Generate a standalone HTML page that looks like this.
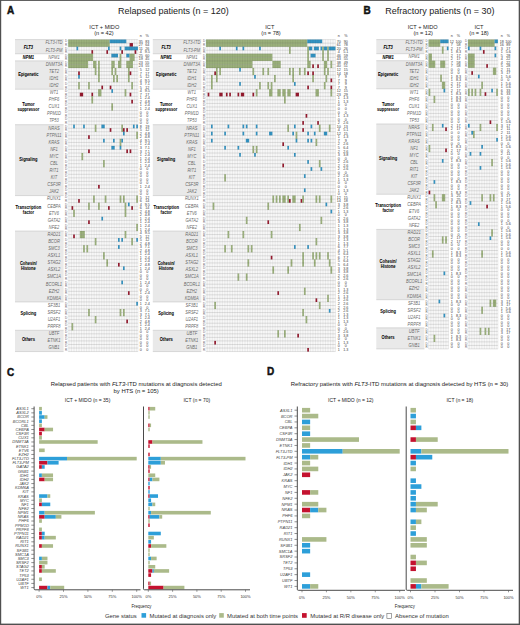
<!DOCTYPE html>
<html><head><meta charset="utf-8"><title>Figure</title>
<style>html,body{margin:0;padding:0;background:#fff;width:520px;height:625px;overflow:hidden;font-family:"Liberation Sans",sans-serif}svg{display:block}</style>
</head><body>
<svg width="520" height="625" viewBox="0 0 520 625" font-family="Liberation Sans, sans-serif"><rect x="0" y="0" width="520" height="625" fill="#fff"/>
<text x="7.1" y="14.3" font-size="10" text-anchor="start" font-weight="bold" font-style="normal" fill="#111" stroke="#111" stroke-width="0.45">A</text>
<text x="173.4" y="14.4" font-size="9" text-anchor="middle" font-weight="normal" font-style="normal" fill="#222" >Relapsed patients (n = 120)</text>
<rect x="15" y="39.6" width="48.6" height="14.18" fill="#e9e9e9"/>
<line x1="15" y1="39.6" x2="63.6" y2="39.6" stroke="#bbb" stroke-width="0.5"/>
<text transform="translate(28.4,48.71) scale(0.9,1)" font-size="4.5" text-anchor="middle" font-weight="bold" font-style="italic" fill="#000" stroke="#000" stroke-width="0.04">FLT3</text>
<text transform="translate(54,44.45) scale(0.84,1)" font-size="4.85" text-anchor="middle" font-style="italic" fill="#6a6a6a">FLT3-ITD</text>
<text transform="translate(54,51.53) scale(0.84,1)" font-size="4.85" text-anchor="middle" font-style="italic" fill="#6a6a6a">FLT3-PM</text>
<line x1="15" y1="53.78" x2="63.6" y2="53.78" stroke="#bbb" stroke-width="0.5"/>
<text transform="translate(28.4,59.45) scale(0.9,1)" font-size="4.5" text-anchor="middle" font-weight="bold" font-style="italic" fill="#000" stroke="#000" stroke-width="0.04">NPM1</text>
<text transform="translate(54,58.62) scale(0.84,1)" font-size="4.85" text-anchor="middle" font-style="italic" fill="#6a6a6a">NPM1</text>
<rect x="15" y="60.87" width="48.6" height="28.36" fill="#e9e9e9"/>
<line x1="15" y1="60.87" x2="63.6" y2="60.87" stroke="#bbb" stroke-width="0.5"/>
<text transform="translate(28.4,75.87) scale(0.9,1)" font-size="4.5" text-anchor="middle" font-weight="bold" font-style="normal" fill="#000" stroke="#000" stroke-width="0.04">Epigenetic</text>
<text transform="translate(54,65.72) scale(0.84,1)" font-size="4.85" text-anchor="middle" font-style="italic" fill="#6a6a6a">DNMT3A</text>
<text transform="translate(54,72.81) scale(0.84,1)" font-size="4.85" text-anchor="middle" font-style="italic" fill="#6a6a6a">TET2</text>
<text transform="translate(54,79.9) scale(0.84,1)" font-size="4.85" text-anchor="middle" font-style="italic" fill="#6a6a6a">IDH1</text>
<text transform="translate(54,86.98) scale(0.84,1)" font-size="4.85" text-anchor="middle" font-style="italic" fill="#6a6a6a">IDH2</text>
<line x1="15" y1="89.23" x2="63.6" y2="89.23" stroke="#bbb" stroke-width="0.5"/>
<text transform="translate(28.4,106.23) scale(0.9,1)" font-size="4.5" text-anchor="middle" font-weight="bold" font-style="normal" fill="#000" stroke="#000" stroke-width="0.04">Tumor</text>
<text transform="translate(28.4,111.33) scale(0.9,1)" font-size="4.5" text-anchor="middle" font-weight="bold" font-style="normal" fill="#000" stroke="#000" stroke-width="0.04">suppressor</text>
<text transform="translate(54,94.08) scale(0.84,1)" font-size="4.85" text-anchor="middle" font-style="italic" fill="#6a6a6a">WT1</text>
<text transform="translate(54,101.17) scale(0.84,1)" font-size="4.85" text-anchor="middle" font-style="italic" fill="#6a6a6a">PHF6</text>
<text transform="translate(54,108.25) scale(0.84,1)" font-size="4.85" text-anchor="middle" font-style="italic" fill="#6a6a6a">CUX1</text>
<text transform="translate(54,115.34) scale(0.84,1)" font-size="4.85" text-anchor="middle" font-style="italic" fill="#6a6a6a">PPM1D</text>
<text transform="translate(54,122.44) scale(0.84,1)" font-size="4.85" text-anchor="middle" font-style="italic" fill="#6a6a6a">TP53</text>
<rect x="15" y="124.68" width="48.6" height="70.9" fill="#e9e9e9"/>
<line x1="15" y1="124.68" x2="63.6" y2="124.68" stroke="#bbb" stroke-width="0.5"/>
<text transform="translate(28.4,161.45) scale(0.9,1)" font-size="4.5" text-anchor="middle" font-weight="bold" font-style="normal" fill="#000" stroke="#000" stroke-width="0.04">Signaling</text>
<text transform="translate(54,129.53) scale(0.84,1)" font-size="4.85" text-anchor="middle" font-style="italic" fill="#6a6a6a">NRAS</text>
<text transform="translate(54,136.62) scale(0.84,1)" font-size="4.85" text-anchor="middle" font-style="italic" fill="#6a6a6a">PTPN11</text>
<text transform="translate(54,143.71) scale(0.84,1)" font-size="4.85" text-anchor="middle" font-style="italic" fill="#6a6a6a">KRAS</text>
<text transform="translate(54,150.8) scale(0.84,1)" font-size="4.85" text-anchor="middle" font-style="italic" fill="#6a6a6a">NF1</text>
<text transform="translate(54,157.89) scale(0.84,1)" font-size="4.85" text-anchor="middle" font-style="italic" fill="#6a6a6a">MYC</text>
<text transform="translate(54,164.97) scale(0.84,1)" font-size="4.85" text-anchor="middle" font-style="italic" fill="#6a6a6a">CBL</text>
<text transform="translate(54,172.06) scale(0.84,1)" font-size="4.85" text-anchor="middle" font-style="italic" fill="#6a6a6a">RIT1</text>
<text transform="translate(54,179.16) scale(0.84,1)" font-size="4.85" text-anchor="middle" font-style="italic" fill="#6a6a6a">KIT</text>
<text transform="translate(54,186.25) scale(0.84,1)" font-size="4.85" text-anchor="middle" font-style="italic" fill="#6a6a6a">CSF3R</text>
<text transform="translate(54,193.34) scale(0.84,1)" font-size="4.85" text-anchor="middle" font-style="italic" fill="#6a6a6a">JAK2</text>
<line x1="15" y1="195.58" x2="63.6" y2="195.58" stroke="#bbb" stroke-width="0.5"/>
<text transform="translate(28.4,208.57) scale(0.9,1)" font-size="4.5" text-anchor="middle" font-weight="bold" font-style="normal" fill="#000" stroke="#000" stroke-width="0.04">Transcription</text>
<text transform="translate(28.4,213.68) scale(0.9,1)" font-size="4.5" text-anchor="middle" font-weight="bold" font-style="normal" fill="#000" stroke="#000" stroke-width="0.04">factor</text>
<text transform="translate(54,200.43) scale(0.84,1)" font-size="4.85" text-anchor="middle" font-style="italic" fill="#6a6a6a">RUNX1</text>
<text transform="translate(54,207.52) scale(0.84,1)" font-size="4.85" text-anchor="middle" font-style="italic" fill="#6a6a6a">CEBPA</text>
<text transform="translate(54,214.61) scale(0.84,1)" font-size="4.85" text-anchor="middle" font-style="italic" fill="#6a6a6a">ETV6</text>
<text transform="translate(54,221.7) scale(0.84,1)" font-size="4.85" text-anchor="middle" font-style="italic" fill="#6a6a6a">GATA2</text>
<text transform="translate(54,228.78) scale(0.84,1)" font-size="4.85" text-anchor="middle" font-style="italic" fill="#6a6a6a">NFE2</text>
<rect x="15" y="231.03" width="48.6" height="70.9" fill="#e9e9e9"/>
<line x1="15" y1="231.03" x2="63.6" y2="231.03" stroke="#bbb" stroke-width="0.5"/>
<text transform="translate(28.4,265.25) scale(0.9,1)" font-size="4.5" text-anchor="middle" font-weight="bold" font-style="normal" fill="#000" stroke="#000" stroke-width="0.04">Cohesin/</text>
<text transform="translate(28.4,270.35) scale(0.9,1)" font-size="4.5" text-anchor="middle" font-weight="bold" font-style="normal" fill="#000" stroke="#000" stroke-width="0.04">Histone</text>
<text transform="translate(54,235.88) scale(0.84,1)" font-size="4.85" text-anchor="middle" font-style="italic" fill="#6a6a6a">RAD21</text>
<text transform="translate(54,242.97) scale(0.84,1)" font-size="4.85" text-anchor="middle" font-style="italic" fill="#6a6a6a">BCOR</text>
<text transform="translate(54,250.06) scale(0.84,1)" font-size="4.85" text-anchor="middle" font-style="italic" fill="#6a6a6a">SMC3</text>
<text transform="translate(54,257.15) scale(0.84,1)" font-size="4.85" text-anchor="middle" font-style="italic" fill="#6a6a6a">ASXL1</text>
<text transform="translate(54,264.24) scale(0.84,1)" font-size="4.85" text-anchor="middle" font-style="italic" fill="#6a6a6a">STAG2</text>
<text transform="translate(54,271.33) scale(0.84,1)" font-size="4.85" text-anchor="middle" font-style="italic" fill="#6a6a6a">ASXL2</text>
<text transform="translate(54,278.42) scale(0.84,1)" font-size="4.85" text-anchor="middle" font-style="italic" fill="#6a6a6a">SMC1A</text>
<text transform="translate(54,285.51) scale(0.84,1)" font-size="4.85" text-anchor="middle" font-style="italic" fill="#6a6a6a">BCORL1</text>
<text transform="translate(54,292.6) scale(0.84,1)" font-size="4.85" text-anchor="middle" font-style="italic" fill="#6a6a6a">EZH2</text>
<text transform="translate(54,299.69) scale(0.84,1)" font-size="4.85" text-anchor="middle" font-style="italic" fill="#6a6a6a">KDM6A</text>
<line x1="15" y1="301.93" x2="63.6" y2="301.93" stroke="#bbb" stroke-width="0.5"/>
<text transform="translate(28.4,315.33) scale(0.9,1)" font-size="4.5" text-anchor="middle" font-weight="bold" font-style="normal" fill="#000" stroke="#000" stroke-width="0.04">Splicing</text>
<text transform="translate(54,306.78) scale(0.84,1)" font-size="4.85" text-anchor="middle" font-style="italic" fill="#6a6a6a">SF3B1</text>
<text transform="translate(54,313.87) scale(0.84,1)" font-size="4.85" text-anchor="middle" font-style="italic" fill="#6a6a6a">SRSF2</text>
<text transform="translate(54,320.96) scale(0.84,1)" font-size="4.85" text-anchor="middle" font-style="italic" fill="#6a6a6a">U2AF1</text>
<text transform="translate(54,328.05) scale(0.84,1)" font-size="4.85" text-anchor="middle" font-style="italic" fill="#6a6a6a">PRPF8</text>
<rect x="15" y="330.29" width="48.6" height="21.27" fill="#e9e9e9"/>
<line x1="15" y1="330.29" x2="63.6" y2="330.29" stroke="#bbb" stroke-width="0.5"/>
<text transform="translate(28.4,341.25) scale(0.9,1)" font-size="4.5" text-anchor="middle" font-weight="bold" font-style="normal" fill="#000" stroke="#000" stroke-width="0.04">Others</text>
<text transform="translate(54,335.14) scale(0.84,1)" font-size="4.85" text-anchor="middle" font-style="italic" fill="#6a6a6a">UBTF</text>
<text transform="translate(54,342.23) scale(0.84,1)" font-size="4.85" text-anchor="middle" font-style="italic" fill="#6a6a6a">ETNK1</text>
<text transform="translate(54,349.32) scale(0.84,1)" font-size="4.85" text-anchor="middle" font-style="italic" fill="#6a6a6a">GNB1</text>
<line x1="15" y1="351.56" x2="63.6" y2="351.56" stroke="#bbb" stroke-width="0.5"/>
<rect x="68.2" y="39.6" width="69.72" height="311.96" fill="#fefefe"/>
<rect x="68.2" y="39.55" width="41.5" height="3.65" fill="#9fb57e"/>
<rect x="109.7" y="39.55" width="16.6" height="3.65" fill="#3598c8"/>
<rect x="68.2" y="43.1" width="41.5" height="3.65" fill="#9fb57e"/>
<rect x="129.62" y="43.1" width="3.32" height="3.65" fill="#9b1b30"/>
<rect x="76.5" y="46.64" width="1.66" height="3.65" fill="#3598c8"/>
<rect x="108.04" y="46.64" width="1.66" height="3.65" fill="#3598c8"/>
<rect x="119.66" y="46.64" width="1.66" height="3.65" fill="#3598c8"/>
<rect x="124.64" y="46.64" width="13.28" height="3.65" fill="#3598c8"/>
<rect x="91.44" y="50.19" width="1.66" height="3.65" fill="#9b1b30"/>
<rect x="106.38" y="50.19" width="1.66" height="3.65" fill="#9b1b30"/>
<rect x="121.32" y="50.19" width="1.66" height="3.65" fill="#9b1b30"/>
<rect x="134.6" y="50.19" width="1.66" height="3.65" fill="#9b1b30"/>
<rect x="68.2" y="53.73" width="24.9" height="3.65" fill="#9fb57e"/>
<rect x="111.36" y="53.73" width="6.64" height="3.65" fill="#3598c8"/>
<rect x="119.66" y="53.73" width="1.66" height="3.65" fill="#9fb57e"/>
<rect x="126.3" y="53.73" width="3.32" height="3.65" fill="#3598c8"/>
<rect x="129.62" y="53.73" width="4.98" height="3.65" fill="#9fb57e"/>
<rect x="68.2" y="57.28" width="24.9" height="3.65" fill="#9fb57e"/>
<rect x="119.66" y="57.28" width="1.66" height="3.65" fill="#9fb57e"/>
<rect x="129.62" y="57.28" width="4.98" height="3.65" fill="#9fb57e"/>
<rect x="68.2" y="60.82" width="19.92" height="3.65" fill="#9fb57e"/>
<rect x="93.1" y="60.82" width="3.32" height="3.65" fill="#9fb57e"/>
<rect x="98.08" y="60.82" width="1.66" height="3.65" fill="#9fb57e"/>
<rect x="111.36" y="60.82" width="3.32" height="3.65" fill="#9fb57e"/>
<rect x="118" y="60.82" width="3.32" height="3.65" fill="#9fb57e"/>
<rect x="126.3" y="60.82" width="6.64" height="3.65" fill="#9fb57e"/>
<rect x="68.2" y="64.37" width="19.92" height="3.65" fill="#9fb57e"/>
<rect x="93.1" y="64.37" width="3.32" height="3.65" fill="#9fb57e"/>
<rect x="98.08" y="64.37" width="1.66" height="3.65" fill="#9fb57e"/>
<rect x="111.36" y="64.37" width="3.32" height="3.65" fill="#9fb57e"/>
<rect x="118" y="64.37" width="3.32" height="3.65" fill="#9fb57e"/>
<rect x="126.3" y="64.37" width="6.64" height="3.65" fill="#9fb57e"/>
<rect x="94.76" y="67.91" width="1.66" height="3.65" fill="#9fb57e"/>
<rect x="98.08" y="67.91" width="1.66" height="3.65" fill="#9fb57e"/>
<rect x="111.36" y="67.91" width="1.66" height="3.65" fill="#9fb57e"/>
<rect x="114.68" y="67.91" width="1.66" height="3.65" fill="#9fb57e"/>
<rect x="127.96" y="67.91" width="1.66" height="3.65" fill="#9fb57e"/>
<rect x="78.16" y="71.46" width="1.66" height="3.65" fill="#9b1b30"/>
<rect x="94.76" y="71.46" width="1.66" height="3.65" fill="#9fb57e"/>
<rect x="98.08" y="71.46" width="1.66" height="3.65" fill="#9fb57e"/>
<rect x="111.36" y="71.46" width="1.66" height="3.65" fill="#9fb57e"/>
<rect x="114.68" y="71.46" width="1.66" height="3.65" fill="#9fb57e"/>
<rect x="127.96" y="71.46" width="1.66" height="3.65" fill="#9fb57e"/>
<rect x="129.62" y="71.46" width="1.66" height="3.65" fill="#9b1b30"/>
<rect x="78.16" y="75" width="1.66" height="3.65" fill="#3598c8"/>
<rect x="98.08" y="75" width="1.66" height="3.65" fill="#9fb57e"/>
<rect x="113.02" y="75" width="1.66" height="3.65" fill="#9fb57e"/>
<rect x="116.34" y="75" width="1.66" height="3.65" fill="#9fb57e"/>
<rect x="127.96" y="75" width="1.66" height="3.65" fill="#9fb57e"/>
<rect x="98.08" y="78.55" width="1.66" height="3.65" fill="#9fb57e"/>
<rect x="113.02" y="78.55" width="1.66" height="3.65" fill="#9fb57e"/>
<rect x="116.34" y="78.55" width="1.66" height="3.65" fill="#9fb57e"/>
<rect x="127.96" y="78.55" width="1.66" height="3.65" fill="#9fb57e"/>
<rect x="78.16" y="82.09" width="1.66" height="3.65" fill="#9fb57e"/>
<rect x="88.12" y="82.09" width="1.66" height="3.65" fill="#9fb57e"/>
<rect x="131.28" y="82.09" width="1.66" height="3.65" fill="#9fb57e"/>
<rect x="78.16" y="85.64" width="1.66" height="3.65" fill="#9fb57e"/>
<rect x="88.12" y="85.64" width="1.66" height="3.65" fill="#9fb57e"/>
<rect x="101.4" y="85.64" width="1.66" height="3.65" fill="#9b1b30"/>
<rect x="109.7" y="85.64" width="1.66" height="3.65" fill="#9b1b30"/>
<rect x="131.28" y="85.64" width="1.66" height="3.65" fill="#9fb57e"/>
<rect x="98.08" y="89.18" width="3.32" height="3.65" fill="#9fb57e"/>
<rect x="111.36" y="89.18" width="1.66" height="3.65" fill="#3598c8"/>
<rect x="124.64" y="89.18" width="1.66" height="3.65" fill="#9fb57e"/>
<rect x="79.82" y="92.72" width="3.32" height="3.65" fill="#9b1b30"/>
<rect x="91.44" y="92.72" width="1.66" height="3.65" fill="#9b1b30"/>
<rect x="98.08" y="92.72" width="3.32" height="3.65" fill="#9fb57e"/>
<rect x="124.64" y="92.72" width="1.66" height="3.65" fill="#9fb57e"/>
<rect x="129.62" y="92.72" width="1.66" height="3.65" fill="#9b1b30"/>
<rect x="91.44" y="96.27" width="1.66" height="3.65" fill="#9fb57e"/>
<rect x="91.44" y="99.81" width="1.66" height="3.65" fill="#9fb57e"/>
<rect x="131.28" y="99.81" width="1.66" height="3.65" fill="#9b1b30"/>
<rect x="111.36" y="103.36" width="1.66" height="3.65" fill="#9fb57e"/>
<rect x="111.36" y="106.91" width="1.66" height="3.65" fill="#9fb57e"/>
<rect x="73.18" y="124.63" width="1.66" height="3.65" fill="#3598c8"/>
<rect x="83.14" y="124.63" width="1.66" height="3.65" fill="#3598c8"/>
<rect x="94.76" y="124.63" width="1.66" height="3.65" fill="#9fb57e"/>
<rect x="101.4" y="124.63" width="3.32" height="3.65" fill="#3598c8"/>
<rect x="121.32" y="124.63" width="1.66" height="3.65" fill="#9fb57e"/>
<rect x="132.94" y="124.63" width="1.66" height="3.65" fill="#3598c8"/>
<rect x="136.26" y="124.63" width="1.66" height="3.65" fill="#3598c8"/>
<rect x="94.76" y="128.17" width="1.66" height="3.65" fill="#9fb57e"/>
<rect x="109.7" y="128.17" width="1.66" height="3.65" fill="#9b1b30"/>
<rect x="121.32" y="128.17" width="1.66" height="3.65" fill="#9fb57e"/>
<rect x="122.98" y="128.17" width="1.66" height="3.65" fill="#9b1b30"/>
<rect x="126.3" y="128.17" width="1.66" height="3.65" fill="#9b1b30"/>
<rect x="122.98" y="131.72" width="1.66" height="3.65" fill="#3598c8"/>
<rect x="136.26" y="131.72" width="1.66" height="3.65" fill="#9fb57e"/>
<rect x="88.12" y="135.26" width="1.66" height="3.65" fill="#9b1b30"/>
<rect x="136.26" y="135.26" width="1.66" height="3.65" fill="#9fb57e"/>
<rect x="103.06" y="138.81" width="1.66" height="3.65" fill="#3598c8"/>
<rect x="113.02" y="138.81" width="1.66" height="3.65" fill="#3598c8"/>
<rect x="119.66" y="138.81" width="1.66" height="3.65" fill="#9fb57e"/>
<rect x="121.32" y="138.81" width="1.66" height="3.65" fill="#3598c8"/>
<rect x="119.66" y="142.35" width="1.66" height="3.65" fill="#9fb57e"/>
<rect x="111.36" y="145.9" width="3.32" height="3.65" fill="#3598c8"/>
<rect x="119.66" y="145.9" width="1.66" height="3.65" fill="#3598c8"/>
<rect x="88.12" y="149.44" width="1.66" height="3.65" fill="#9b1b30"/>
<rect x="126.3" y="149.44" width="1.66" height="3.65" fill="#9b1b30"/>
<rect x="129.62" y="149.44" width="1.66" height="3.65" fill="#9b1b30"/>
<rect x="81.48" y="152.99" width="1.66" height="3.65" fill="#9fb57e"/>
<rect x="81.48" y="156.53" width="1.66" height="3.65" fill="#9fb57e"/>
<rect x="103.06" y="160.08" width="1.66" height="3.65" fill="#9fb57e"/>
<rect x="103.06" y="163.62" width="1.66" height="3.65" fill="#9fb57e"/>
<rect x="98.08" y="184.89" width="1.66" height="3.65" fill="#9b1b30"/>
<rect x="93.1" y="195.53" width="1.66" height="3.65" fill="#9fb57e"/>
<rect x="104.72" y="195.53" width="1.66" height="3.65" fill="#9fb57e"/>
<rect x="119.66" y="195.53" width="1.66" height="3.65" fill="#9fb57e"/>
<rect x="122.98" y="195.53" width="1.66" height="3.65" fill="#9fb57e"/>
<rect x="136.26" y="195.53" width="1.66" height="3.65" fill="#9fb57e"/>
<rect x="78.16" y="199.07" width="1.66" height="3.65" fill="#9b1b30"/>
<rect x="93.1" y="199.07" width="1.66" height="3.65" fill="#9fb57e"/>
<rect x="104.72" y="199.07" width="1.66" height="3.65" fill="#9fb57e"/>
<rect x="119.66" y="199.07" width="1.66" height="3.65" fill="#9fb57e"/>
<rect x="122.98" y="199.07" width="1.66" height="3.65" fill="#9fb57e"/>
<rect x="136.26" y="199.07" width="1.66" height="3.65" fill="#9fb57e"/>
<rect x="88.12" y="202.62" width="1.66" height="3.65" fill="#9fb57e"/>
<rect x="98.08" y="202.62" width="1.66" height="3.65" fill="#9fb57e"/>
<rect x="124.64" y="202.62" width="1.66" height="3.65" fill="#9fb57e"/>
<rect x="127.96" y="202.62" width="1.66" height="3.65" fill="#3598c8"/>
<rect x="71.52" y="206.16" width="1.66" height="3.65" fill="#9b1b30"/>
<rect x="88.12" y="206.16" width="1.66" height="3.65" fill="#9fb57e"/>
<rect x="98.08" y="206.16" width="1.66" height="3.65" fill="#9fb57e"/>
<rect x="108.04" y="206.16" width="1.66" height="3.65" fill="#9b1b30"/>
<rect x="124.64" y="206.16" width="1.66" height="3.65" fill="#9fb57e"/>
<rect x="131.28" y="206.16" width="1.66" height="3.65" fill="#9b1b30"/>
<rect x="73.18" y="209.71" width="1.66" height="3.65" fill="#9fb57e"/>
<rect x="124.64" y="209.71" width="1.66" height="3.65" fill="#9fb57e"/>
<rect x="73.18" y="213.25" width="1.66" height="3.65" fill="#9fb57e"/>
<rect x="124.64" y="213.25" width="1.66" height="3.65" fill="#9fb57e"/>
<rect x="101.4" y="216.8" width="1.66" height="3.65" fill="#3598c8"/>
<rect x="88.12" y="220.34" width="1.66" height="3.65" fill="#9b1b30"/>
<rect x="136.26" y="223.89" width="1.66" height="3.65" fill="#9fb57e"/>
<rect x="136.26" y="227.43" width="1.66" height="3.65" fill="#9fb57e"/>
<rect x="79.82" y="230.98" width="4.98" height="3.65" fill="#9fb57e"/>
<rect x="124.64" y="230.98" width="1.66" height="3.65" fill="#9fb57e"/>
<rect x="73.18" y="234.52" width="1.66" height="3.65" fill="#9b1b30"/>
<rect x="79.82" y="234.52" width="4.98" height="3.65" fill="#9fb57e"/>
<rect x="124.64" y="234.52" width="1.66" height="3.65" fill="#9fb57e"/>
<rect x="94.76" y="238.07" width="1.66" height="3.65" fill="#9fb57e"/>
<rect x="118" y="238.07" width="1.66" height="3.65" fill="#3598c8"/>
<rect x="121.32" y="238.07" width="1.66" height="3.65" fill="#3598c8"/>
<rect x="131.28" y="238.07" width="1.66" height="3.65" fill="#9fb57e"/>
<rect x="136.26" y="238.07" width="1.66" height="3.65" fill="#3598c8"/>
<rect x="94.76" y="241.61" width="1.66" height="3.65" fill="#9fb57e"/>
<rect x="131.28" y="241.61" width="1.66" height="3.65" fill="#9fb57e"/>
<rect x="83.14" y="245.16" width="1.66" height="3.65" fill="#9fb57e"/>
<rect x="86.46" y="245.16" width="1.66" height="3.65" fill="#9fb57e"/>
<rect x="118" y="245.16" width="1.66" height="3.65" fill="#3598c8"/>
<rect x="83.14" y="248.7" width="1.66" height="3.65" fill="#9fb57e"/>
<rect x="86.46" y="248.7" width="1.66" height="3.65" fill="#9fb57e"/>
<rect x="103.06" y="252.25" width="1.66" height="3.65" fill="#9fb57e"/>
<rect x="103.06" y="255.79" width="1.66" height="3.65" fill="#9fb57e"/>
<rect x="106.38" y="259.34" width="1.66" height="3.65" fill="#9fb57e"/>
<rect x="106.38" y="262.88" width="1.66" height="3.65" fill="#9fb57e"/>
<rect x="118" y="262.88" width="1.66" height="3.65" fill="#9b1b30"/>
<rect x="122.98" y="266.43" width="1.66" height="3.65" fill="#3598c8"/>
<rect x="121.32" y="280.61" width="1.66" height="3.65" fill="#3598c8"/>
<rect x="127.96" y="291.25" width="1.66" height="3.65" fill="#9b1b30"/>
<rect x="136.26" y="301.88" width="1.66" height="3.65" fill="#3598c8"/>
<rect x="88.12" y="308.97" width="1.66" height="3.65" fill="#9fb57e"/>
<rect x="119.66" y="308.97" width="1.66" height="3.65" fill="#9fb57e"/>
<rect x="122.98" y="308.97" width="1.66" height="3.65" fill="#9fb57e"/>
<rect x="88.12" y="312.52" width="1.66" height="3.65" fill="#9fb57e"/>
<rect x="119.66" y="312.52" width="1.66" height="3.65" fill="#9fb57e"/>
<rect x="122.98" y="312.52" width="1.66" height="3.65" fill="#9fb57e"/>
<rect x="94.76" y="316.06" width="1.66" height="3.65" fill="#9fb57e"/>
<rect x="94.76" y="319.61" width="1.66" height="3.65" fill="#9fb57e"/>
<rect x="126.3" y="319.61" width="1.66" height="3.65" fill="#9b1b30"/>
<rect x="71.52" y="323.15" width="1.66" height="3.65" fill="#9fb57e"/>
<rect x="71.52" y="326.7" width="1.66" height="3.65" fill="#9fb57e"/>
<path d="M68.2 39.6V351.56M69.86 39.6V351.56M71.52 39.6V351.56M73.18 39.6V351.56M74.84 39.6V351.56M76.5 39.6V351.56M78.16 39.6V351.56M79.82 39.6V351.56M81.48 39.6V351.56M83.14 39.6V351.56M84.8 39.6V351.56M86.46 39.6V351.56M88.12 39.6V351.56M89.78 39.6V351.56M91.44 39.6V351.56M93.1 39.6V351.56M94.76 39.6V351.56M96.42 39.6V351.56M98.08 39.6V351.56M99.74 39.6V351.56M101.4 39.6V351.56M103.06 39.6V351.56M104.72 39.6V351.56M106.38 39.6V351.56M108.04 39.6V351.56M109.7 39.6V351.56M111.36 39.6V351.56M113.02 39.6V351.56M114.68 39.6V351.56M116.34 39.6V351.56M118 39.6V351.56M119.66 39.6V351.56M121.32 39.6V351.56M122.98 39.6V351.56M124.64 39.6V351.56M126.3 39.6V351.56M127.96 39.6V351.56M129.62 39.6V351.56M131.28 39.6V351.56M132.94 39.6V351.56M134.6 39.6V351.56M136.26 39.6V351.56M137.92 39.6V351.56" stroke="#000" stroke-opacity="0.19" stroke-width="0.42" fill="none"/>
<path d="M68.2 39.6H137.92M68.2 43.15H137.92M68.2 46.69H137.92M68.2 50.23H137.92M68.2 53.78H137.92M68.2 57.33H137.92M68.2 60.87H137.92M68.2 64.41H137.92M68.2 67.96H137.92M68.2 71.5H137.92M68.2 75.05H137.92M68.2 78.59H137.92M68.2 82.14H137.92M68.2 85.69H137.92M68.2 89.23H137.92M68.2 92.78H137.92M68.2 96.32H137.92M68.2 99.87H137.92M68.2 103.41H137.92M68.2 106.96H137.92M68.2 110.5H137.92M68.2 114.04H137.92M68.2 117.59H137.92M68.2 121.13H137.92M68.2 124.68H137.92M68.2 128.22H137.92M68.2 131.77H137.92M68.2 135.31H137.92M68.2 138.86H137.92M68.2 142.41H137.92M68.2 145.95H137.92M68.2 149.5H137.92M68.2 153.04H137.92M68.2 156.59H137.92M68.2 160.13H137.92M68.2 163.68H137.92M68.2 167.22H137.92M68.2 170.76H137.92M68.2 174.31H137.92M68.2 177.85H137.92M68.2 181.4H137.92M68.2 184.94H137.92M68.2 188.49H137.92M68.2 192.03H137.92M68.2 195.58H137.92M68.2 199.12H137.92M68.2 202.67H137.92M68.2 206.22H137.92M68.2 209.76H137.92M68.2 213.3H137.92M68.2 216.85H137.92M68.2 220.39H137.92M68.2 223.94H137.92M68.2 227.48H137.92M68.2 231.03H137.92M68.2 234.57H137.92M68.2 238.12H137.92M68.2 241.66H137.92M68.2 245.21H137.92M68.2 248.75H137.92M68.2 252.3H137.92M68.2 255.84H137.92M68.2 259.39H137.92M68.2 262.94H137.92M68.2 266.48H137.92M68.2 270.02H137.92M68.2 273.57H137.92M68.2 277.12H137.92M68.2 280.66H137.92M68.2 284.2H137.92M68.2 287.75H137.92M68.2 291.3H137.92M68.2 294.84H137.92M68.2 298.38H137.92M68.2 301.93H137.92M68.2 305.48H137.92M68.2 309.02H137.92M68.2 312.56H137.92M68.2 316.11H137.92M68.2 319.66H137.92M68.2 323.2H137.92M68.2 326.75H137.92M68.2 330.29H137.92M68.2 333.84H137.92M68.2 337.38H137.92M68.2 340.93H137.92M68.2 344.47H137.92M68.2 348.02H137.92M68.2 351.56H137.92" stroke="#000" stroke-opacity="0.25" stroke-width="0.45" fill="none"/>
<text x="66.1" y="42.47" font-size="3" text-anchor="middle" font-weight="normal" font-style="normal" fill="#666" >D</text>
<text x="140.8" y="42.62" font-size="3.7" text-anchor="middle" font-weight="normal" font-style="normal" fill="#3a3a3a" >35</text>
<text x="147.2" y="42.62" font-size="3.7" text-anchor="middle" font-weight="normal" font-style="normal" fill="#3a3a3a" >83</text>
<text x="66.1" y="46.02" font-size="3" text-anchor="middle" font-weight="normal" font-style="normal" fill="#666" >R</text>
<text x="140.8" y="46.17" font-size="3.7" text-anchor="middle" font-weight="normal" font-style="normal" fill="#3a3a3a" >27</text>
<text x="147.2" y="46.17" font-size="3.7" text-anchor="middle" font-weight="normal" font-style="normal" fill="#3a3a3a" >64</text>
<text x="66.1" y="49.56" font-size="3" text-anchor="middle" font-weight="normal" font-style="normal" fill="#666" >D</text>
<text x="140.8" y="49.71" font-size="3.7" text-anchor="middle" font-weight="normal" font-style="normal" fill="#3a3a3a" >11</text>
<text x="147.2" y="49.71" font-size="3.7" text-anchor="middle" font-weight="normal" font-style="normal" fill="#3a3a3a" >26</text>
<text x="66.1" y="53.11" font-size="3" text-anchor="middle" font-weight="normal" font-style="normal" fill="#666" >R</text>
<text x="140.8" y="53.26" font-size="3.7" text-anchor="middle" font-weight="normal" font-style="normal" fill="#3a3a3a" >4</text>
<text x="147.2" y="53.26" font-size="3.7" text-anchor="middle" font-weight="normal" font-style="normal" fill="#3a3a3a" >9.5</text>
<text x="66.1" y="56.65" font-size="3" text-anchor="middle" font-weight="normal" font-style="normal" fill="#666" >D</text>
<text x="140.8" y="56.8" font-size="3.7" text-anchor="middle" font-weight="normal" font-style="normal" fill="#3a3a3a" >25</text>
<text x="147.2" y="56.8" font-size="3.7" text-anchor="middle" font-weight="normal" font-style="normal" fill="#3a3a3a" >60</text>
<text x="66.1" y="60.2" font-size="3" text-anchor="middle" font-weight="normal" font-style="normal" fill="#666" >R</text>
<text x="140.8" y="60.35" font-size="3.7" text-anchor="middle" font-weight="normal" font-style="normal" fill="#3a3a3a" >19</text>
<text x="147.2" y="60.35" font-size="3.7" text-anchor="middle" font-weight="normal" font-style="normal" fill="#3a3a3a" >45</text>
<text x="66.1" y="63.74" font-size="3" text-anchor="middle" font-weight="normal" font-style="normal" fill="#666" >D</text>
<text x="140.8" y="63.89" font-size="3.7" text-anchor="middle" font-weight="normal" font-style="normal" fill="#3a3a3a" >23</text>
<text x="147.2" y="63.89" font-size="3.7" text-anchor="middle" font-weight="normal" font-style="normal" fill="#3a3a3a" >55</text>
<text x="66.1" y="67.29" font-size="3" text-anchor="middle" font-weight="normal" font-style="normal" fill="#666" >R</text>
<text x="140.8" y="67.44" font-size="3.7" text-anchor="middle" font-weight="normal" font-style="normal" fill="#3a3a3a" >23</text>
<text x="147.2" y="67.44" font-size="3.7" text-anchor="middle" font-weight="normal" font-style="normal" fill="#3a3a3a" >55</text>
<text x="66.1" y="70.83" font-size="3" text-anchor="middle" font-weight="normal" font-style="normal" fill="#666" >D</text>
<text x="140.8" y="70.98" font-size="3.7" text-anchor="middle" font-weight="normal" font-style="normal" fill="#3a3a3a" >5</text>
<text x="147.2" y="70.98" font-size="3.7" text-anchor="middle" font-weight="normal" font-style="normal" fill="#3a3a3a" >12</text>
<text x="66.1" y="74.38" font-size="3" text-anchor="middle" font-weight="normal" font-style="normal" fill="#666" >R</text>
<text x="140.8" y="74.53" font-size="3.7" text-anchor="middle" font-weight="normal" font-style="normal" fill="#3a3a3a" >7</text>
<text x="147.2" y="74.53" font-size="3.7" text-anchor="middle" font-weight="normal" font-style="normal" fill="#3a3a3a" >17</text>
<text x="66.1" y="77.92" font-size="3" text-anchor="middle" font-weight="normal" font-style="normal" fill="#666" >D</text>
<text x="140.8" y="78.07" font-size="3.7" text-anchor="middle" font-weight="normal" font-style="normal" fill="#3a3a3a" >5</text>
<text x="147.2" y="78.07" font-size="3.7" text-anchor="middle" font-weight="normal" font-style="normal" fill="#3a3a3a" >12</text>
<text x="66.1" y="81.47" font-size="3" text-anchor="middle" font-weight="normal" font-style="normal" fill="#666" >R</text>
<text x="140.8" y="81.62" font-size="3.7" text-anchor="middle" font-weight="normal" font-style="normal" fill="#3a3a3a" >4</text>
<text x="147.2" y="81.62" font-size="3.7" text-anchor="middle" font-weight="normal" font-style="normal" fill="#3a3a3a" >9.5</text>
<text x="66.1" y="85.01" font-size="3" text-anchor="middle" font-weight="normal" font-style="normal" fill="#666" >D</text>
<text x="140.8" y="85.16" font-size="3.7" text-anchor="middle" font-weight="normal" font-style="normal" fill="#3a3a3a" >3</text>
<text x="147.2" y="85.16" font-size="3.7" text-anchor="middle" font-weight="normal" font-style="normal" fill="#3a3a3a" >7.1</text>
<text x="66.1" y="88.56" font-size="3" text-anchor="middle" font-weight="normal" font-style="normal" fill="#666" >R</text>
<text x="140.8" y="88.71" font-size="3.7" text-anchor="middle" font-weight="normal" font-style="normal" fill="#3a3a3a" >5</text>
<text x="147.2" y="88.71" font-size="3.7" text-anchor="middle" font-weight="normal" font-style="normal" fill="#3a3a3a" >12</text>
<text x="66.1" y="92.1" font-size="3" text-anchor="middle" font-weight="normal" font-style="normal" fill="#666" >D</text>
<text x="140.8" y="92.25" font-size="3.7" text-anchor="middle" font-weight="normal" font-style="normal" fill="#3a3a3a" >4</text>
<text x="147.2" y="92.25" font-size="3.7" text-anchor="middle" font-weight="normal" font-style="normal" fill="#3a3a3a" >9.5</text>
<text x="66.1" y="95.65" font-size="3" text-anchor="middle" font-weight="normal" font-style="normal" fill="#666" >R</text>
<text x="140.8" y="95.8" font-size="3.7" text-anchor="middle" font-weight="normal" font-style="normal" fill="#3a3a3a" >7</text>
<text x="147.2" y="95.8" font-size="3.7" text-anchor="middle" font-weight="normal" font-style="normal" fill="#3a3a3a" >17</text>
<text x="66.1" y="99.19" font-size="3" text-anchor="middle" font-weight="normal" font-style="normal" fill="#666" >D</text>
<text x="140.8" y="99.34" font-size="3.7" text-anchor="middle" font-weight="normal" font-style="normal" fill="#3a3a3a" >1</text>
<text x="147.2" y="99.34" font-size="3.7" text-anchor="middle" font-weight="normal" font-style="normal" fill="#3a3a3a" >2.4</text>
<text x="66.1" y="102.74" font-size="3" text-anchor="middle" font-weight="normal" font-style="normal" fill="#666" >R</text>
<text x="140.8" y="102.89" font-size="3.7" text-anchor="middle" font-weight="normal" font-style="normal" fill="#3a3a3a" >2</text>
<text x="147.2" y="102.89" font-size="3.7" text-anchor="middle" font-weight="normal" font-style="normal" fill="#3a3a3a" >4.8</text>
<text x="66.1" y="106.28" font-size="3" text-anchor="middle" font-weight="normal" font-style="normal" fill="#666" >D</text>
<text x="140.8" y="106.43" font-size="3.7" text-anchor="middle" font-weight="normal" font-style="normal" fill="#3a3a3a" >1</text>
<text x="147.2" y="106.43" font-size="3.7" text-anchor="middle" font-weight="normal" font-style="normal" fill="#3a3a3a" >2.4</text>
<text x="66.1" y="109.83" font-size="3" text-anchor="middle" font-weight="normal" font-style="normal" fill="#666" >R</text>
<text x="140.8" y="109.98" font-size="3.7" text-anchor="middle" font-weight="normal" font-style="normal" fill="#3a3a3a" >1</text>
<text x="147.2" y="109.98" font-size="3.7" text-anchor="middle" font-weight="normal" font-style="normal" fill="#3a3a3a" >2.4</text>
<text x="66.1" y="113.37" font-size="3" text-anchor="middle" font-weight="normal" font-style="normal" fill="#666" >D</text>
<text x="140.8" y="113.52" font-size="3.7" text-anchor="middle" font-weight="normal" font-style="normal" fill="#3a3a3a" >0</text>
<text x="147.2" y="113.52" font-size="3.7" text-anchor="middle" font-weight="normal" font-style="normal" fill="#3a3a3a" >0</text>
<text x="66.1" y="116.92" font-size="3" text-anchor="middle" font-weight="normal" font-style="normal" fill="#666" >R</text>
<text x="140.8" y="117.07" font-size="3.7" text-anchor="middle" font-weight="normal" font-style="normal" fill="#3a3a3a" >0</text>
<text x="147.2" y="117.07" font-size="3.7" text-anchor="middle" font-weight="normal" font-style="normal" fill="#3a3a3a" >0</text>
<text x="66.1" y="120.46" font-size="3" text-anchor="middle" font-weight="normal" font-style="normal" fill="#666" >D</text>
<text x="140.8" y="120.61" font-size="3.7" text-anchor="middle" font-weight="normal" font-style="normal" fill="#3a3a3a" >0</text>
<text x="147.2" y="120.61" font-size="3.7" text-anchor="middle" font-weight="normal" font-style="normal" fill="#3a3a3a" >0</text>
<text x="66.1" y="124.01" font-size="3" text-anchor="middle" font-weight="normal" font-style="normal" fill="#666" >R</text>
<text x="140.8" y="124.16" font-size="3.7" text-anchor="middle" font-weight="normal" font-style="normal" fill="#3a3a3a" >0</text>
<text x="147.2" y="124.16" font-size="3.7" text-anchor="middle" font-weight="normal" font-style="normal" fill="#3a3a3a" >0</text>
<text x="66.1" y="127.55" font-size="3" text-anchor="middle" font-weight="normal" font-style="normal" fill="#666" >D</text>
<text x="140.8" y="127.7" font-size="3.7" text-anchor="middle" font-weight="normal" font-style="normal" fill="#3a3a3a" >8</text>
<text x="147.2" y="127.7" font-size="3.7" text-anchor="middle" font-weight="normal" font-style="normal" fill="#3a3a3a" >19</text>
<text x="66.1" y="131.1" font-size="3" text-anchor="middle" font-weight="normal" font-style="normal" fill="#666" >R</text>
<text x="140.8" y="131.25" font-size="3.7" text-anchor="middle" font-weight="normal" font-style="normal" fill="#3a3a3a" >5</text>
<text x="147.2" y="131.25" font-size="3.7" text-anchor="middle" font-weight="normal" font-style="normal" fill="#3a3a3a" >12</text>
<text x="66.1" y="134.64" font-size="3" text-anchor="middle" font-weight="normal" font-style="normal" fill="#666" >D</text>
<text x="140.8" y="134.79" font-size="3.7" text-anchor="middle" font-weight="normal" font-style="normal" fill="#3a3a3a" >2</text>
<text x="147.2" y="134.79" font-size="3.7" text-anchor="middle" font-weight="normal" font-style="normal" fill="#3a3a3a" >4.8</text>
<text x="66.1" y="138.19" font-size="3" text-anchor="middle" font-weight="normal" font-style="normal" fill="#666" >R</text>
<text x="140.8" y="138.34" font-size="3.7" text-anchor="middle" font-weight="normal" font-style="normal" fill="#3a3a3a" >2</text>
<text x="147.2" y="138.34" font-size="3.7" text-anchor="middle" font-weight="normal" font-style="normal" fill="#3a3a3a" >4.8</text>
<text x="66.1" y="141.73" font-size="3" text-anchor="middle" font-weight="normal" font-style="normal" fill="#666" >D</text>
<text x="140.8" y="141.88" font-size="3.7" text-anchor="middle" font-weight="normal" font-style="normal" fill="#3a3a3a" >4</text>
<text x="147.2" y="141.88" font-size="3.7" text-anchor="middle" font-weight="normal" font-style="normal" fill="#3a3a3a" >9.5</text>
<text x="66.1" y="145.28" font-size="3" text-anchor="middle" font-weight="normal" font-style="normal" fill="#666" >R</text>
<text x="140.8" y="145.43" font-size="3.7" text-anchor="middle" font-weight="normal" font-style="normal" fill="#3a3a3a" >1</text>
<text x="147.2" y="145.43" font-size="3.7" text-anchor="middle" font-weight="normal" font-style="normal" fill="#3a3a3a" >2.4</text>
<text x="66.1" y="148.82" font-size="3" text-anchor="middle" font-weight="normal" font-style="normal" fill="#666" >D</text>
<text x="140.8" y="148.97" font-size="3.7" text-anchor="middle" font-weight="normal" font-style="normal" fill="#3a3a3a" >3</text>
<text x="147.2" y="148.97" font-size="3.7" text-anchor="middle" font-weight="normal" font-style="normal" fill="#3a3a3a" >7.1</text>
<text x="66.1" y="152.37" font-size="3" text-anchor="middle" font-weight="normal" font-style="normal" fill="#666" >R</text>
<text x="140.8" y="152.52" font-size="3.7" text-anchor="middle" font-weight="normal" font-style="normal" fill="#3a3a3a" >3</text>
<text x="147.2" y="152.52" font-size="3.7" text-anchor="middle" font-weight="normal" font-style="normal" fill="#3a3a3a" >7.1</text>
<text x="66.1" y="155.91" font-size="3" text-anchor="middle" font-weight="normal" font-style="normal" fill="#666" >D</text>
<text x="140.8" y="156.06" font-size="3.7" text-anchor="middle" font-weight="normal" font-style="normal" fill="#3a3a3a" >1</text>
<text x="147.2" y="156.06" font-size="3.7" text-anchor="middle" font-weight="normal" font-style="normal" fill="#3a3a3a" >2.4</text>
<text x="66.1" y="159.46" font-size="3" text-anchor="middle" font-weight="normal" font-style="normal" fill="#666" >R</text>
<text x="140.8" y="159.61" font-size="3.7" text-anchor="middle" font-weight="normal" font-style="normal" fill="#3a3a3a" >1</text>
<text x="147.2" y="159.61" font-size="3.7" text-anchor="middle" font-weight="normal" font-style="normal" fill="#3a3a3a" >2.4</text>
<text x="66.1" y="163" font-size="3" text-anchor="middle" font-weight="normal" font-style="normal" fill="#666" >D</text>
<text x="140.8" y="163.15" font-size="3.7" text-anchor="middle" font-weight="normal" font-style="normal" fill="#3a3a3a" >1</text>
<text x="147.2" y="163.15" font-size="3.7" text-anchor="middle" font-weight="normal" font-style="normal" fill="#3a3a3a" >2.4</text>
<text x="66.1" y="166.55" font-size="3" text-anchor="middle" font-weight="normal" font-style="normal" fill="#666" >R</text>
<text x="140.8" y="166.7" font-size="3.7" text-anchor="middle" font-weight="normal" font-style="normal" fill="#3a3a3a" >1</text>
<text x="147.2" y="166.7" font-size="3.7" text-anchor="middle" font-weight="normal" font-style="normal" fill="#3a3a3a" >2.4</text>
<text x="66.1" y="170.09" font-size="3" text-anchor="middle" font-weight="normal" font-style="normal" fill="#666" >D</text>
<text x="140.8" y="170.24" font-size="3.7" text-anchor="middle" font-weight="normal" font-style="normal" fill="#3a3a3a" >0</text>
<text x="147.2" y="170.24" font-size="3.7" text-anchor="middle" font-weight="normal" font-style="normal" fill="#3a3a3a" >0</text>
<text x="66.1" y="173.64" font-size="3" text-anchor="middle" font-weight="normal" font-style="normal" fill="#666" >R</text>
<text x="140.8" y="173.79" font-size="3.7" text-anchor="middle" font-weight="normal" font-style="normal" fill="#3a3a3a" >0</text>
<text x="147.2" y="173.79" font-size="3.7" text-anchor="middle" font-weight="normal" font-style="normal" fill="#3a3a3a" >0</text>
<text x="66.1" y="177.18" font-size="3" text-anchor="middle" font-weight="normal" font-style="normal" fill="#666" >D</text>
<text x="140.8" y="177.33" font-size="3.7" text-anchor="middle" font-weight="normal" font-style="normal" fill="#3a3a3a" >0</text>
<text x="147.2" y="177.33" font-size="3.7" text-anchor="middle" font-weight="normal" font-style="normal" fill="#3a3a3a" >0</text>
<text x="66.1" y="180.73" font-size="3" text-anchor="middle" font-weight="normal" font-style="normal" fill="#666" >R</text>
<text x="140.8" y="180.88" font-size="3.7" text-anchor="middle" font-weight="normal" font-style="normal" fill="#3a3a3a" >0</text>
<text x="147.2" y="180.88" font-size="3.7" text-anchor="middle" font-weight="normal" font-style="normal" fill="#3a3a3a" >0</text>
<text x="66.1" y="184.27" font-size="3" text-anchor="middle" font-weight="normal" font-style="normal" fill="#666" >D</text>
<text x="140.8" y="184.42" font-size="3.7" text-anchor="middle" font-weight="normal" font-style="normal" fill="#3a3a3a" >0</text>
<text x="147.2" y="184.42" font-size="3.7" text-anchor="middle" font-weight="normal" font-style="normal" fill="#3a3a3a" >0</text>
<text x="66.1" y="187.82" font-size="3" text-anchor="middle" font-weight="normal" font-style="normal" fill="#666" >R</text>
<text x="140.8" y="187.97" font-size="3.7" text-anchor="middle" font-weight="normal" font-style="normal" fill="#3a3a3a" >1</text>
<text x="147.2" y="187.97" font-size="3.7" text-anchor="middle" font-weight="normal" font-style="normal" fill="#3a3a3a" >2.4</text>
<text x="66.1" y="191.36" font-size="3" text-anchor="middle" font-weight="normal" font-style="normal" fill="#666" >D</text>
<text x="140.8" y="191.51" font-size="3.7" text-anchor="middle" font-weight="normal" font-style="normal" fill="#3a3a3a" >0</text>
<text x="147.2" y="191.51" font-size="3.7" text-anchor="middle" font-weight="normal" font-style="normal" fill="#3a3a3a" >0</text>
<text x="66.1" y="194.91" font-size="3" text-anchor="middle" font-weight="normal" font-style="normal" fill="#666" >R</text>
<text x="140.8" y="195.06" font-size="3.7" text-anchor="middle" font-weight="normal" font-style="normal" fill="#3a3a3a" >0</text>
<text x="147.2" y="195.06" font-size="3.7" text-anchor="middle" font-weight="normal" font-style="normal" fill="#3a3a3a" >0</text>
<text x="66.1" y="198.45" font-size="3" text-anchor="middle" font-weight="normal" font-style="normal" fill="#666" >D</text>
<text x="140.8" y="198.6" font-size="3.7" text-anchor="middle" font-weight="normal" font-style="normal" fill="#3a3a3a" >5</text>
<text x="147.2" y="198.6" font-size="3.7" text-anchor="middle" font-weight="normal" font-style="normal" fill="#3a3a3a" >12</text>
<text x="66.1" y="202" font-size="3" text-anchor="middle" font-weight="normal" font-style="normal" fill="#666" >R</text>
<text x="140.8" y="202.15" font-size="3.7" text-anchor="middle" font-weight="normal" font-style="normal" fill="#3a3a3a" >6</text>
<text x="147.2" y="202.15" font-size="3.7" text-anchor="middle" font-weight="normal" font-style="normal" fill="#3a3a3a" >14</text>
<text x="66.1" y="205.54" font-size="3" text-anchor="middle" font-weight="normal" font-style="normal" fill="#666" >D</text>
<text x="140.8" y="205.69" font-size="3.7" text-anchor="middle" font-weight="normal" font-style="normal" fill="#3a3a3a" >4</text>
<text x="147.2" y="205.69" font-size="3.7" text-anchor="middle" font-weight="normal" font-style="normal" fill="#3a3a3a" >9.5</text>
<text x="66.1" y="209.09" font-size="3" text-anchor="middle" font-weight="normal" font-style="normal" fill="#666" >R</text>
<text x="140.8" y="209.24" font-size="3.7" text-anchor="middle" font-weight="normal" font-style="normal" fill="#3a3a3a" >6</text>
<text x="147.2" y="209.24" font-size="3.7" text-anchor="middle" font-weight="normal" font-style="normal" fill="#3a3a3a" >14</text>
<text x="66.1" y="212.63" font-size="3" text-anchor="middle" font-weight="normal" font-style="normal" fill="#666" >D</text>
<text x="140.8" y="212.78" font-size="3.7" text-anchor="middle" font-weight="normal" font-style="normal" fill="#3a3a3a" >2</text>
<text x="147.2" y="212.78" font-size="3.7" text-anchor="middle" font-weight="normal" font-style="normal" fill="#3a3a3a" >4.8</text>
<text x="66.1" y="216.18" font-size="3" text-anchor="middle" font-weight="normal" font-style="normal" fill="#666" >R</text>
<text x="140.8" y="216.33" font-size="3.7" text-anchor="middle" font-weight="normal" font-style="normal" fill="#3a3a3a" >2</text>
<text x="147.2" y="216.33" font-size="3.7" text-anchor="middle" font-weight="normal" font-style="normal" fill="#3a3a3a" >4.8</text>
<text x="66.1" y="219.72" font-size="3" text-anchor="middle" font-weight="normal" font-style="normal" fill="#666" >D</text>
<text x="140.8" y="219.87" font-size="3.7" text-anchor="middle" font-weight="normal" font-style="normal" fill="#3a3a3a" >1</text>
<text x="147.2" y="219.87" font-size="3.7" text-anchor="middle" font-weight="normal" font-style="normal" fill="#3a3a3a" >2.4</text>
<text x="66.1" y="223.27" font-size="3" text-anchor="middle" font-weight="normal" font-style="normal" fill="#666" >R</text>
<text x="140.8" y="223.42" font-size="3.7" text-anchor="middle" font-weight="normal" font-style="normal" fill="#3a3a3a" >1</text>
<text x="147.2" y="223.42" font-size="3.7" text-anchor="middle" font-weight="normal" font-style="normal" fill="#3a3a3a" >2.4</text>
<text x="66.1" y="226.81" font-size="3" text-anchor="middle" font-weight="normal" font-style="normal" fill="#666" >D</text>
<text x="140.8" y="226.96" font-size="3.7" text-anchor="middle" font-weight="normal" font-style="normal" fill="#3a3a3a" >1</text>
<text x="147.2" y="226.96" font-size="3.7" text-anchor="middle" font-weight="normal" font-style="normal" fill="#3a3a3a" >2.4</text>
<text x="66.1" y="230.36" font-size="3" text-anchor="middle" font-weight="normal" font-style="normal" fill="#666" >R</text>
<text x="140.8" y="230.51" font-size="3.7" text-anchor="middle" font-weight="normal" font-style="normal" fill="#3a3a3a" >1</text>
<text x="147.2" y="230.51" font-size="3.7" text-anchor="middle" font-weight="normal" font-style="normal" fill="#3a3a3a" >2.4</text>
<text x="66.1" y="233.9" font-size="3" text-anchor="middle" font-weight="normal" font-style="normal" fill="#666" >D</text>
<text x="140.8" y="234.05" font-size="3.7" text-anchor="middle" font-weight="normal" font-style="normal" fill="#3a3a3a" >4</text>
<text x="147.2" y="234.05" font-size="3.7" text-anchor="middle" font-weight="normal" font-style="normal" fill="#3a3a3a" >9.5</text>
<text x="66.1" y="237.45" font-size="3" text-anchor="middle" font-weight="normal" font-style="normal" fill="#666" >R</text>
<text x="140.8" y="237.6" font-size="3.7" text-anchor="middle" font-weight="normal" font-style="normal" fill="#3a3a3a" >5</text>
<text x="147.2" y="237.6" font-size="3.7" text-anchor="middle" font-weight="normal" font-style="normal" fill="#3a3a3a" >12</text>
<text x="66.1" y="240.99" font-size="3" text-anchor="middle" font-weight="normal" font-style="normal" fill="#666" >D</text>
<text x="140.8" y="241.14" font-size="3.7" text-anchor="middle" font-weight="normal" font-style="normal" fill="#3a3a3a" >5</text>
<text x="147.2" y="241.14" font-size="3.7" text-anchor="middle" font-weight="normal" font-style="normal" fill="#3a3a3a" >12</text>
<text x="66.1" y="244.54" font-size="3" text-anchor="middle" font-weight="normal" font-style="normal" fill="#666" >R</text>
<text x="140.8" y="244.69" font-size="3.7" text-anchor="middle" font-weight="normal" font-style="normal" fill="#3a3a3a" >2</text>
<text x="147.2" y="244.69" font-size="3.7" text-anchor="middle" font-weight="normal" font-style="normal" fill="#3a3a3a" >4.8</text>
<text x="66.1" y="248.08" font-size="3" text-anchor="middle" font-weight="normal" font-style="normal" fill="#666" >D</text>
<text x="140.8" y="248.23" font-size="3.7" text-anchor="middle" font-weight="normal" font-style="normal" fill="#3a3a3a" >3</text>
<text x="147.2" y="248.23" font-size="3.7" text-anchor="middle" font-weight="normal" font-style="normal" fill="#3a3a3a" >7.1</text>
<text x="66.1" y="251.63" font-size="3" text-anchor="middle" font-weight="normal" font-style="normal" fill="#666" >R</text>
<text x="140.8" y="251.78" font-size="3.7" text-anchor="middle" font-weight="normal" font-style="normal" fill="#3a3a3a" >2</text>
<text x="147.2" y="251.78" font-size="3.7" text-anchor="middle" font-weight="normal" font-style="normal" fill="#3a3a3a" >4.8</text>
<text x="66.1" y="255.17" font-size="3" text-anchor="middle" font-weight="normal" font-style="normal" fill="#666" >D</text>
<text x="140.8" y="255.32" font-size="3.7" text-anchor="middle" font-weight="normal" font-style="normal" fill="#3a3a3a" >1</text>
<text x="147.2" y="255.32" font-size="3.7" text-anchor="middle" font-weight="normal" font-style="normal" fill="#3a3a3a" >2.4</text>
<text x="66.1" y="258.72" font-size="3" text-anchor="middle" font-weight="normal" font-style="normal" fill="#666" >R</text>
<text x="140.8" y="258.87" font-size="3.7" text-anchor="middle" font-weight="normal" font-style="normal" fill="#3a3a3a" >1</text>
<text x="147.2" y="258.87" font-size="3.7" text-anchor="middle" font-weight="normal" font-style="normal" fill="#3a3a3a" >2.4</text>
<text x="66.1" y="262.26" font-size="3" text-anchor="middle" font-weight="normal" font-style="normal" fill="#666" >D</text>
<text x="140.8" y="262.41" font-size="3.7" text-anchor="middle" font-weight="normal" font-style="normal" fill="#3a3a3a" >1</text>
<text x="147.2" y="262.41" font-size="3.7" text-anchor="middle" font-weight="normal" font-style="normal" fill="#3a3a3a" >2.4</text>
<text x="66.1" y="265.81" font-size="3" text-anchor="middle" font-weight="normal" font-style="normal" fill="#666" >R</text>
<text x="140.8" y="265.96" font-size="3.7" text-anchor="middle" font-weight="normal" font-style="normal" fill="#3a3a3a" >2</text>
<text x="147.2" y="265.96" font-size="3.7" text-anchor="middle" font-weight="normal" font-style="normal" fill="#3a3a3a" >4.8</text>
<text x="66.1" y="269.35" font-size="3" text-anchor="middle" font-weight="normal" font-style="normal" fill="#666" >D</text>
<text x="140.8" y="269.5" font-size="3.7" text-anchor="middle" font-weight="normal" font-style="normal" fill="#3a3a3a" >1</text>
<text x="147.2" y="269.5" font-size="3.7" text-anchor="middle" font-weight="normal" font-style="normal" fill="#3a3a3a" >2.4</text>
<text x="66.1" y="272.9" font-size="3" text-anchor="middle" font-weight="normal" font-style="normal" fill="#666" >R</text>
<text x="140.8" y="273.05" font-size="3.7" text-anchor="middle" font-weight="normal" font-style="normal" fill="#3a3a3a" >0</text>
<text x="147.2" y="273.05" font-size="3.7" text-anchor="middle" font-weight="normal" font-style="normal" fill="#3a3a3a" >0</text>
<text x="66.1" y="276.44" font-size="3" text-anchor="middle" font-weight="normal" font-style="normal" fill="#666" >D</text>
<text x="140.8" y="276.59" font-size="3.7" text-anchor="middle" font-weight="normal" font-style="normal" fill="#3a3a3a" >0</text>
<text x="147.2" y="276.59" font-size="3.7" text-anchor="middle" font-weight="normal" font-style="normal" fill="#3a3a3a" >0</text>
<text x="66.1" y="279.99" font-size="3" text-anchor="middle" font-weight="normal" font-style="normal" fill="#666" >R</text>
<text x="140.8" y="280.14" font-size="3.7" text-anchor="middle" font-weight="normal" font-style="normal" fill="#3a3a3a" >0</text>
<text x="147.2" y="280.14" font-size="3.7" text-anchor="middle" font-weight="normal" font-style="normal" fill="#3a3a3a" >0</text>
<text x="66.1" y="283.53" font-size="3" text-anchor="middle" font-weight="normal" font-style="normal" fill="#666" >D</text>
<text x="140.8" y="283.68" font-size="3.7" text-anchor="middle" font-weight="normal" font-style="normal" fill="#3a3a3a" >1</text>
<text x="147.2" y="283.68" font-size="3.7" text-anchor="middle" font-weight="normal" font-style="normal" fill="#3a3a3a" >2.4</text>
<text x="66.1" y="287.08" font-size="3" text-anchor="middle" font-weight="normal" font-style="normal" fill="#666" >R</text>
<text x="140.8" y="287.23" font-size="3.7" text-anchor="middle" font-weight="normal" font-style="normal" fill="#3a3a3a" >0</text>
<text x="147.2" y="287.23" font-size="3.7" text-anchor="middle" font-weight="normal" font-style="normal" fill="#3a3a3a" >0</text>
<text x="66.1" y="290.62" font-size="3" text-anchor="middle" font-weight="normal" font-style="normal" fill="#666" >D</text>
<text x="140.8" y="290.77" font-size="3.7" text-anchor="middle" font-weight="normal" font-style="normal" fill="#3a3a3a" >0</text>
<text x="147.2" y="290.77" font-size="3.7" text-anchor="middle" font-weight="normal" font-style="normal" fill="#3a3a3a" >0</text>
<text x="66.1" y="294.17" font-size="3" text-anchor="middle" font-weight="normal" font-style="normal" fill="#666" >R</text>
<text x="140.8" y="294.32" font-size="3.7" text-anchor="middle" font-weight="normal" font-style="normal" fill="#3a3a3a" >1</text>
<text x="147.2" y="294.32" font-size="3.7" text-anchor="middle" font-weight="normal" font-style="normal" fill="#3a3a3a" >2.4</text>
<text x="66.1" y="297.71" font-size="3" text-anchor="middle" font-weight="normal" font-style="normal" fill="#666" >D</text>
<text x="140.8" y="297.86" font-size="3.7" text-anchor="middle" font-weight="normal" font-style="normal" fill="#3a3a3a" >0</text>
<text x="147.2" y="297.86" font-size="3.7" text-anchor="middle" font-weight="normal" font-style="normal" fill="#3a3a3a" >0</text>
<text x="66.1" y="301.26" font-size="3" text-anchor="middle" font-weight="normal" font-style="normal" fill="#666" >R</text>
<text x="140.8" y="301.41" font-size="3.7" text-anchor="middle" font-weight="normal" font-style="normal" fill="#3a3a3a" >0</text>
<text x="147.2" y="301.41" font-size="3.7" text-anchor="middle" font-weight="normal" font-style="normal" fill="#3a3a3a" >0</text>
<text x="66.1" y="304.8" font-size="3" text-anchor="middle" font-weight="normal" font-style="normal" fill="#666" >D</text>
<text x="140.8" y="304.95" font-size="3.7" text-anchor="middle" font-weight="normal" font-style="normal" fill="#3a3a3a" >1</text>
<text x="147.2" y="304.95" font-size="3.7" text-anchor="middle" font-weight="normal" font-style="normal" fill="#3a3a3a" >2.4</text>
<text x="66.1" y="308.35" font-size="3" text-anchor="middle" font-weight="normal" font-style="normal" fill="#666" >R</text>
<text x="140.8" y="308.5" font-size="3.7" text-anchor="middle" font-weight="normal" font-style="normal" fill="#3a3a3a" >0</text>
<text x="147.2" y="308.5" font-size="3.7" text-anchor="middle" font-weight="normal" font-style="normal" fill="#3a3a3a" >0</text>
<text x="66.1" y="311.89" font-size="3" text-anchor="middle" font-weight="normal" font-style="normal" fill="#666" >D</text>
<text x="140.8" y="312.04" font-size="3.7" text-anchor="middle" font-weight="normal" font-style="normal" fill="#3a3a3a" >3</text>
<text x="147.2" y="312.04" font-size="3.7" text-anchor="middle" font-weight="normal" font-style="normal" fill="#3a3a3a" >7.1</text>
<text x="66.1" y="315.44" font-size="3" text-anchor="middle" font-weight="normal" font-style="normal" fill="#666" >R</text>
<text x="140.8" y="315.59" font-size="3.7" text-anchor="middle" font-weight="normal" font-style="normal" fill="#3a3a3a" >3</text>
<text x="147.2" y="315.59" font-size="3.7" text-anchor="middle" font-weight="normal" font-style="normal" fill="#3a3a3a" >7.1</text>
<text x="66.1" y="318.98" font-size="3" text-anchor="middle" font-weight="normal" font-style="normal" fill="#666" >D</text>
<text x="140.8" y="319.13" font-size="3.7" text-anchor="middle" font-weight="normal" font-style="normal" fill="#3a3a3a" >1</text>
<text x="147.2" y="319.13" font-size="3.7" text-anchor="middle" font-weight="normal" font-style="normal" fill="#3a3a3a" >2.4</text>
<text x="66.1" y="322.53" font-size="3" text-anchor="middle" font-weight="normal" font-style="normal" fill="#666" >R</text>
<text x="140.8" y="322.68" font-size="3.7" text-anchor="middle" font-weight="normal" font-style="normal" fill="#3a3a3a" >2</text>
<text x="147.2" y="322.68" font-size="3.7" text-anchor="middle" font-weight="normal" font-style="normal" fill="#3a3a3a" >4.8</text>
<text x="66.1" y="326.07" font-size="3" text-anchor="middle" font-weight="normal" font-style="normal" fill="#666" >D</text>
<text x="140.8" y="326.22" font-size="3.7" text-anchor="middle" font-weight="normal" font-style="normal" fill="#3a3a3a" >1</text>
<text x="147.2" y="326.22" font-size="3.7" text-anchor="middle" font-weight="normal" font-style="normal" fill="#3a3a3a" >2.4</text>
<text x="66.1" y="329.62" font-size="3" text-anchor="middle" font-weight="normal" font-style="normal" fill="#666" >R</text>
<text x="140.8" y="329.77" font-size="3.7" text-anchor="middle" font-weight="normal" font-style="normal" fill="#3a3a3a" >1</text>
<text x="147.2" y="329.77" font-size="3.7" text-anchor="middle" font-weight="normal" font-style="normal" fill="#3a3a3a" >2.4</text>
<text x="66.1" y="333.16" font-size="3" text-anchor="middle" font-weight="normal" font-style="normal" fill="#666" >D</text>
<text x="140.8" y="333.31" font-size="3.7" text-anchor="middle" font-weight="normal" font-style="normal" fill="#3a3a3a" >0</text>
<text x="147.2" y="333.31" font-size="3.7" text-anchor="middle" font-weight="normal" font-style="normal" fill="#3a3a3a" >0</text>
<text x="66.1" y="336.71" font-size="3" text-anchor="middle" font-weight="normal" font-style="normal" fill="#666" >R</text>
<text x="140.8" y="336.86" font-size="3.7" text-anchor="middle" font-weight="normal" font-style="normal" fill="#3a3a3a" >0</text>
<text x="147.2" y="336.86" font-size="3.7" text-anchor="middle" font-weight="normal" font-style="normal" fill="#3a3a3a" >0</text>
<text x="66.1" y="340.25" font-size="3" text-anchor="middle" font-weight="normal" font-style="normal" fill="#666" >D</text>
<text x="140.8" y="340.4" font-size="3.7" text-anchor="middle" font-weight="normal" font-style="normal" fill="#3a3a3a" >0</text>
<text x="147.2" y="340.4" font-size="3.7" text-anchor="middle" font-weight="normal" font-style="normal" fill="#3a3a3a" >0</text>
<text x="66.1" y="343.8" font-size="3" text-anchor="middle" font-weight="normal" font-style="normal" fill="#666" >R</text>
<text x="140.8" y="343.95" font-size="3.7" text-anchor="middle" font-weight="normal" font-style="normal" fill="#3a3a3a" >0</text>
<text x="147.2" y="343.95" font-size="3.7" text-anchor="middle" font-weight="normal" font-style="normal" fill="#3a3a3a" >0</text>
<text x="66.1" y="347.34" font-size="3" text-anchor="middle" font-weight="normal" font-style="normal" fill="#666" >D</text>
<text x="140.8" y="347.49" font-size="3.7" text-anchor="middle" font-weight="normal" font-style="normal" fill="#3a3a3a" >0</text>
<text x="147.2" y="347.49" font-size="3.7" text-anchor="middle" font-weight="normal" font-style="normal" fill="#3a3a3a" >0</text>
<text x="66.1" y="350.89" font-size="3" text-anchor="middle" font-weight="normal" font-style="normal" fill="#666" >R</text>
<text x="140.8" y="351.04" font-size="3.7" text-anchor="middle" font-weight="normal" font-style="normal" fill="#3a3a3a" >0</text>
<text x="147.2" y="351.04" font-size="3.7" text-anchor="middle" font-weight="normal" font-style="normal" fill="#3a3a3a" >0</text>
<text x="140.8" y="37.4" font-size="3.7" text-anchor="middle" font-weight="normal" font-style="normal" fill="#3a3a3a" >n</text>
<text x="147.2" y="37.4" font-size="3.7" text-anchor="middle" font-weight="normal" font-style="normal" fill="#3a3a3a" >%</text>
<text x="104.3" y="28.8" font-size="5.6" text-anchor="middle" font-weight="normal" font-style="normal" fill="#222" >ICT + MIDO</text>
<text x="103.9" y="35.2" font-size="5.6" text-anchor="middle" font-weight="normal" font-style="normal" fill="#222" >(n = 42)</text>
<rect x="152.8" y="39.6" width="48.5" height="14.18" fill="#e9e9e9"/>
<line x1="152.8" y1="39.6" x2="201.3" y2="39.6" stroke="#bbb" stroke-width="0.5"/>
<text transform="translate(166.2,48.71) scale(0.9,1)" font-size="4.5" text-anchor="middle" font-weight="bold" font-style="italic" fill="#000" stroke="#000" stroke-width="0.04">FLT3</text>
<text transform="translate(191.8,44.45) scale(0.84,1)" font-size="4.85" text-anchor="middle" font-style="italic" fill="#6a6a6a">FLT3-ITD</text>
<text transform="translate(191.8,51.53) scale(0.84,1)" font-size="4.85" text-anchor="middle" font-style="italic" fill="#6a6a6a">FLT3-PM</text>
<line x1="152.8" y1="53.78" x2="201.3" y2="53.78" stroke="#bbb" stroke-width="0.5"/>
<text transform="translate(166.2,59.45) scale(0.9,1)" font-size="4.5" text-anchor="middle" font-weight="bold" font-style="italic" fill="#000" stroke="#000" stroke-width="0.04">NPM1</text>
<text transform="translate(191.8,58.62) scale(0.84,1)" font-size="4.85" text-anchor="middle" font-style="italic" fill="#6a6a6a">NPM1</text>
<rect x="152.8" y="60.87" width="48.5" height="28.36" fill="#e9e9e9"/>
<line x1="152.8" y1="60.87" x2="201.3" y2="60.87" stroke="#bbb" stroke-width="0.5"/>
<text transform="translate(166.2,75.87) scale(0.9,1)" font-size="4.5" text-anchor="middle" font-weight="bold" font-style="normal" fill="#000" stroke="#000" stroke-width="0.04">Epigenetic</text>
<text transform="translate(191.8,65.72) scale(0.84,1)" font-size="4.85" text-anchor="middle" font-style="italic" fill="#6a6a6a">DNMT3A</text>
<text transform="translate(191.8,72.81) scale(0.84,1)" font-size="4.85" text-anchor="middle" font-style="italic" fill="#6a6a6a">TET2</text>
<text transform="translate(191.8,79.9) scale(0.84,1)" font-size="4.85" text-anchor="middle" font-style="italic" fill="#6a6a6a">IDH1</text>
<text transform="translate(191.8,86.98) scale(0.84,1)" font-size="4.85" text-anchor="middle" font-style="italic" fill="#6a6a6a">IDH2</text>
<line x1="152.8" y1="89.23" x2="201.3" y2="89.23" stroke="#bbb" stroke-width="0.5"/>
<text transform="translate(166.2,106.23) scale(0.9,1)" font-size="4.5" text-anchor="middle" font-weight="bold" font-style="normal" fill="#000" stroke="#000" stroke-width="0.04">Tumor</text>
<text transform="translate(166.2,111.33) scale(0.9,1)" font-size="4.5" text-anchor="middle" font-weight="bold" font-style="normal" fill="#000" stroke="#000" stroke-width="0.04">suppressor</text>
<text transform="translate(191.8,94.08) scale(0.84,1)" font-size="4.85" text-anchor="middle" font-style="italic" fill="#6a6a6a">WT1</text>
<text transform="translate(191.8,101.17) scale(0.84,1)" font-size="4.85" text-anchor="middle" font-style="italic" fill="#6a6a6a">PHF6</text>
<text transform="translate(191.8,108.25) scale(0.84,1)" font-size="4.85" text-anchor="middle" font-style="italic" fill="#6a6a6a">CUX1</text>
<text transform="translate(191.8,115.34) scale(0.84,1)" font-size="4.85" text-anchor="middle" font-style="italic" fill="#6a6a6a">PPM1D</text>
<text transform="translate(191.8,122.44) scale(0.84,1)" font-size="4.85" text-anchor="middle" font-style="italic" fill="#6a6a6a">TP53</text>
<rect x="152.8" y="124.68" width="48.5" height="70.9" fill="#e9e9e9"/>
<line x1="152.8" y1="124.68" x2="201.3" y2="124.68" stroke="#bbb" stroke-width="0.5"/>
<text transform="translate(166.2,161.45) scale(0.9,1)" font-size="4.5" text-anchor="middle" font-weight="bold" font-style="normal" fill="#000" stroke="#000" stroke-width="0.04">Signaling</text>
<text transform="translate(191.8,129.53) scale(0.84,1)" font-size="4.85" text-anchor="middle" font-style="italic" fill="#6a6a6a">NRAS</text>
<text transform="translate(191.8,136.62) scale(0.84,1)" font-size="4.85" text-anchor="middle" font-style="italic" fill="#6a6a6a">PTPN11</text>
<text transform="translate(191.8,143.71) scale(0.84,1)" font-size="4.85" text-anchor="middle" font-style="italic" fill="#6a6a6a">KRAS</text>
<text transform="translate(191.8,150.8) scale(0.84,1)" font-size="4.85" text-anchor="middle" font-style="italic" fill="#6a6a6a">NF1</text>
<text transform="translate(191.8,157.89) scale(0.84,1)" font-size="4.85" text-anchor="middle" font-style="italic" fill="#6a6a6a">MYC</text>
<text transform="translate(191.8,164.97) scale(0.84,1)" font-size="4.85" text-anchor="middle" font-style="italic" fill="#6a6a6a">CBL</text>
<text transform="translate(191.8,172.06) scale(0.84,1)" font-size="4.85" text-anchor="middle" font-style="italic" fill="#6a6a6a">RIT1</text>
<text transform="translate(191.8,179.16) scale(0.84,1)" font-size="4.85" text-anchor="middle" font-style="italic" fill="#6a6a6a">KIT</text>
<text transform="translate(191.8,186.25) scale(0.84,1)" font-size="4.85" text-anchor="middle" font-style="italic" fill="#6a6a6a">CSF3R</text>
<text transform="translate(191.8,193.34) scale(0.84,1)" font-size="4.85" text-anchor="middle" font-style="italic" fill="#6a6a6a">JAK2</text>
<line x1="152.8" y1="195.58" x2="201.3" y2="195.58" stroke="#bbb" stroke-width="0.5"/>
<text transform="translate(166.2,208.57) scale(0.9,1)" font-size="4.5" text-anchor="middle" font-weight="bold" font-style="normal" fill="#000" stroke="#000" stroke-width="0.04">Transcription</text>
<text transform="translate(166.2,213.68) scale(0.9,1)" font-size="4.5" text-anchor="middle" font-weight="bold" font-style="normal" fill="#000" stroke="#000" stroke-width="0.04">factor</text>
<text transform="translate(191.8,200.43) scale(0.84,1)" font-size="4.85" text-anchor="middle" font-style="italic" fill="#6a6a6a">RUNX1</text>
<text transform="translate(191.8,207.52) scale(0.84,1)" font-size="4.85" text-anchor="middle" font-style="italic" fill="#6a6a6a">CEBPA</text>
<text transform="translate(191.8,214.61) scale(0.84,1)" font-size="4.85" text-anchor="middle" font-style="italic" fill="#6a6a6a">ETV6</text>
<text transform="translate(191.8,221.7) scale(0.84,1)" font-size="4.85" text-anchor="middle" font-style="italic" fill="#6a6a6a">GATA2</text>
<text transform="translate(191.8,228.78) scale(0.84,1)" font-size="4.85" text-anchor="middle" font-style="italic" fill="#6a6a6a">NFE2</text>
<rect x="152.8" y="231.03" width="48.5" height="70.9" fill="#e9e9e9"/>
<line x1="152.8" y1="231.03" x2="201.3" y2="231.03" stroke="#bbb" stroke-width="0.5"/>
<text transform="translate(166.2,265.25) scale(0.9,1)" font-size="4.5" text-anchor="middle" font-weight="bold" font-style="normal" fill="#000" stroke="#000" stroke-width="0.04">Cohesin/</text>
<text transform="translate(166.2,270.35) scale(0.9,1)" font-size="4.5" text-anchor="middle" font-weight="bold" font-style="normal" fill="#000" stroke="#000" stroke-width="0.04">Histone</text>
<text transform="translate(191.8,235.88) scale(0.84,1)" font-size="4.85" text-anchor="middle" font-style="italic" fill="#6a6a6a">RAD21</text>
<text transform="translate(191.8,242.97) scale(0.84,1)" font-size="4.85" text-anchor="middle" font-style="italic" fill="#6a6a6a">BCOR</text>
<text transform="translate(191.8,250.06) scale(0.84,1)" font-size="4.85" text-anchor="middle" font-style="italic" fill="#6a6a6a">SMC3</text>
<text transform="translate(191.8,257.15) scale(0.84,1)" font-size="4.85" text-anchor="middle" font-style="italic" fill="#6a6a6a">ASXL1</text>
<text transform="translate(191.8,264.24) scale(0.84,1)" font-size="4.85" text-anchor="middle" font-style="italic" fill="#6a6a6a">STAG2</text>
<text transform="translate(191.8,271.33) scale(0.84,1)" font-size="4.85" text-anchor="middle" font-style="italic" fill="#6a6a6a">ASXL2</text>
<text transform="translate(191.8,278.42) scale(0.84,1)" font-size="4.85" text-anchor="middle" font-style="italic" fill="#6a6a6a">SMC1A</text>
<text transform="translate(191.8,285.51) scale(0.84,1)" font-size="4.85" text-anchor="middle" font-style="italic" fill="#6a6a6a">BCORL1</text>
<text transform="translate(191.8,292.6) scale(0.84,1)" font-size="4.85" text-anchor="middle" font-style="italic" fill="#6a6a6a">EZH2</text>
<text transform="translate(191.8,299.69) scale(0.84,1)" font-size="4.85" text-anchor="middle" font-style="italic" fill="#6a6a6a">KDM6A</text>
<line x1="152.8" y1="301.93" x2="201.3" y2="301.93" stroke="#bbb" stroke-width="0.5"/>
<text transform="translate(166.2,315.33) scale(0.9,1)" font-size="4.5" text-anchor="middle" font-weight="bold" font-style="normal" fill="#000" stroke="#000" stroke-width="0.04">Splicing</text>
<text transform="translate(191.8,306.78) scale(0.84,1)" font-size="4.85" text-anchor="middle" font-style="italic" fill="#6a6a6a">SF3B1</text>
<text transform="translate(191.8,313.87) scale(0.84,1)" font-size="4.85" text-anchor="middle" font-style="italic" fill="#6a6a6a">SRSF2</text>
<text transform="translate(191.8,320.96) scale(0.84,1)" font-size="4.85" text-anchor="middle" font-style="italic" fill="#6a6a6a">U2AF1</text>
<text transform="translate(191.8,328.05) scale(0.84,1)" font-size="4.85" text-anchor="middle" font-style="italic" fill="#6a6a6a">PRPF8</text>
<rect x="152.8" y="330.29" width="48.5" height="21.27" fill="#e9e9e9"/>
<line x1="152.8" y1="330.29" x2="201.3" y2="330.29" stroke="#bbb" stroke-width="0.5"/>
<text transform="translate(166.2,341.25) scale(0.9,1)" font-size="4.5" text-anchor="middle" font-weight="bold" font-style="normal" fill="#000" stroke="#000" stroke-width="0.04">Others</text>
<text transform="translate(191.8,335.14) scale(0.84,1)" font-size="4.85" text-anchor="middle" font-style="italic" fill="#6a6a6a">UBTF</text>
<text transform="translate(191.8,342.23) scale(0.84,1)" font-size="4.85" text-anchor="middle" font-style="italic" fill="#6a6a6a">ETNK1</text>
<text transform="translate(191.8,349.32) scale(0.84,1)" font-size="4.85" text-anchor="middle" font-style="italic" fill="#6a6a6a">GNB1</text>
<line x1="152.8" y1="351.56" x2="201.3" y2="351.56" stroke="#bbb" stroke-width="0.5"/>
<rect x="206" y="39.6" width="129.48" height="311.96" fill="#fefefe"/>
<rect x="206" y="39.55" width="101.26" height="3.65" fill="#9fb57e"/>
<rect x="307.26" y="39.55" width="14.94" height="3.65" fill="#3598c8"/>
<rect x="206" y="43.1" width="101.26" height="3.65" fill="#9fb57e"/>
<rect x="219.28" y="46.64" width="1.66" height="3.65" fill="#3598c8"/>
<rect x="235.88" y="46.64" width="1.66" height="3.65" fill="#3598c8"/>
<rect x="242.52" y="46.64" width="1.66" height="3.65" fill="#3598c8"/>
<rect x="259.12" y="46.64" width="1.66" height="3.65" fill="#3598c8"/>
<rect x="289" y="46.64" width="1.66" height="3.65" fill="#9fb57e"/>
<rect x="307.26" y="46.64" width="1.66" height="3.65" fill="#9fb57e"/>
<rect x="308.92" y="46.64" width="3.32" height="3.65" fill="#3598c8"/>
<rect x="313.9" y="46.64" width="4.98" height="3.65" fill="#3598c8"/>
<rect x="320.54" y="46.64" width="1.66" height="3.65" fill="#3598c8"/>
<rect x="322.2" y="46.64" width="1.66" height="3.65" fill="#9fb57e"/>
<rect x="323.86" y="46.64" width="3.32" height="3.65" fill="#3598c8"/>
<rect x="327.18" y="46.64" width="1.66" height="3.65" fill="#9fb57e"/>
<rect x="328.84" y="46.64" width="6.64" height="3.65" fill="#3598c8"/>
<rect x="289" y="50.19" width="1.66" height="3.65" fill="#9fb57e"/>
<rect x="307.26" y="50.19" width="1.66" height="3.65" fill="#9fb57e"/>
<rect x="322.2" y="50.19" width="1.66" height="3.65" fill="#9fb57e"/>
<rect x="327.18" y="50.19" width="1.66" height="3.65" fill="#9fb57e"/>
<rect x="206" y="53.73" width="66.4" height="3.65" fill="#9fb57e"/>
<rect x="307.26" y="53.73" width="1.66" height="3.65" fill="#9fb57e"/>
<rect x="310.58" y="53.73" width="4.98" height="3.65" fill="#3598c8"/>
<rect x="322.2" y="53.73" width="1.66" height="3.65" fill="#9fb57e"/>
<rect x="327.18" y="53.73" width="1.66" height="3.65" fill="#9fb57e"/>
<rect x="206" y="57.28" width="66.4" height="3.65" fill="#9fb57e"/>
<rect x="307.26" y="57.28" width="1.66" height="3.65" fill="#9fb57e"/>
<rect x="322.2" y="57.28" width="1.66" height="3.65" fill="#9fb57e"/>
<rect x="327.18" y="57.28" width="1.66" height="3.65" fill="#9fb57e"/>
<rect x="206" y="60.82" width="46.48" height="3.65" fill="#9fb57e"/>
<rect x="272.4" y="60.82" width="8.3" height="3.65" fill="#9fb57e"/>
<rect x="307.26" y="60.82" width="3.32" height="3.65" fill="#9fb57e"/>
<rect x="323.86" y="60.82" width="3.32" height="3.65" fill="#9fb57e"/>
<rect x="330.5" y="60.82" width="1.66" height="3.65" fill="#9fb57e"/>
<rect x="206" y="64.37" width="46.48" height="3.65" fill="#9fb57e"/>
<rect x="272.4" y="64.37" width="8.3" height="3.65" fill="#9fb57e"/>
<rect x="307.26" y="64.37" width="3.32" height="3.65" fill="#9fb57e"/>
<rect x="312.24" y="64.37" width="1.66" height="3.65" fill="#9b1b30"/>
<rect x="317.22" y="64.37" width="1.66" height="3.65" fill="#9b1b30"/>
<rect x="323.86" y="64.37" width="3.32" height="3.65" fill="#9fb57e"/>
<rect x="330.5" y="64.37" width="1.66" height="3.65" fill="#9fb57e"/>
<rect x="215.96" y="67.91" width="1.66" height="3.65" fill="#9fb57e"/>
<rect x="219.28" y="67.91" width="1.66" height="3.65" fill="#9fb57e"/>
<rect x="239.2" y="67.91" width="1.66" height="3.65" fill="#3598c8"/>
<rect x="252.48" y="67.91" width="1.66" height="3.65" fill="#9fb57e"/>
<rect x="262.44" y="67.91" width="1.66" height="3.65" fill="#9fb57e"/>
<rect x="267.42" y="67.91" width="1.66" height="3.65" fill="#9fb57e"/>
<rect x="289" y="67.91" width="1.66" height="3.65" fill="#9fb57e"/>
<rect x="292.32" y="67.91" width="1.66" height="3.65" fill="#9fb57e"/>
<rect x="298.96" y="67.91" width="1.66" height="3.65" fill="#9fb57e"/>
<rect x="303.94" y="67.91" width="1.66" height="3.65" fill="#9fb57e"/>
<rect x="323.86" y="67.91" width="1.66" height="3.65" fill="#9fb57e"/>
<rect x="327.18" y="67.91" width="1.66" height="3.65" fill="#9fb57e"/>
<rect x="214.3" y="71.46" width="1.66" height="3.65" fill="#9b1b30"/>
<rect x="215.96" y="71.46" width="1.66" height="3.65" fill="#9fb57e"/>
<rect x="219.28" y="71.46" width="1.66" height="3.65" fill="#9fb57e"/>
<rect x="252.48" y="71.46" width="1.66" height="3.65" fill="#9fb57e"/>
<rect x="262.44" y="71.46" width="1.66" height="3.65" fill="#9fb57e"/>
<rect x="267.42" y="71.46" width="1.66" height="3.65" fill="#9fb57e"/>
<rect x="289" y="71.46" width="1.66" height="3.65" fill="#9fb57e"/>
<rect x="292.32" y="71.46" width="1.66" height="3.65" fill="#9fb57e"/>
<rect x="298.96" y="71.46" width="1.66" height="3.65" fill="#9fb57e"/>
<rect x="303.94" y="71.46" width="1.66" height="3.65" fill="#9fb57e"/>
<rect x="307.26" y="71.46" width="1.66" height="3.65" fill="#9b1b30"/>
<rect x="312.24" y="71.46" width="1.66" height="3.65" fill="#9b1b30"/>
<rect x="323.86" y="71.46" width="1.66" height="3.65" fill="#9fb57e"/>
<rect x="327.18" y="71.46" width="1.66" height="3.65" fill="#9fb57e"/>
<rect x="210.98" y="75" width="1.66" height="3.65" fill="#9fb57e"/>
<rect x="215.96" y="75" width="1.66" height="3.65" fill="#9fb57e"/>
<rect x="254.14" y="75" width="1.66" height="3.65" fill="#3598c8"/>
<rect x="274.06" y="75" width="1.66" height="3.65" fill="#9fb57e"/>
<rect x="292.32" y="75" width="1.66" height="3.65" fill="#9fb57e"/>
<rect x="312.24" y="75" width="1.66" height="3.65" fill="#9fb57e"/>
<rect x="325.52" y="75" width="1.66" height="3.65" fill="#9fb57e"/>
<rect x="210.98" y="78.55" width="1.66" height="3.65" fill="#9fb57e"/>
<rect x="215.96" y="78.55" width="1.66" height="3.65" fill="#9fb57e"/>
<rect x="274.06" y="78.55" width="1.66" height="3.65" fill="#9fb57e"/>
<rect x="292.32" y="78.55" width="1.66" height="3.65" fill="#9fb57e"/>
<rect x="312.24" y="78.55" width="1.66" height="3.65" fill="#9fb57e"/>
<rect x="325.52" y="78.55" width="1.66" height="3.65" fill="#9fb57e"/>
<rect x="330.5" y="78.55" width="1.66" height="3.65" fill="#9b1b30"/>
<rect x="210.98" y="82.09" width="1.66" height="3.65" fill="#9fb57e"/>
<rect x="239.2" y="82.09" width="1.66" height="3.65" fill="#3598c8"/>
<rect x="259.12" y="82.09" width="1.66" height="3.65" fill="#9fb57e"/>
<rect x="267.42" y="82.09" width="1.66" height="3.65" fill="#9fb57e"/>
<rect x="270.74" y="82.09" width="1.66" height="3.65" fill="#9fb57e"/>
<rect x="293.98" y="82.09" width="1.66" height="3.65" fill="#3598c8"/>
<rect x="323.86" y="82.09" width="1.66" height="3.65" fill="#9fb57e"/>
<rect x="210.98" y="85.64" width="1.66" height="3.65" fill="#9fb57e"/>
<rect x="259.12" y="85.64" width="1.66" height="3.65" fill="#9fb57e"/>
<rect x="267.42" y="85.64" width="1.66" height="3.65" fill="#9fb57e"/>
<rect x="270.74" y="85.64" width="1.66" height="3.65" fill="#9fb57e"/>
<rect x="307.26" y="85.64" width="1.66" height="3.65" fill="#9b1b30"/>
<rect x="323.86" y="85.64" width="1.66" height="3.65" fill="#9fb57e"/>
<rect x="330.5" y="85.64" width="1.66" height="3.65" fill="#9b1b30"/>
<rect x="255.8" y="89.18" width="1.66" height="3.65" fill="#9fb57e"/>
<rect x="269.08" y="89.18" width="3.32" height="3.65" fill="#9fb57e"/>
<rect x="277.38" y="89.18" width="3.32" height="3.65" fill="#9fb57e"/>
<rect x="282.36" y="89.18" width="3.32" height="3.65" fill="#9fb57e"/>
<rect x="287.34" y="89.18" width="3.32" height="3.65" fill="#9fb57e"/>
<rect x="315.56" y="89.18" width="3.32" height="3.65" fill="#9fb57e"/>
<rect x="330.5" y="89.18" width="1.66" height="3.65" fill="#9fb57e"/>
<rect x="207.66" y="92.72" width="1.66" height="3.65" fill="#9b1b30"/>
<rect x="219.28" y="92.72" width="3.32" height="3.65" fill="#9b1b30"/>
<rect x="225.92" y="92.72" width="1.66" height="3.65" fill="#9b1b30"/>
<rect x="229.24" y="92.72" width="1.66" height="3.65" fill="#9b1b30"/>
<rect x="237.54" y="92.72" width="1.66" height="3.65" fill="#9b1b30"/>
<rect x="240.86" y="92.72" width="3.32" height="3.65" fill="#9b1b30"/>
<rect x="252.48" y="92.72" width="1.66" height="3.65" fill="#9b1b30"/>
<rect x="255.8" y="92.72" width="1.66" height="3.65" fill="#9fb57e"/>
<rect x="269.08" y="92.72" width="3.32" height="3.65" fill="#9fb57e"/>
<rect x="277.38" y="92.72" width="3.32" height="3.65" fill="#9fb57e"/>
<rect x="282.36" y="92.72" width="3.32" height="3.65" fill="#9fb57e"/>
<rect x="287.34" y="92.72" width="3.32" height="3.65" fill="#9fb57e"/>
<rect x="295.64" y="92.72" width="3.32" height="3.65" fill="#9b1b30"/>
<rect x="315.56" y="92.72" width="3.32" height="3.65" fill="#9fb57e"/>
<rect x="330.5" y="92.72" width="1.66" height="3.65" fill="#9fb57e"/>
<rect x="284.02" y="96.27" width="1.66" height="3.65" fill="#9fb57e"/>
<rect x="284.02" y="99.81" width="1.66" height="3.65" fill="#9fb57e"/>
<rect x="305.6" y="114" width="1.66" height="3.65" fill="#9b1b30"/>
<rect x="302.28" y="121.09" width="1.66" height="3.65" fill="#9b1b30"/>
<rect x="317.22" y="121.09" width="1.66" height="3.65" fill="#9b1b30"/>
<rect x="210.98" y="124.63" width="1.66" height="3.65" fill="#3598c8"/>
<rect x="227.58" y="124.63" width="1.66" height="3.65" fill="#3598c8"/>
<rect x="242.52" y="124.63" width="1.66" height="3.65" fill="#3598c8"/>
<rect x="245.84" y="124.63" width="1.66" height="3.65" fill="#3598c8"/>
<rect x="255.8" y="124.63" width="1.66" height="3.65" fill="#3598c8"/>
<rect x="287.34" y="124.63" width="1.66" height="3.65" fill="#9fb57e"/>
<rect x="293.98" y="124.63" width="1.66" height="3.65" fill="#3598c8"/>
<rect x="310.58" y="124.63" width="1.66" height="3.65" fill="#3598c8"/>
<rect x="318.88" y="124.63" width="1.66" height="3.65" fill="#9fb57e"/>
<rect x="328.84" y="124.63" width="1.66" height="3.65" fill="#9fb57e"/>
<rect x="287.34" y="128.17" width="1.66" height="3.65" fill="#9fb57e"/>
<rect x="302.28" y="128.17" width="1.66" height="3.65" fill="#9b1b30"/>
<rect x="318.88" y="128.17" width="1.66" height="3.65" fill="#9fb57e"/>
<rect x="328.84" y="128.17" width="1.66" height="3.65" fill="#9fb57e"/>
<rect x="210.98" y="131.72" width="1.66" height="3.65" fill="#3598c8"/>
<rect x="224.26" y="131.72" width="1.66" height="3.65" fill="#3598c8"/>
<rect x="242.52" y="131.72" width="1.66" height="3.65" fill="#3598c8"/>
<rect x="255.8" y="131.72" width="1.66" height="3.65" fill="#3598c8"/>
<rect x="269.08" y="131.72" width="3.32" height="3.65" fill="#3598c8"/>
<rect x="292.32" y="131.72" width="1.66" height="3.65" fill="#3598c8"/>
<rect x="295.64" y="131.72" width="1.66" height="3.65" fill="#9fb57e"/>
<rect x="307.26" y="131.72" width="1.66" height="3.65" fill="#3598c8"/>
<rect x="313.9" y="131.72" width="1.66" height="3.65" fill="#3598c8"/>
<rect x="323.86" y="131.72" width="3.32" height="3.65" fill="#3598c8"/>
<rect x="295.64" y="135.26" width="1.66" height="3.65" fill="#9fb57e"/>
<rect x="210.98" y="138.81" width="1.66" height="3.65" fill="#3598c8"/>
<rect x="245.84" y="138.81" width="3.32" height="3.65" fill="#3598c8"/>
<rect x="295.64" y="138.81" width="1.66" height="3.65" fill="#3598c8"/>
<rect x="307.26" y="138.81" width="1.66" height="3.65" fill="#3598c8"/>
<rect x="310.58" y="138.81" width="1.66" height="3.65" fill="#3598c8"/>
<rect x="315.56" y="138.81" width="1.66" height="3.65" fill="#9fb57e"/>
<rect x="282.36" y="142.35" width="1.66" height="3.65" fill="#9b1b30"/>
<rect x="315.56" y="142.35" width="1.66" height="3.65" fill="#9fb57e"/>
<rect x="224.26" y="145.9" width="1.66" height="3.65" fill="#3598c8"/>
<rect x="237.54" y="145.9" width="1.66" height="3.65" fill="#3598c8"/>
<rect x="252.48" y="145.9" width="1.66" height="3.65" fill="#9fb57e"/>
<rect x="255.8" y="145.9" width="1.66" height="3.65" fill="#9fb57e"/>
<rect x="287.34" y="145.9" width="1.66" height="3.65" fill="#3598c8"/>
<rect x="252.48" y="149.44" width="1.66" height="3.65" fill="#9fb57e"/>
<rect x="255.8" y="149.44" width="1.66" height="3.65" fill="#9fb57e"/>
<rect x="239.2" y="152.99" width="1.66" height="3.65" fill="#3598c8"/>
<rect x="254.14" y="152.99" width="1.66" height="3.65" fill="#3598c8"/>
<rect x="293.98" y="152.99" width="1.66" height="3.65" fill="#3598c8"/>
<rect x="307.26" y="160.08" width="1.66" height="3.65" fill="#3598c8"/>
<rect x="318.88" y="160.08" width="1.66" height="3.65" fill="#9fb57e"/>
<rect x="282.36" y="163.62" width="1.66" height="3.65" fill="#9b1b30"/>
<rect x="318.88" y="163.62" width="1.66" height="3.65" fill="#9fb57e"/>
<rect x="310.58" y="167.17" width="1.66" height="3.65" fill="#3598c8"/>
<rect x="320.54" y="167.17" width="1.66" height="3.65" fill="#3598c8"/>
<rect x="224.26" y="174.26" width="1.66" height="3.65" fill="#9fb57e"/>
<rect x="303.94" y="174.26" width="1.66" height="3.65" fill="#3598c8"/>
<rect x="224.26" y="177.8" width="1.66" height="3.65" fill="#9fb57e"/>
<rect x="303.94" y="188.44" width="1.66" height="3.65" fill="#3598c8"/>
<rect x="272.4" y="195.53" width="1.66" height="3.65" fill="#9fb57e"/>
<rect x="275.72" y="195.53" width="1.66" height="3.65" fill="#9fb57e"/>
<rect x="279.04" y="195.53" width="1.66" height="3.65" fill="#9fb57e"/>
<rect x="282.36" y="195.53" width="3.32" height="3.65" fill="#9fb57e"/>
<rect x="287.34" y="195.53" width="1.66" height="3.65" fill="#9fb57e"/>
<rect x="292.32" y="195.53" width="3.32" height="3.65" fill="#9fb57e"/>
<rect x="302.28" y="195.53" width="1.66" height="3.65" fill="#9fb57e"/>
<rect x="315.56" y="195.53" width="1.66" height="3.65" fill="#9fb57e"/>
<rect x="318.88" y="195.53" width="1.66" height="3.65" fill="#9fb57e"/>
<rect x="330.5" y="195.53" width="1.66" height="3.65" fill="#9fb57e"/>
<rect x="272.4" y="199.07" width="1.66" height="3.65" fill="#9fb57e"/>
<rect x="275.72" y="199.07" width="1.66" height="3.65" fill="#9fb57e"/>
<rect x="279.04" y="199.07" width="1.66" height="3.65" fill="#9fb57e"/>
<rect x="282.36" y="199.07" width="3.32" height="3.65" fill="#9fb57e"/>
<rect x="287.34" y="199.07" width="1.66" height="3.65" fill="#9fb57e"/>
<rect x="289" y="199.07" width="1.66" height="3.65" fill="#9b1b30"/>
<rect x="292.32" y="199.07" width="3.32" height="3.65" fill="#9fb57e"/>
<rect x="300.62" y="199.07" width="1.66" height="3.65" fill="#9b1b30"/>
<rect x="302.28" y="199.07" width="1.66" height="3.65" fill="#9fb57e"/>
<rect x="315.56" y="199.07" width="1.66" height="3.65" fill="#9fb57e"/>
<rect x="318.88" y="199.07" width="1.66" height="3.65" fill="#9fb57e"/>
<rect x="330.5" y="199.07" width="1.66" height="3.65" fill="#9fb57e"/>
<rect x="212.64" y="202.62" width="1.66" height="3.65" fill="#9fb57e"/>
<rect x="267.42" y="202.62" width="1.66" height="3.65" fill="#9fb57e"/>
<rect x="325.52" y="202.62" width="1.66" height="3.65" fill="#3598c8"/>
<rect x="212.64" y="206.16" width="1.66" height="3.65" fill="#9fb57e"/>
<rect x="267.42" y="206.16" width="1.66" height="3.65" fill="#9fb57e"/>
<rect x="330.5" y="209.71" width="1.66" height="3.65" fill="#3598c8"/>
<rect x="245.84" y="216.8" width="1.66" height="3.65" fill="#9fb57e"/>
<rect x="320.54" y="216.8" width="1.66" height="3.65" fill="#9fb57e"/>
<rect x="245.84" y="220.34" width="1.66" height="3.65" fill="#9fb57e"/>
<rect x="267.42" y="220.34" width="1.66" height="3.65" fill="#9b1b30"/>
<rect x="320.54" y="220.34" width="1.66" height="3.65" fill="#9fb57e"/>
<rect x="298.96" y="223.89" width="1.66" height="3.65" fill="#9fb57e"/>
<rect x="298.96" y="227.43" width="1.66" height="3.65" fill="#9fb57e"/>
<rect x="227.58" y="230.98" width="1.66" height="3.65" fill="#9fb57e"/>
<rect x="242.52" y="230.98" width="1.66" height="3.65" fill="#9fb57e"/>
<rect x="270.74" y="230.98" width="1.66" height="3.65" fill="#9fb57e"/>
<rect x="227.58" y="234.52" width="1.66" height="3.65" fill="#9fb57e"/>
<rect x="242.52" y="234.52" width="1.66" height="3.65" fill="#9fb57e"/>
<rect x="270.74" y="234.52" width="1.66" height="3.65" fill="#9fb57e"/>
<rect x="315.56" y="238.07" width="1.66" height="3.65" fill="#9fb57e"/>
<rect x="315.56" y="241.61" width="1.66" height="3.65" fill="#9fb57e"/>
<rect x="224.26" y="245.16" width="1.66" height="3.65" fill="#9fb57e"/>
<rect x="230.9" y="245.16" width="1.66" height="3.65" fill="#9fb57e"/>
<rect x="247.5" y="245.16" width="1.66" height="3.65" fill="#9fb57e"/>
<rect x="250.82" y="245.16" width="1.66" height="3.65" fill="#9fb57e"/>
<rect x="293.98" y="245.16" width="1.66" height="3.65" fill="#3598c8"/>
<rect x="307.26" y="245.16" width="1.66" height="3.65" fill="#3598c8"/>
<rect x="224.26" y="248.7" width="1.66" height="3.65" fill="#9fb57e"/>
<rect x="230.9" y="248.7" width="1.66" height="3.65" fill="#9fb57e"/>
<rect x="247.5" y="248.7" width="1.66" height="3.65" fill="#9fb57e"/>
<rect x="250.82" y="248.7" width="1.66" height="3.65" fill="#9fb57e"/>
<rect x="302.28" y="252.25" width="1.66" height="3.65" fill="#9fb57e"/>
<rect x="312.24" y="252.25" width="1.66" height="3.65" fill="#9fb57e"/>
<rect x="315.56" y="252.25" width="1.66" height="3.65" fill="#9fb57e"/>
<rect x="318.88" y="252.25" width="1.66" height="3.65" fill="#9fb57e"/>
<rect x="327.18" y="252.25" width="1.66" height="3.65" fill="#9fb57e"/>
<rect x="270.74" y="255.79" width="1.66" height="3.65" fill="#9b1b30"/>
<rect x="302.28" y="255.79" width="1.66" height="3.65" fill="#9fb57e"/>
<rect x="312.24" y="255.79" width="1.66" height="3.65" fill="#9fb57e"/>
<rect x="315.56" y="255.79" width="1.66" height="3.65" fill="#9fb57e"/>
<rect x="318.88" y="255.79" width="1.66" height="3.65" fill="#9fb57e"/>
<rect x="327.18" y="255.79" width="1.66" height="3.65" fill="#9fb57e"/>
<rect x="247.5" y="259.34" width="1.66" height="3.65" fill="#9fb57e"/>
<rect x="290.66" y="259.34" width="1.66" height="3.65" fill="#9fb57e"/>
<rect x="302.28" y="259.34" width="1.66" height="3.65" fill="#9fb57e"/>
<rect x="313.9" y="259.34" width="1.66" height="3.65" fill="#9fb57e"/>
<rect x="328.84" y="259.34" width="1.66" height="3.65" fill="#9fb57e"/>
<rect x="247.5" y="262.88" width="1.66" height="3.65" fill="#9fb57e"/>
<rect x="290.66" y="262.88" width="1.66" height="3.65" fill="#9fb57e"/>
<rect x="302.28" y="262.88" width="1.66" height="3.65" fill="#9fb57e"/>
<rect x="313.9" y="262.88" width="1.66" height="3.65" fill="#9fb57e"/>
<rect x="328.84" y="262.88" width="1.66" height="3.65" fill="#9fb57e"/>
<rect x="272.4" y="266.43" width="1.66" height="3.65" fill="#9fb57e"/>
<rect x="287.34" y="266.43" width="1.66" height="3.65" fill="#9fb57e"/>
<rect x="330.5" y="266.43" width="1.66" height="3.65" fill="#9fb57e"/>
<rect x="272.4" y="269.98" width="1.66" height="3.65" fill="#9fb57e"/>
<rect x="287.34" y="269.98" width="1.66" height="3.65" fill="#9fb57e"/>
<rect x="330.5" y="269.98" width="1.66" height="3.65" fill="#9fb57e"/>
<rect x="237.54" y="273.52" width="1.66" height="3.65" fill="#9fb57e"/>
<rect x="245.84" y="273.52" width="1.66" height="3.65" fill="#9fb57e"/>
<rect x="237.54" y="277.06" width="1.66" height="3.65" fill="#9fb57e"/>
<rect x="245.84" y="277.06" width="1.66" height="3.65" fill="#9fb57e"/>
<rect x="303.94" y="287.7" width="1.66" height="3.65" fill="#9fb57e"/>
<rect x="277.38" y="291.25" width="1.66" height="3.65" fill="#9b1b30"/>
<rect x="303.94" y="291.25" width="1.66" height="3.65" fill="#9fb57e"/>
<rect x="327.18" y="294.79" width="1.66" height="3.65" fill="#9fb57e"/>
<rect x="315.56" y="298.34" width="1.66" height="3.65" fill="#9b1b30"/>
<rect x="327.18" y="298.34" width="1.66" height="3.65" fill="#9fb57e"/>
<rect x="214.3" y="301.88" width="1.66" height="3.65" fill="#9fb57e"/>
<rect x="318.88" y="301.88" width="1.66" height="3.65" fill="#9fb57e"/>
<rect x="214.3" y="305.43" width="1.66" height="3.65" fill="#9fb57e"/>
<rect x="318.88" y="305.43" width="1.66" height="3.65" fill="#9fb57e"/>
<rect x="302.28" y="308.97" width="1.66" height="3.65" fill="#9fb57e"/>
<rect x="328.84" y="308.97" width="1.66" height="3.65" fill="#3598c8"/>
<rect x="302.28" y="312.52" width="1.66" height="3.65" fill="#9fb57e"/>
<rect x="305.6" y="316.06" width="1.66" height="3.65" fill="#9fb57e"/>
<rect x="305.6" y="319.61" width="1.66" height="3.65" fill="#9fb57e"/>
<rect x="277.38" y="330.24" width="1.66" height="3.65" fill="#9fb57e"/>
<rect x="284.02" y="330.24" width="1.66" height="3.65" fill="#9fb57e"/>
<rect x="277.38" y="333.79" width="1.66" height="3.65" fill="#9fb57e"/>
<rect x="284.02" y="333.79" width="1.66" height="3.65" fill="#9fb57e"/>
<rect x="297.3" y="333.79" width="1.66" height="3.65" fill="#9b1b30"/>
<rect x="214.3" y="340.88" width="1.66" height="3.65" fill="#9b1b30"/>
<rect x="307.26" y="347.97" width="1.66" height="3.65" fill="#9b1b30"/>
<path d="M206 39.6V351.56M207.66 39.6V351.56M209.32 39.6V351.56M210.98 39.6V351.56M212.64 39.6V351.56M214.3 39.6V351.56M215.96 39.6V351.56M217.62 39.6V351.56M219.28 39.6V351.56M220.94 39.6V351.56M222.6 39.6V351.56M224.26 39.6V351.56M225.92 39.6V351.56M227.58 39.6V351.56M229.24 39.6V351.56M230.9 39.6V351.56M232.56 39.6V351.56M234.22 39.6V351.56M235.88 39.6V351.56M237.54 39.6V351.56M239.2 39.6V351.56M240.86 39.6V351.56M242.52 39.6V351.56M244.18 39.6V351.56M245.84 39.6V351.56M247.5 39.6V351.56M249.16 39.6V351.56M250.82 39.6V351.56M252.48 39.6V351.56M254.14 39.6V351.56M255.8 39.6V351.56M257.46 39.6V351.56M259.12 39.6V351.56M260.78 39.6V351.56M262.44 39.6V351.56M264.1 39.6V351.56M265.76 39.6V351.56M267.42 39.6V351.56M269.08 39.6V351.56M270.74 39.6V351.56M272.4 39.6V351.56M274.06 39.6V351.56M275.72 39.6V351.56M277.38 39.6V351.56M279.04 39.6V351.56M280.7 39.6V351.56M282.36 39.6V351.56M284.02 39.6V351.56M285.68 39.6V351.56M287.34 39.6V351.56M289 39.6V351.56M290.66 39.6V351.56M292.32 39.6V351.56M293.98 39.6V351.56M295.64 39.6V351.56M297.3 39.6V351.56M298.96 39.6V351.56M300.62 39.6V351.56M302.28 39.6V351.56M303.94 39.6V351.56M305.6 39.6V351.56M307.26 39.6V351.56M308.92 39.6V351.56M310.58 39.6V351.56M312.24 39.6V351.56M313.9 39.6V351.56M315.56 39.6V351.56M317.22 39.6V351.56M318.88 39.6V351.56M320.54 39.6V351.56M322.2 39.6V351.56M323.86 39.6V351.56M325.52 39.6V351.56M327.18 39.6V351.56M328.84 39.6V351.56M330.5 39.6V351.56M332.16 39.6V351.56M333.82 39.6V351.56M335.48 39.6V351.56" stroke="#000" stroke-opacity="0.19" stroke-width="0.42" fill="none"/>
<path d="M206 39.6H335.48M206 43.15H335.48M206 46.69H335.48M206 50.23H335.48M206 53.78H335.48M206 57.33H335.48M206 60.87H335.48M206 64.41H335.48M206 67.96H335.48M206 71.5H335.48M206 75.05H335.48M206 78.59H335.48M206 82.14H335.48M206 85.69H335.48M206 89.23H335.48M206 92.78H335.48M206 96.32H335.48M206 99.87H335.48M206 103.41H335.48M206 106.96H335.48M206 110.5H335.48M206 114.04H335.48M206 117.59H335.48M206 121.13H335.48M206 124.68H335.48M206 128.22H335.48M206 131.77H335.48M206 135.31H335.48M206 138.86H335.48M206 142.41H335.48M206 145.95H335.48M206 149.5H335.48M206 153.04H335.48M206 156.59H335.48M206 160.13H335.48M206 163.68H335.48M206 167.22H335.48M206 170.76H335.48M206 174.31H335.48M206 177.85H335.48M206 181.4H335.48M206 184.94H335.48M206 188.49H335.48M206 192.03H335.48M206 195.58H335.48M206 199.12H335.48M206 202.67H335.48M206 206.22H335.48M206 209.76H335.48M206 213.3H335.48M206 216.85H335.48M206 220.39H335.48M206 223.94H335.48M206 227.48H335.48M206 231.03H335.48M206 234.57H335.48M206 238.12H335.48M206 241.66H335.48M206 245.21H335.48M206 248.75H335.48M206 252.3H335.48M206 255.84H335.48M206 259.39H335.48M206 262.94H335.48M206 266.48H335.48M206 270.02H335.48M206 273.57H335.48M206 277.12H335.48M206 280.66H335.48M206 284.2H335.48M206 287.75H335.48M206 291.3H335.48M206 294.84H335.48M206 298.38H335.48M206 301.93H335.48M206 305.48H335.48M206 309.02H335.48M206 312.56H335.48M206 316.11H335.48M206 319.66H335.48M206 323.2H335.48M206 326.75H335.48M206 330.29H335.48M206 333.84H335.48M206 337.38H335.48M206 340.93H335.48M206 344.47H335.48M206 348.02H335.48M206 351.56H335.48" stroke="#000" stroke-opacity="0.25" stroke-width="0.45" fill="none"/>
<text x="204" y="42.47" font-size="3" text-anchor="middle" font-weight="normal" font-style="normal" fill="#666" >D</text>
<text x="338.8" y="42.62" font-size="3.7" text-anchor="middle" font-weight="normal" font-style="normal" fill="#3a3a3a" >70</text>
<text x="345.8" y="42.62" font-size="3.7" text-anchor="middle" font-weight="normal" font-style="normal" fill="#3a3a3a" >90</text>
<text x="204" y="46.02" font-size="3" text-anchor="middle" font-weight="normal" font-style="normal" fill="#666" >R</text>
<text x="338.8" y="46.17" font-size="3.7" text-anchor="middle" font-weight="normal" font-style="normal" fill="#3a3a3a" >61</text>
<text x="345.8" y="46.17" font-size="3.7" text-anchor="middle" font-weight="normal" font-style="normal" fill="#3a3a3a" >78</text>
<text x="204" y="49.56" font-size="3" text-anchor="middle" font-weight="normal" font-style="normal" fill="#666" >D</text>
<text x="338.8" y="49.71" font-size="3.7" text-anchor="middle" font-weight="normal" font-style="normal" fill="#3a3a3a" >20</text>
<text x="345.8" y="49.71" font-size="3.7" text-anchor="middle" font-weight="normal" font-style="normal" fill="#3a3a3a" >26</text>
<text x="204" y="53.11" font-size="3" text-anchor="middle" font-weight="normal" font-style="normal" fill="#666" >R</text>
<text x="338.8" y="53.26" font-size="3.7" text-anchor="middle" font-weight="normal" font-style="normal" fill="#3a3a3a" >4</text>
<text x="345.8" y="53.26" font-size="3.7" text-anchor="middle" font-weight="normal" font-style="normal" fill="#3a3a3a" >5.1</text>
<text x="204" y="56.65" font-size="3" text-anchor="middle" font-weight="normal" font-style="normal" fill="#666" >D</text>
<text x="338.8" y="56.8" font-size="3.7" text-anchor="middle" font-weight="normal" font-style="normal" fill="#3a3a3a" >46</text>
<text x="345.8" y="56.8" font-size="3.7" text-anchor="middle" font-weight="normal" font-style="normal" fill="#3a3a3a" >59</text>
<text x="204" y="60.2" font-size="3" text-anchor="middle" font-weight="normal" font-style="normal" fill="#666" >R</text>
<text x="338.8" y="60.35" font-size="3.7" text-anchor="middle" font-weight="normal" font-style="normal" fill="#3a3a3a" >43</text>
<text x="345.8" y="60.35" font-size="3.7" text-anchor="middle" font-weight="normal" font-style="normal" fill="#3a3a3a" >55</text>
<text x="204" y="63.74" font-size="3" text-anchor="middle" font-weight="normal" font-style="normal" fill="#666" >D</text>
<text x="338.8" y="63.89" font-size="3.7" text-anchor="middle" font-weight="normal" font-style="normal" fill="#3a3a3a" >38</text>
<text x="345.8" y="63.89" font-size="3.7" text-anchor="middle" font-weight="normal" font-style="normal" fill="#3a3a3a" >49</text>
<text x="204" y="67.29" font-size="3" text-anchor="middle" font-weight="normal" font-style="normal" fill="#666" >R</text>
<text x="338.8" y="67.44" font-size="3.7" text-anchor="middle" font-weight="normal" font-style="normal" fill="#3a3a3a" >40</text>
<text x="345.8" y="67.44" font-size="3.7" text-anchor="middle" font-weight="normal" font-style="normal" fill="#3a3a3a" >51</text>
<text x="204" y="70.83" font-size="3" text-anchor="middle" font-weight="normal" font-style="normal" fill="#666" >D</text>
<text x="338.8" y="70.98" font-size="3.7" text-anchor="middle" font-weight="normal" font-style="normal" fill="#3a3a3a" >12</text>
<text x="345.8" y="70.98" font-size="3.7" text-anchor="middle" font-weight="normal" font-style="normal" fill="#3a3a3a" >15</text>
<text x="204" y="74.38" font-size="3" text-anchor="middle" font-weight="normal" font-style="normal" fill="#666" >R</text>
<text x="338.8" y="74.53" font-size="3.7" text-anchor="middle" font-weight="normal" font-style="normal" fill="#3a3a3a" >14</text>
<text x="345.8" y="74.53" font-size="3.7" text-anchor="middle" font-weight="normal" font-style="normal" fill="#3a3a3a" >18</text>
<text x="204" y="77.92" font-size="3" text-anchor="middle" font-weight="normal" font-style="normal" fill="#666" >D</text>
<text x="338.8" y="78.07" font-size="3.7" text-anchor="middle" font-weight="normal" font-style="normal" fill="#3a3a3a" >7</text>
<text x="345.8" y="78.07" font-size="3.7" text-anchor="middle" font-weight="normal" font-style="normal" fill="#3a3a3a" >9</text>
<text x="204" y="81.47" font-size="3" text-anchor="middle" font-weight="normal" font-style="normal" fill="#666" >R</text>
<text x="338.8" y="81.62" font-size="3.7" text-anchor="middle" font-weight="normal" font-style="normal" fill="#3a3a3a" >7</text>
<text x="345.8" y="81.62" font-size="3.7" text-anchor="middle" font-weight="normal" font-style="normal" fill="#3a3a3a" >9</text>
<text x="204" y="85.01" font-size="3" text-anchor="middle" font-weight="normal" font-style="normal" fill="#666" >D</text>
<text x="338.8" y="85.16" font-size="3.7" text-anchor="middle" font-weight="normal" font-style="normal" fill="#3a3a3a" >7</text>
<text x="345.8" y="85.16" font-size="3.7" text-anchor="middle" font-weight="normal" font-style="normal" fill="#3a3a3a" >9</text>
<text x="204" y="88.56" font-size="3" text-anchor="middle" font-weight="normal" font-style="normal" fill="#666" >R</text>
<text x="338.8" y="88.71" font-size="3.7" text-anchor="middle" font-weight="normal" font-style="normal" fill="#3a3a3a" >7</text>
<text x="345.8" y="88.71" font-size="3.7" text-anchor="middle" font-weight="normal" font-style="normal" fill="#3a3a3a" >9</text>
<text x="204" y="92.1" font-size="3" text-anchor="middle" font-weight="normal" font-style="normal" fill="#666" >D</text>
<text x="338.8" y="92.25" font-size="3.7" text-anchor="middle" font-weight="normal" font-style="normal" fill="#3a3a3a" >12</text>
<text x="345.8" y="92.25" font-size="3.7" text-anchor="middle" font-weight="normal" font-style="normal" fill="#3a3a3a" >15</text>
<text x="204" y="95.65" font-size="3" text-anchor="middle" font-weight="normal" font-style="normal" fill="#666" >R</text>
<text x="338.8" y="95.8" font-size="3.7" text-anchor="middle" font-weight="normal" font-style="normal" fill="#3a3a3a" >23</text>
<text x="345.8" y="95.8" font-size="3.7" text-anchor="middle" font-weight="normal" font-style="normal" fill="#3a3a3a" >29</text>
<text x="204" y="99.19" font-size="3" text-anchor="middle" font-weight="normal" font-style="normal" fill="#666" >D</text>
<text x="338.8" y="99.34" font-size="3.7" text-anchor="middle" font-weight="normal" font-style="normal" fill="#3a3a3a" >1</text>
<text x="345.8" y="99.34" font-size="3.7" text-anchor="middle" font-weight="normal" font-style="normal" fill="#3a3a3a" >1.3</text>
<text x="204" y="102.74" font-size="3" text-anchor="middle" font-weight="normal" font-style="normal" fill="#666" >R</text>
<text x="338.8" y="102.89" font-size="3.7" text-anchor="middle" font-weight="normal" font-style="normal" fill="#3a3a3a" >1</text>
<text x="345.8" y="102.89" font-size="3.7" text-anchor="middle" font-weight="normal" font-style="normal" fill="#3a3a3a" >1.3</text>
<text x="204" y="106.28" font-size="3" text-anchor="middle" font-weight="normal" font-style="normal" fill="#666" >D</text>
<text x="338.8" y="106.43" font-size="3.7" text-anchor="middle" font-weight="normal" font-style="normal" fill="#3a3a3a" >0</text>
<text x="345.8" y="106.43" font-size="3.7" text-anchor="middle" font-weight="normal" font-style="normal" fill="#3a3a3a" >0</text>
<text x="204" y="109.83" font-size="3" text-anchor="middle" font-weight="normal" font-style="normal" fill="#666" >R</text>
<text x="338.8" y="109.98" font-size="3.7" text-anchor="middle" font-weight="normal" font-style="normal" fill="#3a3a3a" >0</text>
<text x="345.8" y="109.98" font-size="3.7" text-anchor="middle" font-weight="normal" font-style="normal" fill="#3a3a3a" >0</text>
<text x="204" y="113.37" font-size="3" text-anchor="middle" font-weight="normal" font-style="normal" fill="#666" >D</text>
<text x="338.8" y="113.52" font-size="3.7" text-anchor="middle" font-weight="normal" font-style="normal" fill="#3a3a3a" >0</text>
<text x="345.8" y="113.52" font-size="3.7" text-anchor="middle" font-weight="normal" font-style="normal" fill="#3a3a3a" >0</text>
<text x="204" y="116.92" font-size="3" text-anchor="middle" font-weight="normal" font-style="normal" fill="#666" >R</text>
<text x="338.8" y="117.07" font-size="3.7" text-anchor="middle" font-weight="normal" font-style="normal" fill="#3a3a3a" >1</text>
<text x="345.8" y="117.07" font-size="3.7" text-anchor="middle" font-weight="normal" font-style="normal" fill="#3a3a3a" >1.3</text>
<text x="204" y="120.46" font-size="3" text-anchor="middle" font-weight="normal" font-style="normal" fill="#666" >D</text>
<text x="338.8" y="120.61" font-size="3.7" text-anchor="middle" font-weight="normal" font-style="normal" fill="#3a3a3a" >0</text>
<text x="345.8" y="120.61" font-size="3.7" text-anchor="middle" font-weight="normal" font-style="normal" fill="#3a3a3a" >0</text>
<text x="204" y="124.01" font-size="3" text-anchor="middle" font-weight="normal" font-style="normal" fill="#666" >R</text>
<text x="338.8" y="124.16" font-size="3.7" text-anchor="middle" font-weight="normal" font-style="normal" fill="#3a3a3a" >2</text>
<text x="345.8" y="124.16" font-size="3.7" text-anchor="middle" font-weight="normal" font-style="normal" fill="#3a3a3a" >2.6</text>
<text x="204" y="127.55" font-size="3" text-anchor="middle" font-weight="normal" font-style="normal" fill="#666" >D</text>
<text x="338.8" y="127.7" font-size="3.7" text-anchor="middle" font-weight="normal" font-style="normal" fill="#3a3a3a" >10</text>
<text x="345.8" y="127.7" font-size="3.7" text-anchor="middle" font-weight="normal" font-style="normal" fill="#3a3a3a" >13</text>
<text x="204" y="131.1" font-size="3" text-anchor="middle" font-weight="normal" font-style="normal" fill="#666" >R</text>
<text x="338.8" y="131.25" font-size="3.7" text-anchor="middle" font-weight="normal" font-style="normal" fill="#3a3a3a" >4</text>
<text x="345.8" y="131.25" font-size="3.7" text-anchor="middle" font-weight="normal" font-style="normal" fill="#3a3a3a" >5.1</text>
<text x="204" y="134.64" font-size="3" text-anchor="middle" font-weight="normal" font-style="normal" fill="#666" >D</text>
<text x="338.8" y="134.79" font-size="3.7" text-anchor="middle" font-weight="normal" font-style="normal" fill="#3a3a3a" >12</text>
<text x="345.8" y="134.79" font-size="3.7" text-anchor="middle" font-weight="normal" font-style="normal" fill="#3a3a3a" >15</text>
<text x="204" y="138.19" font-size="3" text-anchor="middle" font-weight="normal" font-style="normal" fill="#666" >R</text>
<text x="338.8" y="138.34" font-size="3.7" text-anchor="middle" font-weight="normal" font-style="normal" fill="#3a3a3a" >1</text>
<text x="345.8" y="138.34" font-size="3.7" text-anchor="middle" font-weight="normal" font-style="normal" fill="#3a3a3a" >1.3</text>
<text x="204" y="141.73" font-size="3" text-anchor="middle" font-weight="normal" font-style="normal" fill="#666" >D</text>
<text x="338.8" y="141.88" font-size="3.7" text-anchor="middle" font-weight="normal" font-style="normal" fill="#3a3a3a" >7</text>
<text x="345.8" y="141.88" font-size="3.7" text-anchor="middle" font-weight="normal" font-style="normal" fill="#3a3a3a" >9</text>
<text x="204" y="145.28" font-size="3" text-anchor="middle" font-weight="normal" font-style="normal" fill="#666" >R</text>
<text x="338.8" y="145.43" font-size="3.7" text-anchor="middle" font-weight="normal" font-style="normal" fill="#3a3a3a" >2</text>
<text x="345.8" y="145.43" font-size="3.7" text-anchor="middle" font-weight="normal" font-style="normal" fill="#3a3a3a" >2.6</text>
<text x="204" y="148.82" font-size="3" text-anchor="middle" font-weight="normal" font-style="normal" fill="#666" >D</text>
<text x="338.8" y="148.97" font-size="3.7" text-anchor="middle" font-weight="normal" font-style="normal" fill="#3a3a3a" >5</text>
<text x="345.8" y="148.97" font-size="3.7" text-anchor="middle" font-weight="normal" font-style="normal" fill="#3a3a3a" >6.4</text>
<text x="204" y="152.37" font-size="3" text-anchor="middle" font-weight="normal" font-style="normal" fill="#666" >R</text>
<text x="338.8" y="152.52" font-size="3.7" text-anchor="middle" font-weight="normal" font-style="normal" fill="#3a3a3a" >2</text>
<text x="345.8" y="152.52" font-size="3.7" text-anchor="middle" font-weight="normal" font-style="normal" fill="#3a3a3a" >2.6</text>
<text x="204" y="155.91" font-size="3" text-anchor="middle" font-weight="normal" font-style="normal" fill="#666" >D</text>
<text x="338.8" y="156.06" font-size="3.7" text-anchor="middle" font-weight="normal" font-style="normal" fill="#3a3a3a" >3</text>
<text x="345.8" y="156.06" font-size="3.7" text-anchor="middle" font-weight="normal" font-style="normal" fill="#3a3a3a" >3.8</text>
<text x="204" y="159.46" font-size="3" text-anchor="middle" font-weight="normal" font-style="normal" fill="#666" >R</text>
<text x="338.8" y="159.61" font-size="3.7" text-anchor="middle" font-weight="normal" font-style="normal" fill="#3a3a3a" >0</text>
<text x="345.8" y="159.61" font-size="3.7" text-anchor="middle" font-weight="normal" font-style="normal" fill="#3a3a3a" >0</text>
<text x="204" y="163" font-size="3" text-anchor="middle" font-weight="normal" font-style="normal" fill="#666" >D</text>
<text x="338.8" y="163.15" font-size="3.7" text-anchor="middle" font-weight="normal" font-style="normal" fill="#3a3a3a" >2</text>
<text x="345.8" y="163.15" font-size="3.7" text-anchor="middle" font-weight="normal" font-style="normal" fill="#3a3a3a" >2.6</text>
<text x="204" y="166.55" font-size="3" text-anchor="middle" font-weight="normal" font-style="normal" fill="#666" >R</text>
<text x="338.8" y="166.7" font-size="3.7" text-anchor="middle" font-weight="normal" font-style="normal" fill="#3a3a3a" >2</text>
<text x="345.8" y="166.7" font-size="3.7" text-anchor="middle" font-weight="normal" font-style="normal" fill="#3a3a3a" >2.6</text>
<text x="204" y="170.09" font-size="3" text-anchor="middle" font-weight="normal" font-style="normal" fill="#666" >D</text>
<text x="338.8" y="170.24" font-size="3.7" text-anchor="middle" font-weight="normal" font-style="normal" fill="#3a3a3a" >2</text>
<text x="345.8" y="170.24" font-size="3.7" text-anchor="middle" font-weight="normal" font-style="normal" fill="#3a3a3a" >2.6</text>
<text x="204" y="173.64" font-size="3" text-anchor="middle" font-weight="normal" font-style="normal" fill="#666" >R</text>
<text x="338.8" y="173.79" font-size="3.7" text-anchor="middle" font-weight="normal" font-style="normal" fill="#3a3a3a" >0</text>
<text x="345.8" y="173.79" font-size="3.7" text-anchor="middle" font-weight="normal" font-style="normal" fill="#3a3a3a" >0</text>
<text x="204" y="177.18" font-size="3" text-anchor="middle" font-weight="normal" font-style="normal" fill="#666" >D</text>
<text x="338.8" y="177.33" font-size="3.7" text-anchor="middle" font-weight="normal" font-style="normal" fill="#3a3a3a" >2</text>
<text x="345.8" y="177.33" font-size="3.7" text-anchor="middle" font-weight="normal" font-style="normal" fill="#3a3a3a" >2.6</text>
<text x="204" y="180.73" font-size="3" text-anchor="middle" font-weight="normal" font-style="normal" fill="#666" >R</text>
<text x="338.8" y="180.88" font-size="3.7" text-anchor="middle" font-weight="normal" font-style="normal" fill="#3a3a3a" >1</text>
<text x="345.8" y="180.88" font-size="3.7" text-anchor="middle" font-weight="normal" font-style="normal" fill="#3a3a3a" >1.3</text>
<text x="204" y="184.27" font-size="3" text-anchor="middle" font-weight="normal" font-style="normal" fill="#666" >D</text>
<text x="338.8" y="184.42" font-size="3.7" text-anchor="middle" font-weight="normal" font-style="normal" fill="#3a3a3a" >0</text>
<text x="345.8" y="184.42" font-size="3.7" text-anchor="middle" font-weight="normal" font-style="normal" fill="#3a3a3a" >0</text>
<text x="204" y="187.82" font-size="3" text-anchor="middle" font-weight="normal" font-style="normal" fill="#666" >R</text>
<text x="338.8" y="187.97" font-size="3.7" text-anchor="middle" font-weight="normal" font-style="normal" fill="#3a3a3a" >0</text>
<text x="345.8" y="187.97" font-size="3.7" text-anchor="middle" font-weight="normal" font-style="normal" fill="#3a3a3a" >0</text>
<text x="204" y="191.36" font-size="3" text-anchor="middle" font-weight="normal" font-style="normal" fill="#666" >D</text>
<text x="338.8" y="191.51" font-size="3.7" text-anchor="middle" font-weight="normal" font-style="normal" fill="#3a3a3a" >1</text>
<text x="345.8" y="191.51" font-size="3.7" text-anchor="middle" font-weight="normal" font-style="normal" fill="#3a3a3a" >1.3</text>
<text x="204" y="194.91" font-size="3" text-anchor="middle" font-weight="normal" font-style="normal" fill="#666" >R</text>
<text x="338.8" y="195.06" font-size="3.7" text-anchor="middle" font-weight="normal" font-style="normal" fill="#3a3a3a" >0</text>
<text x="345.8" y="195.06" font-size="3.7" text-anchor="middle" font-weight="normal" font-style="normal" fill="#3a3a3a" >0</text>
<text x="204" y="198.45" font-size="3" text-anchor="middle" font-weight="normal" font-style="normal" fill="#666" >D</text>
<text x="338.8" y="198.6" font-size="3.7" text-anchor="middle" font-weight="normal" font-style="normal" fill="#3a3a3a" >12</text>
<text x="345.8" y="198.6" font-size="3.7" text-anchor="middle" font-weight="normal" font-style="normal" fill="#3a3a3a" >15</text>
<text x="204" y="202" font-size="3" text-anchor="middle" font-weight="normal" font-style="normal" fill="#666" >R</text>
<text x="338.8" y="202.15" font-size="3.7" text-anchor="middle" font-weight="normal" font-style="normal" fill="#3a3a3a" >14</text>
<text x="345.8" y="202.15" font-size="3.7" text-anchor="middle" font-weight="normal" font-style="normal" fill="#3a3a3a" >18</text>
<text x="204" y="205.54" font-size="3" text-anchor="middle" font-weight="normal" font-style="normal" fill="#666" >D</text>
<text x="338.8" y="205.69" font-size="3.7" text-anchor="middle" font-weight="normal" font-style="normal" fill="#3a3a3a" >3</text>
<text x="345.8" y="205.69" font-size="3.7" text-anchor="middle" font-weight="normal" font-style="normal" fill="#3a3a3a" >3.8</text>
<text x="204" y="209.09" font-size="3" text-anchor="middle" font-weight="normal" font-style="normal" fill="#666" >R</text>
<text x="338.8" y="209.24" font-size="3.7" text-anchor="middle" font-weight="normal" font-style="normal" fill="#3a3a3a" >2</text>
<text x="345.8" y="209.24" font-size="3.7" text-anchor="middle" font-weight="normal" font-style="normal" fill="#3a3a3a" >2.6</text>
<text x="204" y="212.63" font-size="3" text-anchor="middle" font-weight="normal" font-style="normal" fill="#666" >D</text>
<text x="338.8" y="212.78" font-size="3.7" text-anchor="middle" font-weight="normal" font-style="normal" fill="#3a3a3a" >1</text>
<text x="345.8" y="212.78" font-size="3.7" text-anchor="middle" font-weight="normal" font-style="normal" fill="#3a3a3a" >1.3</text>
<text x="204" y="216.18" font-size="3" text-anchor="middle" font-weight="normal" font-style="normal" fill="#666" >R</text>
<text x="338.8" y="216.33" font-size="3.7" text-anchor="middle" font-weight="normal" font-style="normal" fill="#3a3a3a" >0</text>
<text x="345.8" y="216.33" font-size="3.7" text-anchor="middle" font-weight="normal" font-style="normal" fill="#3a3a3a" >0</text>
<text x="204" y="219.72" font-size="3" text-anchor="middle" font-weight="normal" font-style="normal" fill="#666" >D</text>
<text x="338.8" y="219.87" font-size="3.7" text-anchor="middle" font-weight="normal" font-style="normal" fill="#3a3a3a" >2</text>
<text x="345.8" y="219.87" font-size="3.7" text-anchor="middle" font-weight="normal" font-style="normal" fill="#3a3a3a" >2.6</text>
<text x="204" y="223.27" font-size="3" text-anchor="middle" font-weight="normal" font-style="normal" fill="#666" >R</text>
<text x="338.8" y="223.42" font-size="3.7" text-anchor="middle" font-weight="normal" font-style="normal" fill="#3a3a3a" >3</text>
<text x="345.8" y="223.42" font-size="3.7" text-anchor="middle" font-weight="normal" font-style="normal" fill="#3a3a3a" >3.8</text>
<text x="204" y="226.81" font-size="3" text-anchor="middle" font-weight="normal" font-style="normal" fill="#666" >D</text>
<text x="338.8" y="226.96" font-size="3.7" text-anchor="middle" font-weight="normal" font-style="normal" fill="#3a3a3a" >1</text>
<text x="345.8" y="226.96" font-size="3.7" text-anchor="middle" font-weight="normal" font-style="normal" fill="#3a3a3a" >1.3</text>
<text x="204" y="230.36" font-size="3" text-anchor="middle" font-weight="normal" font-style="normal" fill="#666" >R</text>
<text x="338.8" y="230.51" font-size="3.7" text-anchor="middle" font-weight="normal" font-style="normal" fill="#3a3a3a" >1</text>
<text x="345.8" y="230.51" font-size="3.7" text-anchor="middle" font-weight="normal" font-style="normal" fill="#3a3a3a" >1.3</text>
<text x="204" y="233.9" font-size="3" text-anchor="middle" font-weight="normal" font-style="normal" fill="#666" >D</text>
<text x="338.8" y="234.05" font-size="3.7" text-anchor="middle" font-weight="normal" font-style="normal" fill="#3a3a3a" >3</text>
<text x="345.8" y="234.05" font-size="3.7" text-anchor="middle" font-weight="normal" font-style="normal" fill="#3a3a3a" >3.8</text>
<text x="204" y="237.45" font-size="3" text-anchor="middle" font-weight="normal" font-style="normal" fill="#666" >R</text>
<text x="338.8" y="237.6" font-size="3.7" text-anchor="middle" font-weight="normal" font-style="normal" fill="#3a3a3a" >3</text>
<text x="345.8" y="237.6" font-size="3.7" text-anchor="middle" font-weight="normal" font-style="normal" fill="#3a3a3a" >3.8</text>
<text x="204" y="240.99" font-size="3" text-anchor="middle" font-weight="normal" font-style="normal" fill="#666" >D</text>
<text x="338.8" y="241.14" font-size="3.7" text-anchor="middle" font-weight="normal" font-style="normal" fill="#3a3a3a" >1</text>
<text x="345.8" y="241.14" font-size="3.7" text-anchor="middle" font-weight="normal" font-style="normal" fill="#3a3a3a" >1.3</text>
<text x="204" y="244.54" font-size="3" text-anchor="middle" font-weight="normal" font-style="normal" fill="#666" >R</text>
<text x="338.8" y="244.69" font-size="3.7" text-anchor="middle" font-weight="normal" font-style="normal" fill="#3a3a3a" >1</text>
<text x="345.8" y="244.69" font-size="3.7" text-anchor="middle" font-weight="normal" font-style="normal" fill="#3a3a3a" >1.3</text>
<text x="204" y="248.08" font-size="3" text-anchor="middle" font-weight="normal" font-style="normal" fill="#666" >D</text>
<text x="338.8" y="248.23" font-size="3.7" text-anchor="middle" font-weight="normal" font-style="normal" fill="#3a3a3a" >6</text>
<text x="345.8" y="248.23" font-size="3.7" text-anchor="middle" font-weight="normal" font-style="normal" fill="#3a3a3a" >7.7</text>
<text x="204" y="251.63" font-size="3" text-anchor="middle" font-weight="normal" font-style="normal" fill="#666" >R</text>
<text x="338.8" y="251.78" font-size="3.7" text-anchor="middle" font-weight="normal" font-style="normal" fill="#3a3a3a" >4</text>
<text x="345.8" y="251.78" font-size="3.7" text-anchor="middle" font-weight="normal" font-style="normal" fill="#3a3a3a" >5.1</text>
<text x="204" y="255.17" font-size="3" text-anchor="middle" font-weight="normal" font-style="normal" fill="#666" >D</text>
<text x="338.8" y="255.32" font-size="3.7" text-anchor="middle" font-weight="normal" font-style="normal" fill="#3a3a3a" >5</text>
<text x="345.8" y="255.32" font-size="3.7" text-anchor="middle" font-weight="normal" font-style="normal" fill="#3a3a3a" >6.4</text>
<text x="204" y="258.72" font-size="3" text-anchor="middle" font-weight="normal" font-style="normal" fill="#666" >R</text>
<text x="338.8" y="258.87" font-size="3.7" text-anchor="middle" font-weight="normal" font-style="normal" fill="#3a3a3a" >6</text>
<text x="345.8" y="258.87" font-size="3.7" text-anchor="middle" font-weight="normal" font-style="normal" fill="#3a3a3a" >7.7</text>
<text x="204" y="262.26" font-size="3" text-anchor="middle" font-weight="normal" font-style="normal" fill="#666" >D</text>
<text x="338.8" y="262.41" font-size="3.7" text-anchor="middle" font-weight="normal" font-style="normal" fill="#3a3a3a" >5</text>
<text x="345.8" y="262.41" font-size="3.7" text-anchor="middle" font-weight="normal" font-style="normal" fill="#3a3a3a" >6.4</text>
<text x="204" y="265.81" font-size="3" text-anchor="middle" font-weight="normal" font-style="normal" fill="#666" >R</text>
<text x="338.8" y="265.96" font-size="3.7" text-anchor="middle" font-weight="normal" font-style="normal" fill="#3a3a3a" >5</text>
<text x="345.8" y="265.96" font-size="3.7" text-anchor="middle" font-weight="normal" font-style="normal" fill="#3a3a3a" >6.4</text>
<text x="204" y="269.35" font-size="3" text-anchor="middle" font-weight="normal" font-style="normal" fill="#666" >D</text>
<text x="338.8" y="269.5" font-size="3.7" text-anchor="middle" font-weight="normal" font-style="normal" fill="#3a3a3a" >3</text>
<text x="345.8" y="269.5" font-size="3.7" text-anchor="middle" font-weight="normal" font-style="normal" fill="#3a3a3a" >3.8</text>
<text x="204" y="272.9" font-size="3" text-anchor="middle" font-weight="normal" font-style="normal" fill="#666" >R</text>
<text x="338.8" y="273.05" font-size="3.7" text-anchor="middle" font-weight="normal" font-style="normal" fill="#3a3a3a" >3</text>
<text x="345.8" y="273.05" font-size="3.7" text-anchor="middle" font-weight="normal" font-style="normal" fill="#3a3a3a" >3.8</text>
<text x="204" y="276.44" font-size="3" text-anchor="middle" font-weight="normal" font-style="normal" fill="#666" >D</text>
<text x="338.8" y="276.59" font-size="3.7" text-anchor="middle" font-weight="normal" font-style="normal" fill="#3a3a3a" >2</text>
<text x="345.8" y="276.59" font-size="3.7" text-anchor="middle" font-weight="normal" font-style="normal" fill="#3a3a3a" >2.6</text>
<text x="204" y="279.99" font-size="3" text-anchor="middle" font-weight="normal" font-style="normal" fill="#666" >R</text>
<text x="338.8" y="280.14" font-size="3.7" text-anchor="middle" font-weight="normal" font-style="normal" fill="#3a3a3a" >2</text>
<text x="345.8" y="280.14" font-size="3.7" text-anchor="middle" font-weight="normal" font-style="normal" fill="#3a3a3a" >2.6</text>
<text x="204" y="283.53" font-size="3" text-anchor="middle" font-weight="normal" font-style="normal" fill="#666" >D</text>
<text x="338.8" y="283.68" font-size="3.7" text-anchor="middle" font-weight="normal" font-style="normal" fill="#3a3a3a" >0</text>
<text x="345.8" y="283.68" font-size="3.7" text-anchor="middle" font-weight="normal" font-style="normal" fill="#3a3a3a" >0</text>
<text x="204" y="287.08" font-size="3" text-anchor="middle" font-weight="normal" font-style="normal" fill="#666" >R</text>
<text x="338.8" y="287.23" font-size="3.7" text-anchor="middle" font-weight="normal" font-style="normal" fill="#3a3a3a" >0</text>
<text x="345.8" y="287.23" font-size="3.7" text-anchor="middle" font-weight="normal" font-style="normal" fill="#3a3a3a" >0</text>
<text x="204" y="290.62" font-size="3" text-anchor="middle" font-weight="normal" font-style="normal" fill="#666" >D</text>
<text x="338.8" y="290.77" font-size="3.7" text-anchor="middle" font-weight="normal" font-style="normal" fill="#3a3a3a" >1</text>
<text x="345.8" y="290.77" font-size="3.7" text-anchor="middle" font-weight="normal" font-style="normal" fill="#3a3a3a" >1.3</text>
<text x="204" y="294.17" font-size="3" text-anchor="middle" font-weight="normal" font-style="normal" fill="#666" >R</text>
<text x="338.8" y="294.32" font-size="3.7" text-anchor="middle" font-weight="normal" font-style="normal" fill="#3a3a3a" >2</text>
<text x="345.8" y="294.32" font-size="3.7" text-anchor="middle" font-weight="normal" font-style="normal" fill="#3a3a3a" >2.6</text>
<text x="204" y="297.71" font-size="3" text-anchor="middle" font-weight="normal" font-style="normal" fill="#666" >D</text>
<text x="338.8" y="297.86" font-size="3.7" text-anchor="middle" font-weight="normal" font-style="normal" fill="#3a3a3a" >1</text>
<text x="345.8" y="297.86" font-size="3.7" text-anchor="middle" font-weight="normal" font-style="normal" fill="#3a3a3a" >1.3</text>
<text x="204" y="301.26" font-size="3" text-anchor="middle" font-weight="normal" font-style="normal" fill="#666" >R</text>
<text x="338.8" y="301.41" font-size="3.7" text-anchor="middle" font-weight="normal" font-style="normal" fill="#3a3a3a" >2</text>
<text x="345.8" y="301.41" font-size="3.7" text-anchor="middle" font-weight="normal" font-style="normal" fill="#3a3a3a" >2.6</text>
<text x="204" y="304.8" font-size="3" text-anchor="middle" font-weight="normal" font-style="normal" fill="#666" >D</text>
<text x="338.8" y="304.95" font-size="3.7" text-anchor="middle" font-weight="normal" font-style="normal" fill="#3a3a3a" >2</text>
<text x="345.8" y="304.95" font-size="3.7" text-anchor="middle" font-weight="normal" font-style="normal" fill="#3a3a3a" >2.6</text>
<text x="204" y="308.35" font-size="3" text-anchor="middle" font-weight="normal" font-style="normal" fill="#666" >R</text>
<text x="338.8" y="308.5" font-size="3.7" text-anchor="middle" font-weight="normal" font-style="normal" fill="#3a3a3a" >2</text>
<text x="345.8" y="308.5" font-size="3.7" text-anchor="middle" font-weight="normal" font-style="normal" fill="#3a3a3a" >2.6</text>
<text x="204" y="311.89" font-size="3" text-anchor="middle" font-weight="normal" font-style="normal" fill="#666" >D</text>
<text x="338.8" y="312.04" font-size="3.7" text-anchor="middle" font-weight="normal" font-style="normal" fill="#3a3a3a" >2</text>
<text x="345.8" y="312.04" font-size="3.7" text-anchor="middle" font-weight="normal" font-style="normal" fill="#3a3a3a" >2.6</text>
<text x="204" y="315.44" font-size="3" text-anchor="middle" font-weight="normal" font-style="normal" fill="#666" >R</text>
<text x="338.8" y="315.59" font-size="3.7" text-anchor="middle" font-weight="normal" font-style="normal" fill="#3a3a3a" >1</text>
<text x="345.8" y="315.59" font-size="3.7" text-anchor="middle" font-weight="normal" font-style="normal" fill="#3a3a3a" >1.3</text>
<text x="204" y="318.98" font-size="3" text-anchor="middle" font-weight="normal" font-style="normal" fill="#666" >D</text>
<text x="338.8" y="319.13" font-size="3.7" text-anchor="middle" font-weight="normal" font-style="normal" fill="#3a3a3a" >1</text>
<text x="345.8" y="319.13" font-size="3.7" text-anchor="middle" font-weight="normal" font-style="normal" fill="#3a3a3a" >1.3</text>
<text x="204" y="322.53" font-size="3" text-anchor="middle" font-weight="normal" font-style="normal" fill="#666" >R</text>
<text x="338.8" y="322.68" font-size="3.7" text-anchor="middle" font-weight="normal" font-style="normal" fill="#3a3a3a" >1</text>
<text x="345.8" y="322.68" font-size="3.7" text-anchor="middle" font-weight="normal" font-style="normal" fill="#3a3a3a" >1.3</text>
<text x="204" y="326.07" font-size="3" text-anchor="middle" font-weight="normal" font-style="normal" fill="#666" >D</text>
<text x="338.8" y="326.22" font-size="3.7" text-anchor="middle" font-weight="normal" font-style="normal" fill="#3a3a3a" >0</text>
<text x="345.8" y="326.22" font-size="3.7" text-anchor="middle" font-weight="normal" font-style="normal" fill="#3a3a3a" >0</text>
<text x="204" y="329.62" font-size="3" text-anchor="middle" font-weight="normal" font-style="normal" fill="#666" >R</text>
<text x="338.8" y="329.77" font-size="3.7" text-anchor="middle" font-weight="normal" font-style="normal" fill="#3a3a3a" >0</text>
<text x="345.8" y="329.77" font-size="3.7" text-anchor="middle" font-weight="normal" font-style="normal" fill="#3a3a3a" >0</text>
<text x="204" y="333.16" font-size="3" text-anchor="middle" font-weight="normal" font-style="normal" fill="#666" >D</text>
<text x="338.8" y="333.31" font-size="3.7" text-anchor="middle" font-weight="normal" font-style="normal" fill="#3a3a3a" >2</text>
<text x="345.8" y="333.31" font-size="3.7" text-anchor="middle" font-weight="normal" font-style="normal" fill="#3a3a3a" >2.6</text>
<text x="204" y="336.71" font-size="3" text-anchor="middle" font-weight="normal" font-style="normal" fill="#666" >R</text>
<text x="338.8" y="336.86" font-size="3.7" text-anchor="middle" font-weight="normal" font-style="normal" fill="#3a3a3a" >3</text>
<text x="345.8" y="336.86" font-size="3.7" text-anchor="middle" font-weight="normal" font-style="normal" fill="#3a3a3a" >3.8</text>
<text x="204" y="340.25" font-size="3" text-anchor="middle" font-weight="normal" font-style="normal" fill="#666" >D</text>
<text x="338.8" y="340.4" font-size="3.7" text-anchor="middle" font-weight="normal" font-style="normal" fill="#3a3a3a" >0</text>
<text x="345.8" y="340.4" font-size="3.7" text-anchor="middle" font-weight="normal" font-style="normal" fill="#3a3a3a" >0</text>
<text x="204" y="343.8" font-size="3" text-anchor="middle" font-weight="normal" font-style="normal" fill="#666" >R</text>
<text x="338.8" y="343.95" font-size="3.7" text-anchor="middle" font-weight="normal" font-style="normal" fill="#3a3a3a" >1</text>
<text x="345.8" y="343.95" font-size="3.7" text-anchor="middle" font-weight="normal" font-style="normal" fill="#3a3a3a" >1.3</text>
<text x="204" y="347.34" font-size="3" text-anchor="middle" font-weight="normal" font-style="normal" fill="#666" >D</text>
<text x="338.8" y="347.49" font-size="3.7" text-anchor="middle" font-weight="normal" font-style="normal" fill="#3a3a3a" >0</text>
<text x="345.8" y="347.49" font-size="3.7" text-anchor="middle" font-weight="normal" font-style="normal" fill="#3a3a3a" >0</text>
<text x="204" y="350.89" font-size="3" text-anchor="middle" font-weight="normal" font-style="normal" fill="#666" >R</text>
<text x="338.8" y="351.04" font-size="3.7" text-anchor="middle" font-weight="normal" font-style="normal" fill="#3a3a3a" >1</text>
<text x="345.8" y="351.04" font-size="3.7" text-anchor="middle" font-weight="normal" font-style="normal" fill="#3a3a3a" >1.3</text>
<text x="338.8" y="37.4" font-size="3.7" text-anchor="middle" font-weight="normal" font-style="normal" fill="#3a3a3a" >n</text>
<text x="345.8" y="37.4" font-size="3.7" text-anchor="middle" font-weight="normal" font-style="normal" fill="#3a3a3a" >%</text>
<text x="269.8" y="28.8" font-size="5.6" text-anchor="middle" font-weight="normal" font-style="normal" fill="#222" >ICT</text>
<text x="271" y="35.2" font-size="5.6" text-anchor="middle" font-weight="normal" font-style="normal" fill="#222" >(n = 78)</text>
<text x="363.6" y="14.3" font-size="10" text-anchor="start" font-weight="bold" font-style="normal" fill="#111" stroke="#111" stroke-width="0.45">B</text>
<text x="439.8" y="14.4" font-size="9" text-anchor="middle" font-weight="normal" font-style="normal" fill="#222" >Refractory patients (n = 30)</text>
<rect x="376.3" y="39.6" width="48.1" height="14.06" fill="#e9e9e9"/>
<line x1="376.3" y1="39.6" x2="424.4" y2="39.6" stroke="#bbb" stroke-width="0.5"/>
<text transform="translate(388.1,48.65) scale(0.9,1)" font-size="4.5" text-anchor="middle" font-weight="bold" font-style="italic" fill="#000" stroke="#000" stroke-width="0.04">FLT3</text>
<text transform="translate(414.1,44.41) scale(0.84,1)" font-size="4.85" text-anchor="middle" font-style="italic" fill="#6a6a6a">FLT3-ITD</text>
<text transform="translate(414.1,51.45) scale(0.84,1)" font-size="4.85" text-anchor="middle" font-style="italic" fill="#6a6a6a">FLT3-PM</text>
<line x1="376.3" y1="53.66" x2="424.4" y2="53.66" stroke="#bbb" stroke-width="0.5"/>
<text transform="translate(388.1,59.3) scale(0.9,1)" font-size="4.5" text-anchor="middle" font-weight="bold" font-style="italic" fill="#000" stroke="#000" stroke-width="0.04">NPM1</text>
<text transform="translate(414.1,58.48) scale(0.84,1)" font-size="4.85" text-anchor="middle" font-style="italic" fill="#6a6a6a">NPM1</text>
<rect x="376.3" y="60.69" width="48.1" height="28.12" fill="#e9e9e9"/>
<line x1="376.3" y1="60.69" x2="424.4" y2="60.69" stroke="#bbb" stroke-width="0.5"/>
<text transform="translate(388.1,75.57) scale(0.9,1)" font-size="4.5" text-anchor="middle" font-weight="bold" font-style="normal" fill="#000" stroke="#000" stroke-width="0.04">Epigenetic</text>
<text transform="translate(414.1,65.5) scale(0.84,1)" font-size="4.85" text-anchor="middle" font-style="italic" fill="#6a6a6a">DNMT3A</text>
<text transform="translate(414.1,72.53) scale(0.84,1)" font-size="4.85" text-anchor="middle" font-style="italic" fill="#6a6a6a">TET2</text>
<text transform="translate(414.1,79.56) scale(0.84,1)" font-size="4.85" text-anchor="middle" font-style="italic" fill="#6a6a6a">IDH1</text>
<text transform="translate(414.1,86.59) scale(0.84,1)" font-size="4.85" text-anchor="middle" font-style="italic" fill="#6a6a6a">IDH2</text>
<line x1="376.3" y1="88.81" x2="424.4" y2="88.81" stroke="#bbb" stroke-width="0.5"/>
<text transform="translate(388.1,105.66) scale(0.9,1)" font-size="4.5" text-anchor="middle" font-weight="bold" font-style="normal" fill="#000" stroke="#000" stroke-width="0.04">Tumor</text>
<text transform="translate(388.1,110.76) scale(0.9,1)" font-size="4.5" text-anchor="middle" font-weight="bold" font-style="normal" fill="#000" stroke="#000" stroke-width="0.04">suppressor</text>
<text transform="translate(414.1,93.62) scale(0.84,1)" font-size="4.85" text-anchor="middle" font-style="italic" fill="#6a6a6a">WT1</text>
<text transform="translate(414.1,100.66) scale(0.84,1)" font-size="4.85" text-anchor="middle" font-style="italic" fill="#6a6a6a">PHF6</text>
<text transform="translate(414.1,107.69) scale(0.84,1)" font-size="4.85" text-anchor="middle" font-style="italic" fill="#6a6a6a">CUX1</text>
<text transform="translate(414.1,114.72) scale(0.84,1)" font-size="4.85" text-anchor="middle" font-style="italic" fill="#6a6a6a">PPM1D</text>
<text transform="translate(414.1,121.75) scale(0.84,1)" font-size="4.85" text-anchor="middle" font-style="italic" fill="#6a6a6a">TP53</text>
<rect x="376.3" y="123.96" width="48.1" height="70.3" fill="#e9e9e9"/>
<line x1="376.3" y1="123.96" x2="424.4" y2="123.96" stroke="#bbb" stroke-width="0.5"/>
<text transform="translate(388.1,160.43) scale(0.9,1)" font-size="4.5" text-anchor="middle" font-weight="bold" font-style="normal" fill="#000" stroke="#000" stroke-width="0.04">Signaling</text>
<text transform="translate(414.1,128.78) scale(0.84,1)" font-size="4.85" text-anchor="middle" font-style="italic" fill="#6a6a6a">NRAS</text>
<text transform="translate(414.1,135.81) scale(0.84,1)" font-size="4.85" text-anchor="middle" font-style="italic" fill="#6a6a6a">PTPN11</text>
<text transform="translate(414.1,142.84) scale(0.84,1)" font-size="4.85" text-anchor="middle" font-style="italic" fill="#6a6a6a">KRAS</text>
<text transform="translate(414.1,149.87) scale(0.84,1)" font-size="4.85" text-anchor="middle" font-style="italic" fill="#6a6a6a">NF1</text>
<text transform="translate(414.1,156.9) scale(0.84,1)" font-size="4.85" text-anchor="middle" font-style="italic" fill="#6a6a6a">MYC</text>
<text transform="translate(414.1,163.93) scale(0.84,1)" font-size="4.85" text-anchor="middle" font-style="italic" fill="#6a6a6a">CBL</text>
<text transform="translate(414.1,170.96) scale(0.84,1)" font-size="4.85" text-anchor="middle" font-style="italic" fill="#6a6a6a">RIT1</text>
<text transform="translate(414.1,177.99) scale(0.84,1)" font-size="4.85" text-anchor="middle" font-style="italic" fill="#6a6a6a">KIT</text>
<text transform="translate(414.1,185.02) scale(0.84,1)" font-size="4.85" text-anchor="middle" font-style="italic" fill="#6a6a6a">CSF3R</text>
<text transform="translate(414.1,192.05) scale(0.84,1)" font-size="4.85" text-anchor="middle" font-style="italic" fill="#6a6a6a">JAK2</text>
<line x1="376.3" y1="194.26" x2="424.4" y2="194.26" stroke="#bbb" stroke-width="0.5"/>
<text transform="translate(388.1,207.1) scale(0.9,1)" font-size="4.5" text-anchor="middle" font-weight="bold" font-style="normal" fill="#000" stroke="#000" stroke-width="0.04">Transcription</text>
<text transform="translate(388.1,212.2) scale(0.9,1)" font-size="4.5" text-anchor="middle" font-weight="bold" font-style="normal" fill="#000" stroke="#000" stroke-width="0.04">factor</text>
<text transform="translate(414.1,199.07) scale(0.84,1)" font-size="4.85" text-anchor="middle" font-style="italic" fill="#6a6a6a">RUNX1</text>
<text transform="translate(414.1,206.1) scale(0.84,1)" font-size="4.85" text-anchor="middle" font-style="italic" fill="#6a6a6a">CEBPA</text>
<text transform="translate(414.1,213.13) scale(0.84,1)" font-size="4.85" text-anchor="middle" font-style="italic" fill="#6a6a6a">ETV6</text>
<text transform="translate(414.1,220.16) scale(0.84,1)" font-size="4.85" text-anchor="middle" font-style="italic" fill="#6a6a6a">GATA2</text>
<text transform="translate(414.1,227.19) scale(0.84,1)" font-size="4.85" text-anchor="middle" font-style="italic" fill="#6a6a6a">NFE2</text>
<rect x="376.3" y="229.41" width="48.1" height="70.3" fill="#e9e9e9"/>
<line x1="376.3" y1="229.41" x2="424.4" y2="229.41" stroke="#bbb" stroke-width="0.5"/>
<text transform="translate(388.1,263.33) scale(0.9,1)" font-size="4.5" text-anchor="middle" font-weight="bold" font-style="normal" fill="#000" stroke="#000" stroke-width="0.04">Cohesin/</text>
<text transform="translate(388.1,268.43) scale(0.9,1)" font-size="4.5" text-anchor="middle" font-weight="bold" font-style="normal" fill="#000" stroke="#000" stroke-width="0.04">Histone</text>
<text transform="translate(414.1,234.22) scale(0.84,1)" font-size="4.85" text-anchor="middle" font-style="italic" fill="#6a6a6a">RAD21</text>
<text transform="translate(414.1,241.25) scale(0.84,1)" font-size="4.85" text-anchor="middle" font-style="italic" fill="#6a6a6a">BCOR</text>
<text transform="translate(414.1,248.28) scale(0.84,1)" font-size="4.85" text-anchor="middle" font-style="italic" fill="#6a6a6a">SMC3</text>
<text transform="translate(414.1,255.31) scale(0.84,1)" font-size="4.85" text-anchor="middle" font-style="italic" fill="#6a6a6a">ASXL1</text>
<text transform="translate(414.1,262.34) scale(0.84,1)" font-size="4.85" text-anchor="middle" font-style="italic" fill="#6a6a6a">STAG2</text>
<text transform="translate(414.1,269.38) scale(0.84,1)" font-size="4.85" text-anchor="middle" font-style="italic" fill="#6a6a6a">ASXL2</text>
<text transform="translate(414.1,276.4) scale(0.84,1)" font-size="4.85" text-anchor="middle" font-style="italic" fill="#6a6a6a">SMC1A</text>
<text transform="translate(414.1,283.44) scale(0.84,1)" font-size="4.85" text-anchor="middle" font-style="italic" fill="#6a6a6a">BCORL1</text>
<text transform="translate(414.1,290.46) scale(0.84,1)" font-size="4.85" text-anchor="middle" font-style="italic" fill="#6a6a6a">EZH2</text>
<text transform="translate(414.1,297.5) scale(0.84,1)" font-size="4.85" text-anchor="middle" font-style="italic" fill="#6a6a6a">KDM6A</text>
<line x1="376.3" y1="299.71" x2="424.4" y2="299.71" stroke="#bbb" stroke-width="0.5"/>
<text transform="translate(388.1,312.99) scale(0.9,1)" font-size="4.5" text-anchor="middle" font-weight="bold" font-style="normal" fill="#000" stroke="#000" stroke-width="0.04">Splicing</text>
<text transform="translate(414.1,304.52) scale(0.84,1)" font-size="4.85" text-anchor="middle" font-style="italic" fill="#6a6a6a">SF3B1</text>
<text transform="translate(414.1,311.55) scale(0.84,1)" font-size="4.85" text-anchor="middle" font-style="italic" fill="#6a6a6a">SRSF2</text>
<text transform="translate(414.1,318.58) scale(0.84,1)" font-size="4.85" text-anchor="middle" font-style="italic" fill="#6a6a6a">U2AF1</text>
<text transform="translate(414.1,325.61) scale(0.84,1)" font-size="4.85" text-anchor="middle" font-style="italic" fill="#6a6a6a">PRPF8</text>
<rect x="376.3" y="327.83" width="48.1" height="21.09" fill="#e9e9e9"/>
<line x1="376.3" y1="327.83" x2="424.4" y2="327.83" stroke="#bbb" stroke-width="0.5"/>
<text transform="translate(388.1,338.69) scale(0.9,1)" font-size="4.5" text-anchor="middle" font-weight="bold" font-style="normal" fill="#000" stroke="#000" stroke-width="0.04">Others</text>
<text transform="translate(414.1,332.64) scale(0.84,1)" font-size="4.85" text-anchor="middle" font-style="italic" fill="#6a6a6a">UBTF</text>
<text transform="translate(414.1,339.67) scale(0.84,1)" font-size="4.85" text-anchor="middle" font-style="italic" fill="#6a6a6a">ETNK1</text>
<text transform="translate(414.1,346.7) scale(0.84,1)" font-size="4.85" text-anchor="middle" font-style="italic" fill="#6a6a6a">GNB1</text>
<line x1="376.3" y1="348.92" x2="424.4" y2="348.92" stroke="#bbb" stroke-width="0.5"/>
<rect x="428.6" y="39.6" width="19.92" height="309.32" fill="#fefefe"/>
<rect x="428.6" y="39.55" width="11.62" height="3.62" fill="#9fb57e"/>
<rect x="440.22" y="39.55" width="8.3" height="3.62" fill="#3598c8"/>
<rect x="428.6" y="43.07" width="11.62" height="3.62" fill="#9fb57e"/>
<rect x="441.88" y="46.58" width="1.66" height="3.62" fill="#9fb57e"/>
<rect x="446.86" y="46.58" width="1.66" height="3.62" fill="#3598c8"/>
<rect x="441.88" y="50.1" width="1.66" height="3.62" fill="#9fb57e"/>
<rect x="428.6" y="53.61" width="3.32" height="3.62" fill="#9fb57e"/>
<rect x="428.6" y="57.13" width="3.32" height="3.62" fill="#9fb57e"/>
<rect x="428.6" y="60.64" width="6.64" height="3.62" fill="#9fb57e"/>
<rect x="440.22" y="60.64" width="4.98" height="3.62" fill="#9fb57e"/>
<rect x="428.6" y="64.16" width="6.64" height="3.62" fill="#9fb57e"/>
<rect x="440.22" y="64.16" width="4.98" height="3.62" fill="#9fb57e"/>
<rect x="440.22" y="74.7" width="1.66" height="3.62" fill="#9fb57e"/>
<rect x="440.22" y="78.22" width="1.66" height="3.62" fill="#9fb57e"/>
<rect x="441.88" y="81.73" width="3.32" height="3.62" fill="#9fb57e"/>
<rect x="441.88" y="85.25" width="3.32" height="3.62" fill="#9fb57e"/>
<rect x="428.6" y="88.76" width="1.66" height="3.62" fill="#9fb57e"/>
<rect x="443.54" y="88.76" width="1.66" height="3.62" fill="#3598c8"/>
<rect x="428.6" y="92.28" width="1.66" height="3.62" fill="#9fb57e"/>
<rect x="433.58" y="95.79" width="1.66" height="3.62" fill="#9fb57e"/>
<rect x="433.58" y="99.31" width="1.66" height="3.62" fill="#9fb57e"/>
<rect x="431.92" y="123.91" width="1.66" height="3.62" fill="#9fb57e"/>
<rect x="441.88" y="123.91" width="1.66" height="3.62" fill="#3598c8"/>
<rect x="431.92" y="127.43" width="1.66" height="3.62" fill="#9fb57e"/>
<rect x="445.2" y="127.43" width="1.66" height="3.62" fill="#9b1b30"/>
<rect x="428.6" y="145" width="1.66" height="3.62" fill="#9fb57e"/>
<rect x="428.6" y="148.51" width="1.66" height="3.62" fill="#9fb57e"/>
<rect x="445.2" y="148.51" width="1.66" height="3.62" fill="#9b1b30"/>
<rect x="441.88" y="159.06" width="1.66" height="3.62" fill="#3598c8"/>
<rect x="433.58" y="180.15" width="1.66" height="3.62" fill="#3598c8"/>
<rect x="428.6" y="190.69" width="1.66" height="3.62" fill="#9b1b30"/>
<rect x="433.58" y="194.21" width="1.66" height="3.62" fill="#9fb57e"/>
<rect x="441.88" y="194.21" width="3.32" height="3.62" fill="#9fb57e"/>
<rect x="433.58" y="197.72" width="1.66" height="3.62" fill="#9fb57e"/>
<rect x="441.88" y="197.72" width="3.32" height="3.62" fill="#9fb57e"/>
<rect x="435.24" y="201.24" width="1.66" height="3.62" fill="#9fb57e"/>
<rect x="435.24" y="204.75" width="1.66" height="3.62" fill="#9fb57e"/>
<rect x="441.88" y="236.39" width="1.66" height="3.62" fill="#9fb57e"/>
<rect x="445.2" y="236.39" width="1.66" height="3.62" fill="#9fb57e"/>
<rect x="441.88" y="239.9" width="1.66" height="3.62" fill="#9fb57e"/>
<rect x="445.2" y="239.9" width="1.66" height="3.62" fill="#9fb57e"/>
<rect x="431.92" y="250.45" width="1.66" height="3.62" fill="#9fb57e"/>
<rect x="431.92" y="253.96" width="1.66" height="3.62" fill="#9fb57e"/>
<rect x="443.54" y="271.54" width="1.66" height="3.62" fill="#3598c8"/>
<rect x="438.56" y="299.66" width="1.66" height="3.62" fill="#3598c8"/>
<rect x="443.54" y="313.72" width="1.66" height="3.62" fill="#3598c8"/>
<rect x="433.58" y="334.81" width="1.66" height="3.62" fill="#9fb57e"/>
<rect x="433.58" y="338.32" width="1.66" height="3.62" fill="#9fb57e"/>
<path d="M428.6 39.6V348.92M430.26 39.6V348.92M431.92 39.6V348.92M433.58 39.6V348.92M435.24 39.6V348.92M436.9 39.6V348.92M438.56 39.6V348.92M440.22 39.6V348.92M441.88 39.6V348.92M443.54 39.6V348.92M445.2 39.6V348.92M446.86 39.6V348.92M448.52 39.6V348.92" stroke="#000" stroke-opacity="0.19" stroke-width="0.42" fill="none"/>
<path d="M428.6 39.6H448.52M428.6 43.12H448.52M428.6 46.63H448.52M428.6 50.15H448.52M428.6 53.66H448.52M428.6 57.17H448.52M428.6 60.69H448.52M428.6 64.2H448.52M428.6 67.72H448.52M428.6 71.23H448.52M428.6 74.75H448.52M428.6 78.27H448.52M428.6 81.78H448.52M428.6 85.3H448.52M428.6 88.81H448.52M428.6 92.33H448.52M428.6 95.84H448.52M428.6 99.36H448.52M428.6 102.87H448.52M428.6 106.38H448.52M428.6 109.9H448.52M428.6 113.41H448.52M428.6 116.93H448.52M428.6 120.44H448.52M428.6 123.96H448.52M428.6 127.47H448.52M428.6 130.99H448.52M428.6 134.5H448.52M428.6 138.02H448.52M428.6 141.53H448.52M428.6 145.05H448.52M428.6 148.56H448.52M428.6 152.08H448.52M428.6 155.59H448.52M428.6 159.11H448.52M428.6 162.62H448.52M428.6 166.14H448.52M428.6 169.66H448.52M428.6 173.17H448.52M428.6 176.69H448.52M428.6 180.2H448.52M428.6 183.72H448.52M428.6 187.23H448.52M428.6 190.75H448.52M428.6 194.26H448.52M428.6 197.78H448.52M428.6 201.29H448.52M428.6 204.81H448.52M428.6 208.32H448.52M428.6 211.84H448.52M428.6 215.35H448.52M428.6 218.87H448.52M428.6 222.38H448.52M428.6 225.9H448.52M428.6 229.41H448.52M428.6 232.93H448.52M428.6 236.44H448.52M428.6 239.96H448.52M428.6 243.47H448.52M428.6 246.99H448.52M428.6 250.5H448.52M428.6 254.02H448.52M428.6 257.53H448.52M428.6 261.05H448.52M428.6 264.56H448.52M428.6 268.07H448.52M428.6 271.59H448.52M428.6 275.11H448.52M428.6 278.62H448.52M428.6 282.13H448.52M428.6 285.65H448.52M428.6 289.17H448.52M428.6 292.68H448.52M428.6 296.2H448.52M428.6 299.71H448.52M428.6 303.23H448.52M428.6 306.74H448.52M428.6 310.26H448.52M428.6 313.77H448.52M428.6 317.29H448.52M428.6 320.8H448.52M428.6 324.32H448.52M428.6 327.83H448.52M428.6 331.35H448.52M428.6 334.86H448.52M428.6 338.38H448.52M428.6 341.89H448.52M428.6 345.41H448.52M428.6 348.92H448.52" stroke="#000" stroke-opacity="0.25" stroke-width="0.45" fill="none"/>
<text x="426.5" y="42.46" font-size="3" text-anchor="middle" font-weight="normal" font-style="normal" fill="#666" >D</text>
<text x="451.7" y="42.61" font-size="3.7" text-anchor="middle" font-weight="normal" font-style="normal" fill="#3a3a3a" >12</text>
<text x="458.5" y="42.61" font-size="3.7" text-anchor="middle" font-weight="normal" font-style="normal" fill="#3a3a3a" >100</text>
<text x="426.5" y="45.97" font-size="3" text-anchor="middle" font-weight="normal" font-style="normal" fill="#666" >R</text>
<text x="451.7" y="46.12" font-size="3.7" text-anchor="middle" font-weight="normal" font-style="normal" fill="#3a3a3a" >7</text>
<text x="458.5" y="46.12" font-size="3.7" text-anchor="middle" font-weight="normal" font-style="normal" fill="#3a3a3a" >58</text>
<text x="426.5" y="49.49" font-size="3" text-anchor="middle" font-weight="normal" font-style="normal" fill="#666" >D</text>
<text x="451.7" y="49.64" font-size="3.7" text-anchor="middle" font-weight="normal" font-style="normal" fill="#3a3a3a" >2</text>
<text x="458.5" y="49.64" font-size="3.7" text-anchor="middle" font-weight="normal" font-style="normal" fill="#3a3a3a" >17</text>
<text x="426.5" y="53" font-size="3" text-anchor="middle" font-weight="normal" font-style="normal" fill="#666" >R</text>
<text x="451.7" y="53.15" font-size="3.7" text-anchor="middle" font-weight="normal" font-style="normal" fill="#3a3a3a" >1</text>
<text x="458.5" y="53.15" font-size="3.7" text-anchor="middle" font-weight="normal" font-style="normal" fill="#3a3a3a" >8.3</text>
<text x="426.5" y="56.52" font-size="3" text-anchor="middle" font-weight="normal" font-style="normal" fill="#666" >D</text>
<text x="451.7" y="56.67" font-size="3.7" text-anchor="middle" font-weight="normal" font-style="normal" fill="#3a3a3a" >2</text>
<text x="458.5" y="56.67" font-size="3.7" text-anchor="middle" font-weight="normal" font-style="normal" fill="#3a3a3a" >17</text>
<text x="426.5" y="60.03" font-size="3" text-anchor="middle" font-weight="normal" font-style="normal" fill="#666" >R</text>
<text x="451.7" y="60.18" font-size="3.7" text-anchor="middle" font-weight="normal" font-style="normal" fill="#3a3a3a" >2</text>
<text x="458.5" y="60.18" font-size="3.7" text-anchor="middle" font-weight="normal" font-style="normal" fill="#3a3a3a" >17</text>
<text x="426.5" y="63.55" font-size="3" text-anchor="middle" font-weight="normal" font-style="normal" fill="#666" >D</text>
<text x="451.7" y="63.7" font-size="3.7" text-anchor="middle" font-weight="normal" font-style="normal" fill="#3a3a3a" >7</text>
<text x="458.5" y="63.7" font-size="3.7" text-anchor="middle" font-weight="normal" font-style="normal" fill="#3a3a3a" >58</text>
<text x="426.5" y="67.06" font-size="3" text-anchor="middle" font-weight="normal" font-style="normal" fill="#666" >R</text>
<text x="451.7" y="67.21" font-size="3.7" text-anchor="middle" font-weight="normal" font-style="normal" fill="#3a3a3a" >7</text>
<text x="458.5" y="67.21" font-size="3.7" text-anchor="middle" font-weight="normal" font-style="normal" fill="#3a3a3a" >58</text>
<text x="426.5" y="70.58" font-size="3" text-anchor="middle" font-weight="normal" font-style="normal" fill="#666" >D</text>
<text x="451.7" y="70.73" font-size="3.7" text-anchor="middle" font-weight="normal" font-style="normal" fill="#3a3a3a" >0</text>
<text x="458.5" y="70.73" font-size="3.7" text-anchor="middle" font-weight="normal" font-style="normal" fill="#3a3a3a" >0</text>
<text x="426.5" y="74.09" font-size="3" text-anchor="middle" font-weight="normal" font-style="normal" fill="#666" >R</text>
<text x="451.7" y="74.24" font-size="3.7" text-anchor="middle" font-weight="normal" font-style="normal" fill="#3a3a3a" >0</text>
<text x="458.5" y="74.24" font-size="3.7" text-anchor="middle" font-weight="normal" font-style="normal" fill="#3a3a3a" >0</text>
<text x="426.5" y="77.61" font-size="3" text-anchor="middle" font-weight="normal" font-style="normal" fill="#666" >D</text>
<text x="451.7" y="77.76" font-size="3.7" text-anchor="middle" font-weight="normal" font-style="normal" fill="#3a3a3a" >1</text>
<text x="458.5" y="77.76" font-size="3.7" text-anchor="middle" font-weight="normal" font-style="normal" fill="#3a3a3a" >8.3</text>
<text x="426.5" y="81.12" font-size="3" text-anchor="middle" font-weight="normal" font-style="normal" fill="#666" >R</text>
<text x="451.7" y="81.27" font-size="3.7" text-anchor="middle" font-weight="normal" font-style="normal" fill="#3a3a3a" >1</text>
<text x="458.5" y="81.27" font-size="3.7" text-anchor="middle" font-weight="normal" font-style="normal" fill="#3a3a3a" >8.3</text>
<text x="426.5" y="84.64" font-size="3" text-anchor="middle" font-weight="normal" font-style="normal" fill="#666" >D</text>
<text x="451.7" y="84.79" font-size="3.7" text-anchor="middle" font-weight="normal" font-style="normal" fill="#3a3a3a" >2</text>
<text x="458.5" y="84.79" font-size="3.7" text-anchor="middle" font-weight="normal" font-style="normal" fill="#3a3a3a" >17</text>
<text x="426.5" y="88.15" font-size="3" text-anchor="middle" font-weight="normal" font-style="normal" fill="#666" >R</text>
<text x="451.7" y="88.3" font-size="3.7" text-anchor="middle" font-weight="normal" font-style="normal" fill="#3a3a3a" >2</text>
<text x="458.5" y="88.3" font-size="3.7" text-anchor="middle" font-weight="normal" font-style="normal" fill="#3a3a3a" >17</text>
<text x="426.5" y="91.67" font-size="3" text-anchor="middle" font-weight="normal" font-style="normal" fill="#666" >D</text>
<text x="451.7" y="91.82" font-size="3.7" text-anchor="middle" font-weight="normal" font-style="normal" fill="#3a3a3a" >2</text>
<text x="458.5" y="91.82" font-size="3.7" text-anchor="middle" font-weight="normal" font-style="normal" fill="#3a3a3a" >17</text>
<text x="426.5" y="95.18" font-size="3" text-anchor="middle" font-weight="normal" font-style="normal" fill="#666" >R</text>
<text x="451.7" y="95.33" font-size="3.7" text-anchor="middle" font-weight="normal" font-style="normal" fill="#3a3a3a" >1</text>
<text x="458.5" y="95.33" font-size="3.7" text-anchor="middle" font-weight="normal" font-style="normal" fill="#3a3a3a" >8.3</text>
<text x="426.5" y="98.7" font-size="3" text-anchor="middle" font-weight="normal" font-style="normal" fill="#666" >D</text>
<text x="451.7" y="98.85" font-size="3.7" text-anchor="middle" font-weight="normal" font-style="normal" fill="#3a3a3a" >1</text>
<text x="458.5" y="98.85" font-size="3.7" text-anchor="middle" font-weight="normal" font-style="normal" fill="#3a3a3a" >8.3</text>
<text x="426.5" y="102.21" font-size="3" text-anchor="middle" font-weight="normal" font-style="normal" fill="#666" >R</text>
<text x="451.7" y="102.36" font-size="3.7" text-anchor="middle" font-weight="normal" font-style="normal" fill="#3a3a3a" >1</text>
<text x="458.5" y="102.36" font-size="3.7" text-anchor="middle" font-weight="normal" font-style="normal" fill="#3a3a3a" >8.3</text>
<text x="426.5" y="105.73" font-size="3" text-anchor="middle" font-weight="normal" font-style="normal" fill="#666" >D</text>
<text x="451.7" y="105.88" font-size="3.7" text-anchor="middle" font-weight="normal" font-style="normal" fill="#3a3a3a" >0</text>
<text x="458.5" y="105.88" font-size="3.7" text-anchor="middle" font-weight="normal" font-style="normal" fill="#3a3a3a" >0</text>
<text x="426.5" y="109.24" font-size="3" text-anchor="middle" font-weight="normal" font-style="normal" fill="#666" >R</text>
<text x="451.7" y="109.39" font-size="3.7" text-anchor="middle" font-weight="normal" font-style="normal" fill="#3a3a3a" >0</text>
<text x="458.5" y="109.39" font-size="3.7" text-anchor="middle" font-weight="normal" font-style="normal" fill="#3a3a3a" >0</text>
<text x="426.5" y="112.76" font-size="3" text-anchor="middle" font-weight="normal" font-style="normal" fill="#666" >D</text>
<text x="451.7" y="112.91" font-size="3.7" text-anchor="middle" font-weight="normal" font-style="normal" fill="#3a3a3a" >0</text>
<text x="458.5" y="112.91" font-size="3.7" text-anchor="middle" font-weight="normal" font-style="normal" fill="#3a3a3a" >0</text>
<text x="426.5" y="116.27" font-size="3" text-anchor="middle" font-weight="normal" font-style="normal" fill="#666" >R</text>
<text x="451.7" y="116.42" font-size="3.7" text-anchor="middle" font-weight="normal" font-style="normal" fill="#3a3a3a" >0</text>
<text x="458.5" y="116.42" font-size="3.7" text-anchor="middle" font-weight="normal" font-style="normal" fill="#3a3a3a" >0</text>
<text x="426.5" y="119.79" font-size="3" text-anchor="middle" font-weight="normal" font-style="normal" fill="#666" >D</text>
<text x="451.7" y="119.94" font-size="3.7" text-anchor="middle" font-weight="normal" font-style="normal" fill="#3a3a3a" >0</text>
<text x="458.5" y="119.94" font-size="3.7" text-anchor="middle" font-weight="normal" font-style="normal" fill="#3a3a3a" >0</text>
<text x="426.5" y="123.3" font-size="3" text-anchor="middle" font-weight="normal" font-style="normal" fill="#666" >R</text>
<text x="451.7" y="123.45" font-size="3.7" text-anchor="middle" font-weight="normal" font-style="normal" fill="#3a3a3a" >0</text>
<text x="458.5" y="123.45" font-size="3.7" text-anchor="middle" font-weight="normal" font-style="normal" fill="#3a3a3a" >0</text>
<text x="426.5" y="126.82" font-size="3" text-anchor="middle" font-weight="normal" font-style="normal" fill="#666" >D</text>
<text x="451.7" y="126.97" font-size="3.7" text-anchor="middle" font-weight="normal" font-style="normal" fill="#3a3a3a" >2</text>
<text x="458.5" y="126.97" font-size="3.7" text-anchor="middle" font-weight="normal" font-style="normal" fill="#3a3a3a" >17</text>
<text x="426.5" y="130.33" font-size="3" text-anchor="middle" font-weight="normal" font-style="normal" fill="#666" >R</text>
<text x="451.7" y="130.48" font-size="3.7" text-anchor="middle" font-weight="normal" font-style="normal" fill="#3a3a3a" >2</text>
<text x="458.5" y="130.48" font-size="3.7" text-anchor="middle" font-weight="normal" font-style="normal" fill="#3a3a3a" >17</text>
<text x="426.5" y="133.85" font-size="3" text-anchor="middle" font-weight="normal" font-style="normal" fill="#666" >D</text>
<text x="451.7" y="134" font-size="3.7" text-anchor="middle" font-weight="normal" font-style="normal" fill="#3a3a3a" >0</text>
<text x="458.5" y="134" font-size="3.7" text-anchor="middle" font-weight="normal" font-style="normal" fill="#3a3a3a" >0</text>
<text x="426.5" y="137.36" font-size="3" text-anchor="middle" font-weight="normal" font-style="normal" fill="#666" >R</text>
<text x="451.7" y="137.51" font-size="3.7" text-anchor="middle" font-weight="normal" font-style="normal" fill="#3a3a3a" >0</text>
<text x="458.5" y="137.51" font-size="3.7" text-anchor="middle" font-weight="normal" font-style="normal" fill="#3a3a3a" >0</text>
<text x="426.5" y="140.88" font-size="3" text-anchor="middle" font-weight="normal" font-style="normal" fill="#666" >D</text>
<text x="451.7" y="141.03" font-size="3.7" text-anchor="middle" font-weight="normal" font-style="normal" fill="#3a3a3a" >0</text>
<text x="458.5" y="141.03" font-size="3.7" text-anchor="middle" font-weight="normal" font-style="normal" fill="#3a3a3a" >0</text>
<text x="426.5" y="144.39" font-size="3" text-anchor="middle" font-weight="normal" font-style="normal" fill="#666" >R</text>
<text x="451.7" y="144.54" font-size="3.7" text-anchor="middle" font-weight="normal" font-style="normal" fill="#3a3a3a" >0</text>
<text x="458.5" y="144.54" font-size="3.7" text-anchor="middle" font-weight="normal" font-style="normal" fill="#3a3a3a" >0</text>
<text x="426.5" y="147.91" font-size="3" text-anchor="middle" font-weight="normal" font-style="normal" fill="#666" >D</text>
<text x="451.7" y="148.06" font-size="3.7" text-anchor="middle" font-weight="normal" font-style="normal" fill="#3a3a3a" >1</text>
<text x="458.5" y="148.06" font-size="3.7" text-anchor="middle" font-weight="normal" font-style="normal" fill="#3a3a3a" >8.3</text>
<text x="426.5" y="151.42" font-size="3" text-anchor="middle" font-weight="normal" font-style="normal" fill="#666" >R</text>
<text x="451.7" y="151.57" font-size="3.7" text-anchor="middle" font-weight="normal" font-style="normal" fill="#3a3a3a" >2</text>
<text x="458.5" y="151.57" font-size="3.7" text-anchor="middle" font-weight="normal" font-style="normal" fill="#3a3a3a" >17</text>
<text x="426.5" y="154.94" font-size="3" text-anchor="middle" font-weight="normal" font-style="normal" fill="#666" >D</text>
<text x="451.7" y="155.09" font-size="3.7" text-anchor="middle" font-weight="normal" font-style="normal" fill="#3a3a3a" >0</text>
<text x="458.5" y="155.09" font-size="3.7" text-anchor="middle" font-weight="normal" font-style="normal" fill="#3a3a3a" >0</text>
<text x="426.5" y="158.45" font-size="3" text-anchor="middle" font-weight="normal" font-style="normal" fill="#666" >R</text>
<text x="451.7" y="158.6" font-size="3.7" text-anchor="middle" font-weight="normal" font-style="normal" fill="#3a3a3a" >0</text>
<text x="458.5" y="158.6" font-size="3.7" text-anchor="middle" font-weight="normal" font-style="normal" fill="#3a3a3a" >0</text>
<text x="426.5" y="161.97" font-size="3" text-anchor="middle" font-weight="normal" font-style="normal" fill="#666" >D</text>
<text x="451.7" y="162.12" font-size="3.7" text-anchor="middle" font-weight="normal" font-style="normal" fill="#3a3a3a" >1</text>
<text x="458.5" y="162.12" font-size="3.7" text-anchor="middle" font-weight="normal" font-style="normal" fill="#3a3a3a" >8.3</text>
<text x="426.5" y="165.48" font-size="3" text-anchor="middle" font-weight="normal" font-style="normal" fill="#666" >R</text>
<text x="451.7" y="165.63" font-size="3.7" text-anchor="middle" font-weight="normal" font-style="normal" fill="#3a3a3a" >0</text>
<text x="458.5" y="165.63" font-size="3.7" text-anchor="middle" font-weight="normal" font-style="normal" fill="#3a3a3a" >0</text>
<text x="426.5" y="169" font-size="3" text-anchor="middle" font-weight="normal" font-style="normal" fill="#666" >D</text>
<text x="451.7" y="169.15" font-size="3.7" text-anchor="middle" font-weight="normal" font-style="normal" fill="#3a3a3a" >0</text>
<text x="458.5" y="169.15" font-size="3.7" text-anchor="middle" font-weight="normal" font-style="normal" fill="#3a3a3a" >0</text>
<text x="426.5" y="172.51" font-size="3" text-anchor="middle" font-weight="normal" font-style="normal" fill="#666" >R</text>
<text x="451.7" y="172.66" font-size="3.7" text-anchor="middle" font-weight="normal" font-style="normal" fill="#3a3a3a" >0</text>
<text x="458.5" y="172.66" font-size="3.7" text-anchor="middle" font-weight="normal" font-style="normal" fill="#3a3a3a" >0</text>
<text x="426.5" y="176.03" font-size="3" text-anchor="middle" font-weight="normal" font-style="normal" fill="#666" >D</text>
<text x="451.7" y="176.18" font-size="3.7" text-anchor="middle" font-weight="normal" font-style="normal" fill="#3a3a3a" >0</text>
<text x="458.5" y="176.18" font-size="3.7" text-anchor="middle" font-weight="normal" font-style="normal" fill="#3a3a3a" >0</text>
<text x="426.5" y="179.54" font-size="3" text-anchor="middle" font-weight="normal" font-style="normal" fill="#666" >R</text>
<text x="451.7" y="179.69" font-size="3.7" text-anchor="middle" font-weight="normal" font-style="normal" fill="#3a3a3a" >0</text>
<text x="458.5" y="179.69" font-size="3.7" text-anchor="middle" font-weight="normal" font-style="normal" fill="#3a3a3a" >0</text>
<text x="426.5" y="183.06" font-size="3" text-anchor="middle" font-weight="normal" font-style="normal" fill="#666" >D</text>
<text x="451.7" y="183.21" font-size="3.7" text-anchor="middle" font-weight="normal" font-style="normal" fill="#3a3a3a" >1</text>
<text x="458.5" y="183.21" font-size="3.7" text-anchor="middle" font-weight="normal" font-style="normal" fill="#3a3a3a" >8.3</text>
<text x="426.5" y="186.57" font-size="3" text-anchor="middle" font-weight="normal" font-style="normal" fill="#666" >R</text>
<text x="451.7" y="186.72" font-size="3.7" text-anchor="middle" font-weight="normal" font-style="normal" fill="#3a3a3a" >0</text>
<text x="458.5" y="186.72" font-size="3.7" text-anchor="middle" font-weight="normal" font-style="normal" fill="#3a3a3a" >0</text>
<text x="426.5" y="190.09" font-size="3" text-anchor="middle" font-weight="normal" font-style="normal" fill="#666" >D</text>
<text x="451.7" y="190.24" font-size="3.7" text-anchor="middle" font-weight="normal" font-style="normal" fill="#3a3a3a" >0</text>
<text x="458.5" y="190.24" font-size="3.7" text-anchor="middle" font-weight="normal" font-style="normal" fill="#3a3a3a" >0</text>
<text x="426.5" y="193.6" font-size="3" text-anchor="middle" font-weight="normal" font-style="normal" fill="#666" >R</text>
<text x="451.7" y="193.75" font-size="3.7" text-anchor="middle" font-weight="normal" font-style="normal" fill="#3a3a3a" >1</text>
<text x="458.5" y="193.75" font-size="3.7" text-anchor="middle" font-weight="normal" font-style="normal" fill="#3a3a3a" >8.3</text>
<text x="426.5" y="197.12" font-size="3" text-anchor="middle" font-weight="normal" font-style="normal" fill="#666" >D</text>
<text x="451.7" y="197.27" font-size="3.7" text-anchor="middle" font-weight="normal" font-style="normal" fill="#3a3a3a" >3</text>
<text x="458.5" y="197.27" font-size="3.7" text-anchor="middle" font-weight="normal" font-style="normal" fill="#3a3a3a" >25</text>
<text x="426.5" y="200.63" font-size="3" text-anchor="middle" font-weight="normal" font-style="normal" fill="#666" >R</text>
<text x="451.7" y="200.78" font-size="3.7" text-anchor="middle" font-weight="normal" font-style="normal" fill="#3a3a3a" >3</text>
<text x="458.5" y="200.78" font-size="3.7" text-anchor="middle" font-weight="normal" font-style="normal" fill="#3a3a3a" >25</text>
<text x="426.5" y="204.15" font-size="3" text-anchor="middle" font-weight="normal" font-style="normal" fill="#666" >D</text>
<text x="451.7" y="204.3" font-size="3.7" text-anchor="middle" font-weight="normal" font-style="normal" fill="#3a3a3a" >1</text>
<text x="458.5" y="204.3" font-size="3.7" text-anchor="middle" font-weight="normal" font-style="normal" fill="#3a3a3a" >8.3</text>
<text x="426.5" y="207.66" font-size="3" text-anchor="middle" font-weight="normal" font-style="normal" fill="#666" >R</text>
<text x="451.7" y="207.81" font-size="3.7" text-anchor="middle" font-weight="normal" font-style="normal" fill="#3a3a3a" >1</text>
<text x="458.5" y="207.81" font-size="3.7" text-anchor="middle" font-weight="normal" font-style="normal" fill="#3a3a3a" >8.3</text>
<text x="426.5" y="211.18" font-size="3" text-anchor="middle" font-weight="normal" font-style="normal" fill="#666" >D</text>
<text x="451.7" y="211.33" font-size="3.7" text-anchor="middle" font-weight="normal" font-style="normal" fill="#3a3a3a" >0</text>
<text x="458.5" y="211.33" font-size="3.7" text-anchor="middle" font-weight="normal" font-style="normal" fill="#3a3a3a" >0</text>
<text x="426.5" y="214.69" font-size="3" text-anchor="middle" font-weight="normal" font-style="normal" fill="#666" >R</text>
<text x="451.7" y="214.84" font-size="3.7" text-anchor="middle" font-weight="normal" font-style="normal" fill="#3a3a3a" >0</text>
<text x="458.5" y="214.84" font-size="3.7" text-anchor="middle" font-weight="normal" font-style="normal" fill="#3a3a3a" >0</text>
<text x="426.5" y="218.21" font-size="3" text-anchor="middle" font-weight="normal" font-style="normal" fill="#666" >D</text>
<text x="451.7" y="218.36" font-size="3.7" text-anchor="middle" font-weight="normal" font-style="normal" fill="#3a3a3a" >0</text>
<text x="458.5" y="218.36" font-size="3.7" text-anchor="middle" font-weight="normal" font-style="normal" fill="#3a3a3a" >0</text>
<text x="426.5" y="221.72" font-size="3" text-anchor="middle" font-weight="normal" font-style="normal" fill="#666" >R</text>
<text x="451.7" y="221.87" font-size="3.7" text-anchor="middle" font-weight="normal" font-style="normal" fill="#3a3a3a" >0</text>
<text x="458.5" y="221.87" font-size="3.7" text-anchor="middle" font-weight="normal" font-style="normal" fill="#3a3a3a" >0</text>
<text x="426.5" y="225.24" font-size="3" text-anchor="middle" font-weight="normal" font-style="normal" fill="#666" >D</text>
<text x="451.7" y="225.39" font-size="3.7" text-anchor="middle" font-weight="normal" font-style="normal" fill="#3a3a3a" >0</text>
<text x="458.5" y="225.39" font-size="3.7" text-anchor="middle" font-weight="normal" font-style="normal" fill="#3a3a3a" >0</text>
<text x="426.5" y="228.75" font-size="3" text-anchor="middle" font-weight="normal" font-style="normal" fill="#666" >R</text>
<text x="451.7" y="228.9" font-size="3.7" text-anchor="middle" font-weight="normal" font-style="normal" fill="#3a3a3a" >0</text>
<text x="458.5" y="228.9" font-size="3.7" text-anchor="middle" font-weight="normal" font-style="normal" fill="#3a3a3a" >0</text>
<text x="426.5" y="232.27" font-size="3" text-anchor="middle" font-weight="normal" font-style="normal" fill="#666" >D</text>
<text x="451.7" y="232.42" font-size="3.7" text-anchor="middle" font-weight="normal" font-style="normal" fill="#3a3a3a" >0</text>
<text x="458.5" y="232.42" font-size="3.7" text-anchor="middle" font-weight="normal" font-style="normal" fill="#3a3a3a" >0</text>
<text x="426.5" y="235.78" font-size="3" text-anchor="middle" font-weight="normal" font-style="normal" fill="#666" >R</text>
<text x="451.7" y="235.93" font-size="3.7" text-anchor="middle" font-weight="normal" font-style="normal" fill="#3a3a3a" >0</text>
<text x="458.5" y="235.93" font-size="3.7" text-anchor="middle" font-weight="normal" font-style="normal" fill="#3a3a3a" >0</text>
<text x="426.5" y="239.3" font-size="3" text-anchor="middle" font-weight="normal" font-style="normal" fill="#666" >D</text>
<text x="451.7" y="239.45" font-size="3.7" text-anchor="middle" font-weight="normal" font-style="normal" fill="#3a3a3a" >2</text>
<text x="458.5" y="239.45" font-size="3.7" text-anchor="middle" font-weight="normal" font-style="normal" fill="#3a3a3a" >17</text>
<text x="426.5" y="242.81" font-size="3" text-anchor="middle" font-weight="normal" font-style="normal" fill="#666" >R</text>
<text x="451.7" y="242.96" font-size="3.7" text-anchor="middle" font-weight="normal" font-style="normal" fill="#3a3a3a" >2</text>
<text x="458.5" y="242.96" font-size="3.7" text-anchor="middle" font-weight="normal" font-style="normal" fill="#3a3a3a" >17</text>
<text x="426.5" y="246.33" font-size="3" text-anchor="middle" font-weight="normal" font-style="normal" fill="#666" >D</text>
<text x="451.7" y="246.48" font-size="3.7" text-anchor="middle" font-weight="normal" font-style="normal" fill="#3a3a3a" >0</text>
<text x="458.5" y="246.48" font-size="3.7" text-anchor="middle" font-weight="normal" font-style="normal" fill="#3a3a3a" >0</text>
<text x="426.5" y="249.84" font-size="3" text-anchor="middle" font-weight="normal" font-style="normal" fill="#666" >R</text>
<text x="451.7" y="249.99" font-size="3.7" text-anchor="middle" font-weight="normal" font-style="normal" fill="#3a3a3a" >0</text>
<text x="458.5" y="249.99" font-size="3.7" text-anchor="middle" font-weight="normal" font-style="normal" fill="#3a3a3a" >0</text>
<text x="426.5" y="253.36" font-size="3" text-anchor="middle" font-weight="normal" font-style="normal" fill="#666" >D</text>
<text x="451.7" y="253.51" font-size="3.7" text-anchor="middle" font-weight="normal" font-style="normal" fill="#3a3a3a" >1</text>
<text x="458.5" y="253.51" font-size="3.7" text-anchor="middle" font-weight="normal" font-style="normal" fill="#3a3a3a" >8.3</text>
<text x="426.5" y="256.87" font-size="3" text-anchor="middle" font-weight="normal" font-style="normal" fill="#666" >R</text>
<text x="451.7" y="257.02" font-size="3.7" text-anchor="middle" font-weight="normal" font-style="normal" fill="#3a3a3a" >1</text>
<text x="458.5" y="257.02" font-size="3.7" text-anchor="middle" font-weight="normal" font-style="normal" fill="#3a3a3a" >8.3</text>
<text x="426.5" y="260.39" font-size="3" text-anchor="middle" font-weight="normal" font-style="normal" fill="#666" >D</text>
<text x="451.7" y="260.54" font-size="3.7" text-anchor="middle" font-weight="normal" font-style="normal" fill="#3a3a3a" >0</text>
<text x="458.5" y="260.54" font-size="3.7" text-anchor="middle" font-weight="normal" font-style="normal" fill="#3a3a3a" >0</text>
<text x="426.5" y="263.9" font-size="3" text-anchor="middle" font-weight="normal" font-style="normal" fill="#666" >R</text>
<text x="451.7" y="264.05" font-size="3.7" text-anchor="middle" font-weight="normal" font-style="normal" fill="#3a3a3a" >0</text>
<text x="458.5" y="264.05" font-size="3.7" text-anchor="middle" font-weight="normal" font-style="normal" fill="#3a3a3a" >0</text>
<text x="426.5" y="267.42" font-size="3" text-anchor="middle" font-weight="normal" font-style="normal" fill="#666" >D</text>
<text x="451.7" y="267.57" font-size="3.7" text-anchor="middle" font-weight="normal" font-style="normal" fill="#3a3a3a" >0</text>
<text x="458.5" y="267.57" font-size="3.7" text-anchor="middle" font-weight="normal" font-style="normal" fill="#3a3a3a" >0</text>
<text x="426.5" y="270.93" font-size="3" text-anchor="middle" font-weight="normal" font-style="normal" fill="#666" >R</text>
<text x="451.7" y="271.08" font-size="3.7" text-anchor="middle" font-weight="normal" font-style="normal" fill="#3a3a3a" >0</text>
<text x="458.5" y="271.08" font-size="3.7" text-anchor="middle" font-weight="normal" font-style="normal" fill="#3a3a3a" >0</text>
<text x="426.5" y="274.45" font-size="3" text-anchor="middle" font-weight="normal" font-style="normal" fill="#666" >D</text>
<text x="451.7" y="274.6" font-size="3.7" text-anchor="middle" font-weight="normal" font-style="normal" fill="#3a3a3a" >1</text>
<text x="458.5" y="274.6" font-size="3.7" text-anchor="middle" font-weight="normal" font-style="normal" fill="#3a3a3a" >8.3</text>
<text x="426.5" y="277.96" font-size="3" text-anchor="middle" font-weight="normal" font-style="normal" fill="#666" >R</text>
<text x="451.7" y="278.11" font-size="3.7" text-anchor="middle" font-weight="normal" font-style="normal" fill="#3a3a3a" >0</text>
<text x="458.5" y="278.11" font-size="3.7" text-anchor="middle" font-weight="normal" font-style="normal" fill="#3a3a3a" >0</text>
<text x="426.5" y="281.48" font-size="3" text-anchor="middle" font-weight="normal" font-style="normal" fill="#666" >D</text>
<text x="451.7" y="281.63" font-size="3.7" text-anchor="middle" font-weight="normal" font-style="normal" fill="#3a3a3a" >0</text>
<text x="458.5" y="281.63" font-size="3.7" text-anchor="middle" font-weight="normal" font-style="normal" fill="#3a3a3a" >0</text>
<text x="426.5" y="284.99" font-size="3" text-anchor="middle" font-weight="normal" font-style="normal" fill="#666" >R</text>
<text x="451.7" y="285.14" font-size="3.7" text-anchor="middle" font-weight="normal" font-style="normal" fill="#3a3a3a" >0</text>
<text x="458.5" y="285.14" font-size="3.7" text-anchor="middle" font-weight="normal" font-style="normal" fill="#3a3a3a" >0</text>
<text x="426.5" y="288.51" font-size="3" text-anchor="middle" font-weight="normal" font-style="normal" fill="#666" >D</text>
<text x="451.7" y="288.66" font-size="3.7" text-anchor="middle" font-weight="normal" font-style="normal" fill="#3a3a3a" >0</text>
<text x="458.5" y="288.66" font-size="3.7" text-anchor="middle" font-weight="normal" font-style="normal" fill="#3a3a3a" >0</text>
<text x="426.5" y="292.02" font-size="3" text-anchor="middle" font-weight="normal" font-style="normal" fill="#666" >R</text>
<text x="451.7" y="292.17" font-size="3.7" text-anchor="middle" font-weight="normal" font-style="normal" fill="#3a3a3a" >0</text>
<text x="458.5" y="292.17" font-size="3.7" text-anchor="middle" font-weight="normal" font-style="normal" fill="#3a3a3a" >0</text>
<text x="426.5" y="295.54" font-size="3" text-anchor="middle" font-weight="normal" font-style="normal" fill="#666" >D</text>
<text x="451.7" y="295.69" font-size="3.7" text-anchor="middle" font-weight="normal" font-style="normal" fill="#3a3a3a" >0</text>
<text x="458.5" y="295.69" font-size="3.7" text-anchor="middle" font-weight="normal" font-style="normal" fill="#3a3a3a" >0</text>
<text x="426.5" y="299.05" font-size="3" text-anchor="middle" font-weight="normal" font-style="normal" fill="#666" >R</text>
<text x="451.7" y="299.2" font-size="3.7" text-anchor="middle" font-weight="normal" font-style="normal" fill="#3a3a3a" >0</text>
<text x="458.5" y="299.2" font-size="3.7" text-anchor="middle" font-weight="normal" font-style="normal" fill="#3a3a3a" >0</text>
<text x="426.5" y="302.57" font-size="3" text-anchor="middle" font-weight="normal" font-style="normal" fill="#666" >D</text>
<text x="451.7" y="302.72" font-size="3.7" text-anchor="middle" font-weight="normal" font-style="normal" fill="#3a3a3a" >1</text>
<text x="458.5" y="302.72" font-size="3.7" text-anchor="middle" font-weight="normal" font-style="normal" fill="#3a3a3a" >8.3</text>
<text x="426.5" y="306.08" font-size="3" text-anchor="middle" font-weight="normal" font-style="normal" fill="#666" >R</text>
<text x="451.7" y="306.23" font-size="3.7" text-anchor="middle" font-weight="normal" font-style="normal" fill="#3a3a3a" >0</text>
<text x="458.5" y="306.23" font-size="3.7" text-anchor="middle" font-weight="normal" font-style="normal" fill="#3a3a3a" >0</text>
<text x="426.5" y="309.6" font-size="3" text-anchor="middle" font-weight="normal" font-style="normal" fill="#666" >D</text>
<text x="451.7" y="309.75" font-size="3.7" text-anchor="middle" font-weight="normal" font-style="normal" fill="#3a3a3a" >0</text>
<text x="458.5" y="309.75" font-size="3.7" text-anchor="middle" font-weight="normal" font-style="normal" fill="#3a3a3a" >0</text>
<text x="426.5" y="313.11" font-size="3" text-anchor="middle" font-weight="normal" font-style="normal" fill="#666" >R</text>
<text x="451.7" y="313.26" font-size="3.7" text-anchor="middle" font-weight="normal" font-style="normal" fill="#3a3a3a" >0</text>
<text x="458.5" y="313.26" font-size="3.7" text-anchor="middle" font-weight="normal" font-style="normal" fill="#3a3a3a" >0</text>
<text x="426.5" y="316.63" font-size="3" text-anchor="middle" font-weight="normal" font-style="normal" fill="#666" >D</text>
<text x="451.7" y="316.78" font-size="3.7" text-anchor="middle" font-weight="normal" font-style="normal" fill="#3a3a3a" >1</text>
<text x="458.5" y="316.78" font-size="3.7" text-anchor="middle" font-weight="normal" font-style="normal" fill="#3a3a3a" >8.3</text>
<text x="426.5" y="320.14" font-size="3" text-anchor="middle" font-weight="normal" font-style="normal" fill="#666" >R</text>
<text x="451.7" y="320.29" font-size="3.7" text-anchor="middle" font-weight="normal" font-style="normal" fill="#3a3a3a" >0</text>
<text x="458.5" y="320.29" font-size="3.7" text-anchor="middle" font-weight="normal" font-style="normal" fill="#3a3a3a" >0</text>
<text x="426.5" y="323.66" font-size="3" text-anchor="middle" font-weight="normal" font-style="normal" fill="#666" >D</text>
<text x="451.7" y="323.81" font-size="3.7" text-anchor="middle" font-weight="normal" font-style="normal" fill="#3a3a3a" >0</text>
<text x="458.5" y="323.81" font-size="3.7" text-anchor="middle" font-weight="normal" font-style="normal" fill="#3a3a3a" >0</text>
<text x="426.5" y="327.17" font-size="3" text-anchor="middle" font-weight="normal" font-style="normal" fill="#666" >R</text>
<text x="451.7" y="327.32" font-size="3.7" text-anchor="middle" font-weight="normal" font-style="normal" fill="#3a3a3a" >0</text>
<text x="458.5" y="327.32" font-size="3.7" text-anchor="middle" font-weight="normal" font-style="normal" fill="#3a3a3a" >0</text>
<text x="426.5" y="330.69" font-size="3" text-anchor="middle" font-weight="normal" font-style="normal" fill="#666" >D</text>
<text x="451.7" y="330.84" font-size="3.7" text-anchor="middle" font-weight="normal" font-style="normal" fill="#3a3a3a" >0</text>
<text x="458.5" y="330.84" font-size="3.7" text-anchor="middle" font-weight="normal" font-style="normal" fill="#3a3a3a" >0</text>
<text x="426.5" y="334.2" font-size="3" text-anchor="middle" font-weight="normal" font-style="normal" fill="#666" >R</text>
<text x="451.7" y="334.35" font-size="3.7" text-anchor="middle" font-weight="normal" font-style="normal" fill="#3a3a3a" >0</text>
<text x="458.5" y="334.35" font-size="3.7" text-anchor="middle" font-weight="normal" font-style="normal" fill="#3a3a3a" >0</text>
<text x="426.5" y="337.72" font-size="3" text-anchor="middle" font-weight="normal" font-style="normal" fill="#666" >D</text>
<text x="451.7" y="337.87" font-size="3.7" text-anchor="middle" font-weight="normal" font-style="normal" fill="#3a3a3a" >1</text>
<text x="458.5" y="337.87" font-size="3.7" text-anchor="middle" font-weight="normal" font-style="normal" fill="#3a3a3a" >8.3</text>
<text x="426.5" y="341.23" font-size="3" text-anchor="middle" font-weight="normal" font-style="normal" fill="#666" >R</text>
<text x="451.7" y="341.38" font-size="3.7" text-anchor="middle" font-weight="normal" font-style="normal" fill="#3a3a3a" >1</text>
<text x="458.5" y="341.38" font-size="3.7" text-anchor="middle" font-weight="normal" font-style="normal" fill="#3a3a3a" >8.3</text>
<text x="426.5" y="344.75" font-size="3" text-anchor="middle" font-weight="normal" font-style="normal" fill="#666" >D</text>
<text x="451.7" y="344.9" font-size="3.7" text-anchor="middle" font-weight="normal" font-style="normal" fill="#3a3a3a" >0</text>
<text x="458.5" y="344.9" font-size="3.7" text-anchor="middle" font-weight="normal" font-style="normal" fill="#3a3a3a" >0</text>
<text x="426.5" y="348.26" font-size="3" text-anchor="middle" font-weight="normal" font-style="normal" fill="#666" >R</text>
<text x="451.7" y="348.41" font-size="3.7" text-anchor="middle" font-weight="normal" font-style="normal" fill="#3a3a3a" >0</text>
<text x="458.5" y="348.41" font-size="3.7" text-anchor="middle" font-weight="normal" font-style="normal" fill="#3a3a3a" >0</text>
<text x="451.7" y="37.4" font-size="3.7" text-anchor="middle" font-weight="normal" font-style="normal" fill="#3a3a3a" >n</text>
<text x="458.5" y="37.4" font-size="3.7" text-anchor="middle" font-weight="normal" font-style="normal" fill="#3a3a3a" >%</text>
<text x="422.7" y="28.8" font-size="5.6" text-anchor="middle" font-weight="normal" font-style="normal" fill="#222" >ICT + MIDO</text>
<text x="423.2" y="35.2" font-size="5.6" text-anchor="middle" font-weight="normal" font-style="normal" fill="#222" >(n = 12)</text>
<rect x="468" y="39.6" width="29.88" height="309.32" fill="#fefefe"/>
<rect x="468" y="39.55" width="26.56" height="3.62" fill="#9fb57e"/>
<rect x="494.56" y="39.55" width="3.32" height="3.62" fill="#3598c8"/>
<rect x="468" y="43.07" width="26.56" height="3.62" fill="#9fb57e"/>
<rect x="468" y="46.58" width="1.66" height="3.62" fill="#3598c8"/>
<rect x="479.62" y="46.58" width="1.66" height="3.62" fill="#3598c8"/>
<rect x="494.56" y="46.58" width="1.66" height="3.62" fill="#3598c8"/>
<rect x="482.94" y="50.1" width="1.66" height="3.62" fill="#9b1b30"/>
<rect x="468" y="53.61" width="6.64" height="3.62" fill="#9fb57e"/>
<rect x="494.56" y="53.61" width="1.66" height="3.62" fill="#3598c8"/>
<rect x="468" y="57.13" width="6.64" height="3.62" fill="#9fb57e"/>
<rect x="468" y="60.64" width="6.64" height="3.62" fill="#9fb57e"/>
<rect x="468" y="64.16" width="6.64" height="3.62" fill="#9fb57e"/>
<rect x="486.26" y="64.16" width="1.66" height="3.62" fill="#9b1b30"/>
<rect x="492.9" y="67.67" width="3.32" height="3.62" fill="#9fb57e"/>
<rect x="471.32" y="71.19" width="1.66" height="3.62" fill="#9b1b30"/>
<rect x="492.9" y="71.19" width="3.32" height="3.62" fill="#9fb57e"/>
<rect x="477.96" y="74.7" width="1.66" height="3.62" fill="#3598c8"/>
<rect x="481.28" y="81.73" width="1.66" height="3.62" fill="#9fb57e"/>
<rect x="481.28" y="85.25" width="1.66" height="3.62" fill="#9fb57e"/>
<rect x="468" y="88.76" width="1.66" height="3.62" fill="#9fb57e"/>
<rect x="471.32" y="88.76" width="1.66" height="3.62" fill="#9fb57e"/>
<rect x="474.64" y="88.76" width="1.66" height="3.62" fill="#9fb57e"/>
<rect x="479.62" y="88.76" width="1.66" height="3.62" fill="#9fb57e"/>
<rect x="491.24" y="88.76" width="1.66" height="3.62" fill="#3598c8"/>
<rect x="496.22" y="88.76" width="1.66" height="3.62" fill="#9fb57e"/>
<rect x="468" y="92.28" width="1.66" height="3.62" fill="#9fb57e"/>
<rect x="471.32" y="92.28" width="1.66" height="3.62" fill="#9fb57e"/>
<rect x="474.64" y="92.28" width="1.66" height="3.62" fill="#9fb57e"/>
<rect x="479.62" y="92.28" width="1.66" height="3.62" fill="#9fb57e"/>
<rect x="484.6" y="92.28" width="1.66" height="3.62" fill="#9b1b30"/>
<rect x="496.22" y="92.28" width="1.66" height="3.62" fill="#9fb57e"/>
<rect x="489.58" y="120.4" width="1.66" height="3.62" fill="#9b1b30"/>
<rect x="468" y="123.91" width="1.66" height="3.62" fill="#3598c8"/>
<rect x="479.62" y="123.91" width="1.66" height="3.62" fill="#9fb57e"/>
<rect x="496.22" y="123.91" width="1.66" height="3.62" fill="#9fb57e"/>
<rect x="479.62" y="127.43" width="1.66" height="3.62" fill="#9fb57e"/>
<rect x="496.22" y="127.43" width="1.66" height="3.62" fill="#9fb57e"/>
<rect x="471.32" y="130.94" width="1.66" height="3.62" fill="#3598c8"/>
<rect x="472.98" y="130.94" width="1.66" height="3.62" fill="#9fb57e"/>
<rect x="472.98" y="134.45" width="1.66" height="3.62" fill="#9fb57e"/>
<rect x="496.22" y="137.97" width="1.66" height="3.62" fill="#3598c8"/>
<rect x="481.28" y="145" width="1.66" height="3.62" fill="#3598c8"/>
<rect x="469.66" y="152.03" width="1.66" height="3.62" fill="#3598c8"/>
<rect x="479.62" y="152.03" width="1.66" height="3.62" fill="#3598c8"/>
<rect x="491.24" y="159.06" width="1.66" height="3.62" fill="#9fb57e"/>
<rect x="491.24" y="162.57" width="1.66" height="3.62" fill="#9fb57e"/>
<rect x="479.62" y="166.09" width="1.66" height="3.62" fill="#3598c8"/>
<rect x="481.28" y="194.21" width="1.66" height="3.62" fill="#9fb57e"/>
<rect x="489.58" y="194.21" width="1.66" height="3.62" fill="#9fb57e"/>
<rect x="492.9" y="194.21" width="1.66" height="3.62" fill="#9fb57e"/>
<rect x="481.28" y="197.72" width="1.66" height="3.62" fill="#9fb57e"/>
<rect x="489.58" y="197.72" width="1.66" height="3.62" fill="#9fb57e"/>
<rect x="492.9" y="197.72" width="1.66" height="3.62" fill="#9fb57e"/>
<rect x="469.66" y="201.24" width="1.66" height="3.62" fill="#3598c8"/>
<rect x="486.26" y="204.75" width="1.66" height="3.62" fill="#9b1b30"/>
<rect x="477.96" y="222.33" width="1.66" height="3.62" fill="#3598c8"/>
<rect x="491.24" y="229.36" width="1.66" height="3.62" fill="#9fb57e"/>
<rect x="491.24" y="232.87" width="1.66" height="3.62" fill="#9fb57e"/>
<rect x="489.58" y="236.39" width="1.66" height="3.62" fill="#3598c8"/>
<rect x="481.28" y="250.45" width="1.66" height="3.62" fill="#9fb57e"/>
<rect x="481.28" y="253.96" width="1.66" height="3.62" fill="#9fb57e"/>
<rect x="489.58" y="299.66" width="1.66" height="3.62" fill="#9fb57e"/>
<rect x="492.9" y="299.66" width="3.32" height="3.62" fill="#9fb57e"/>
<rect x="489.58" y="303.18" width="1.66" height="3.62" fill="#9fb57e"/>
<rect x="492.9" y="303.18" width="3.32" height="3.62" fill="#9fb57e"/>
<rect x="481.28" y="306.69" width="1.66" height="3.62" fill="#9fb57e"/>
<rect x="481.28" y="310.2" width="1.66" height="3.62" fill="#9fb57e"/>
<rect x="479.62" y="327.78" width="1.66" height="3.62" fill="#9fb57e"/>
<rect x="484.6" y="327.78" width="1.66" height="3.62" fill="#9fb57e"/>
<rect x="487.92" y="327.78" width="1.66" height="3.62" fill="#9fb57e"/>
<rect x="479.62" y="331.3" width="1.66" height="3.62" fill="#9fb57e"/>
<rect x="484.6" y="331.3" width="1.66" height="3.62" fill="#9fb57e"/>
<rect x="487.92" y="331.3" width="1.66" height="3.62" fill="#9fb57e"/>
<path d="M468 39.6V348.92M469.66 39.6V348.92M471.32 39.6V348.92M472.98 39.6V348.92M474.64 39.6V348.92M476.3 39.6V348.92M477.96 39.6V348.92M479.62 39.6V348.92M481.28 39.6V348.92M482.94 39.6V348.92M484.6 39.6V348.92M486.26 39.6V348.92M487.92 39.6V348.92M489.58 39.6V348.92M491.24 39.6V348.92M492.9 39.6V348.92M494.56 39.6V348.92M496.22 39.6V348.92M497.88 39.6V348.92" stroke="#000" stroke-opacity="0.19" stroke-width="0.42" fill="none"/>
<path d="M468 39.6H497.88M468 43.12H497.88M468 46.63H497.88M468 50.15H497.88M468 53.66H497.88M468 57.17H497.88M468 60.69H497.88M468 64.2H497.88M468 67.72H497.88M468 71.23H497.88M468 74.75H497.88M468 78.27H497.88M468 81.78H497.88M468 85.3H497.88M468 88.81H497.88M468 92.33H497.88M468 95.84H497.88M468 99.36H497.88M468 102.87H497.88M468 106.38H497.88M468 109.9H497.88M468 113.41H497.88M468 116.93H497.88M468 120.44H497.88M468 123.96H497.88M468 127.47H497.88M468 130.99H497.88M468 134.5H497.88M468 138.02H497.88M468 141.53H497.88M468 145.05H497.88M468 148.56H497.88M468 152.08H497.88M468 155.59H497.88M468 159.11H497.88M468 162.62H497.88M468 166.14H497.88M468 169.66H497.88M468 173.17H497.88M468 176.69H497.88M468 180.2H497.88M468 183.72H497.88M468 187.23H497.88M468 190.75H497.88M468 194.26H497.88M468 197.78H497.88M468 201.29H497.88M468 204.81H497.88M468 208.32H497.88M468 211.84H497.88M468 215.35H497.88M468 218.87H497.88M468 222.38H497.88M468 225.9H497.88M468 229.41H497.88M468 232.93H497.88M468 236.44H497.88M468 239.96H497.88M468 243.47H497.88M468 246.99H497.88M468 250.5H497.88M468 254.02H497.88M468 257.53H497.88M468 261.05H497.88M468 264.56H497.88M468 268.07H497.88M468 271.59H497.88M468 275.11H497.88M468 278.62H497.88M468 282.13H497.88M468 285.65H497.88M468 289.17H497.88M468 292.68H497.88M468 296.2H497.88M468 299.71H497.88M468 303.23H497.88M468 306.74H497.88M468 310.26H497.88M468 313.77H497.88M468 317.29H497.88M468 320.8H497.88M468 324.32H497.88M468 327.83H497.88M468 331.35H497.88M468 334.86H497.88M468 338.38H497.88M468 341.89H497.88M468 345.41H497.88M468 348.92H497.88" stroke="#000" stroke-opacity="0.25" stroke-width="0.45" fill="none"/>
<text x="466" y="42.46" font-size="3" text-anchor="middle" font-weight="normal" font-style="normal" fill="#666" >D</text>
<text x="501.7" y="42.61" font-size="3.7" text-anchor="middle" font-weight="normal" font-style="normal" fill="#3a3a3a" >18</text>
<text x="508.3" y="42.61" font-size="3.7" text-anchor="middle" font-weight="normal" font-style="normal" fill="#3a3a3a" >100</text>
<text x="466" y="45.97" font-size="3" text-anchor="middle" font-weight="normal" font-style="normal" fill="#666" >R</text>
<text x="501.7" y="46.12" font-size="3.7" text-anchor="middle" font-weight="normal" font-style="normal" fill="#3a3a3a" >16</text>
<text x="508.3" y="46.12" font-size="3.7" text-anchor="middle" font-weight="normal" font-style="normal" fill="#3a3a3a" >89</text>
<text x="466" y="49.49" font-size="3" text-anchor="middle" font-weight="normal" font-style="normal" fill="#666" >D</text>
<text x="501.7" y="49.64" font-size="3.7" text-anchor="middle" font-weight="normal" font-style="normal" fill="#3a3a3a" >3</text>
<text x="508.3" y="49.64" font-size="3.7" text-anchor="middle" font-weight="normal" font-style="normal" fill="#3a3a3a" >17</text>
<text x="466" y="53" font-size="3" text-anchor="middle" font-weight="normal" font-style="normal" fill="#666" >R</text>
<text x="501.7" y="53.15" font-size="3.7" text-anchor="middle" font-weight="normal" font-style="normal" fill="#3a3a3a" >1</text>
<text x="508.3" y="53.15" font-size="3.7" text-anchor="middle" font-weight="normal" font-style="normal" fill="#3a3a3a" >5.6</text>
<text x="466" y="56.52" font-size="3" text-anchor="middle" font-weight="normal" font-style="normal" fill="#666" >D</text>
<text x="501.7" y="56.67" font-size="3.7" text-anchor="middle" font-weight="normal" font-style="normal" fill="#3a3a3a" >5</text>
<text x="508.3" y="56.67" font-size="3.7" text-anchor="middle" font-weight="normal" font-style="normal" fill="#3a3a3a" >28</text>
<text x="466" y="60.03" font-size="3" text-anchor="middle" font-weight="normal" font-style="normal" fill="#666" >R</text>
<text x="501.7" y="60.18" font-size="3.7" text-anchor="middle" font-weight="normal" font-style="normal" fill="#3a3a3a" >4</text>
<text x="508.3" y="60.18" font-size="3.7" text-anchor="middle" font-weight="normal" font-style="normal" fill="#3a3a3a" >22</text>
<text x="466" y="63.55" font-size="3" text-anchor="middle" font-weight="normal" font-style="normal" fill="#666" >D</text>
<text x="501.7" y="63.7" font-size="3.7" text-anchor="middle" font-weight="normal" font-style="normal" fill="#3a3a3a" >4</text>
<text x="508.3" y="63.7" font-size="3.7" text-anchor="middle" font-weight="normal" font-style="normal" fill="#3a3a3a" >22</text>
<text x="466" y="67.06" font-size="3" text-anchor="middle" font-weight="normal" font-style="normal" fill="#666" >R</text>
<text x="501.7" y="67.21" font-size="3.7" text-anchor="middle" font-weight="normal" font-style="normal" fill="#3a3a3a" >5</text>
<text x="508.3" y="67.21" font-size="3.7" text-anchor="middle" font-weight="normal" font-style="normal" fill="#3a3a3a" >28</text>
<text x="466" y="70.58" font-size="3" text-anchor="middle" font-weight="normal" font-style="normal" fill="#666" >D</text>
<text x="501.7" y="70.73" font-size="3.7" text-anchor="middle" font-weight="normal" font-style="normal" fill="#3a3a3a" >2</text>
<text x="508.3" y="70.73" font-size="3.7" text-anchor="middle" font-weight="normal" font-style="normal" fill="#3a3a3a" >11</text>
<text x="466" y="74.09" font-size="3" text-anchor="middle" font-weight="normal" font-style="normal" fill="#666" >R</text>
<text x="501.7" y="74.24" font-size="3.7" text-anchor="middle" font-weight="normal" font-style="normal" fill="#3a3a3a" >3</text>
<text x="508.3" y="74.24" font-size="3.7" text-anchor="middle" font-weight="normal" font-style="normal" fill="#3a3a3a" >17</text>
<text x="466" y="77.61" font-size="3" text-anchor="middle" font-weight="normal" font-style="normal" fill="#666" >D</text>
<text x="501.7" y="77.76" font-size="3.7" text-anchor="middle" font-weight="normal" font-style="normal" fill="#3a3a3a" >1</text>
<text x="508.3" y="77.76" font-size="3.7" text-anchor="middle" font-weight="normal" font-style="normal" fill="#3a3a3a" >5.6</text>
<text x="466" y="81.12" font-size="3" text-anchor="middle" font-weight="normal" font-style="normal" fill="#666" >R</text>
<text x="501.7" y="81.27" font-size="3.7" text-anchor="middle" font-weight="normal" font-style="normal" fill="#3a3a3a" >0</text>
<text x="508.3" y="81.27" font-size="3.7" text-anchor="middle" font-weight="normal" font-style="normal" fill="#3a3a3a" >0</text>
<text x="466" y="84.64" font-size="3" text-anchor="middle" font-weight="normal" font-style="normal" fill="#666" >D</text>
<text x="501.7" y="84.79" font-size="3.7" text-anchor="middle" font-weight="normal" font-style="normal" fill="#3a3a3a" >1</text>
<text x="508.3" y="84.79" font-size="3.7" text-anchor="middle" font-weight="normal" font-style="normal" fill="#3a3a3a" >5.6</text>
<text x="466" y="88.15" font-size="3" text-anchor="middle" font-weight="normal" font-style="normal" fill="#666" >R</text>
<text x="501.7" y="88.3" font-size="3.7" text-anchor="middle" font-weight="normal" font-style="normal" fill="#3a3a3a" >1</text>
<text x="508.3" y="88.3" font-size="3.7" text-anchor="middle" font-weight="normal" font-style="normal" fill="#3a3a3a" >5.6</text>
<text x="466" y="91.67" font-size="3" text-anchor="middle" font-weight="normal" font-style="normal" fill="#666" >D</text>
<text x="501.7" y="91.82" font-size="3.7" text-anchor="middle" font-weight="normal" font-style="normal" fill="#3a3a3a" >6</text>
<text x="508.3" y="91.82" font-size="3.7" text-anchor="middle" font-weight="normal" font-style="normal" fill="#3a3a3a" >33</text>
<text x="466" y="95.18" font-size="3" text-anchor="middle" font-weight="normal" font-style="normal" fill="#666" >R</text>
<text x="501.7" y="95.33" font-size="3.7" text-anchor="middle" font-weight="normal" font-style="normal" fill="#3a3a3a" >6</text>
<text x="508.3" y="95.33" font-size="3.7" text-anchor="middle" font-weight="normal" font-style="normal" fill="#3a3a3a" >33</text>
<text x="466" y="98.7" font-size="3" text-anchor="middle" font-weight="normal" font-style="normal" fill="#666" >D</text>
<text x="501.7" y="98.85" font-size="3.7" text-anchor="middle" font-weight="normal" font-style="normal" fill="#3a3a3a" >0</text>
<text x="508.3" y="98.85" font-size="3.7" text-anchor="middle" font-weight="normal" font-style="normal" fill="#3a3a3a" >0</text>
<text x="466" y="102.21" font-size="3" text-anchor="middle" font-weight="normal" font-style="normal" fill="#666" >R</text>
<text x="501.7" y="102.36" font-size="3.7" text-anchor="middle" font-weight="normal" font-style="normal" fill="#3a3a3a" >0</text>
<text x="508.3" y="102.36" font-size="3.7" text-anchor="middle" font-weight="normal" font-style="normal" fill="#3a3a3a" >0</text>
<text x="466" y="105.73" font-size="3" text-anchor="middle" font-weight="normal" font-style="normal" fill="#666" >D</text>
<text x="501.7" y="105.88" font-size="3.7" text-anchor="middle" font-weight="normal" font-style="normal" fill="#3a3a3a" >0</text>
<text x="508.3" y="105.88" font-size="3.7" text-anchor="middle" font-weight="normal" font-style="normal" fill="#3a3a3a" >0</text>
<text x="466" y="109.24" font-size="3" text-anchor="middle" font-weight="normal" font-style="normal" fill="#666" >R</text>
<text x="501.7" y="109.39" font-size="3.7" text-anchor="middle" font-weight="normal" font-style="normal" fill="#3a3a3a" >0</text>
<text x="508.3" y="109.39" font-size="3.7" text-anchor="middle" font-weight="normal" font-style="normal" fill="#3a3a3a" >0</text>
<text x="466" y="112.76" font-size="3" text-anchor="middle" font-weight="normal" font-style="normal" fill="#666" >D</text>
<text x="501.7" y="112.91" font-size="3.7" text-anchor="middle" font-weight="normal" font-style="normal" fill="#3a3a3a" >0</text>
<text x="508.3" y="112.91" font-size="3.7" text-anchor="middle" font-weight="normal" font-style="normal" fill="#3a3a3a" >0</text>
<text x="466" y="116.27" font-size="3" text-anchor="middle" font-weight="normal" font-style="normal" fill="#666" >R</text>
<text x="501.7" y="116.42" font-size="3.7" text-anchor="middle" font-weight="normal" font-style="normal" fill="#3a3a3a" >0</text>
<text x="508.3" y="116.42" font-size="3.7" text-anchor="middle" font-weight="normal" font-style="normal" fill="#3a3a3a" >0</text>
<text x="466" y="119.79" font-size="3" text-anchor="middle" font-weight="normal" font-style="normal" fill="#666" >D</text>
<text x="501.7" y="119.94" font-size="3.7" text-anchor="middle" font-weight="normal" font-style="normal" fill="#3a3a3a" >0</text>
<text x="508.3" y="119.94" font-size="3.7" text-anchor="middle" font-weight="normal" font-style="normal" fill="#3a3a3a" >0</text>
<text x="466" y="123.3" font-size="3" text-anchor="middle" font-weight="normal" font-style="normal" fill="#666" >R</text>
<text x="501.7" y="123.45" font-size="3.7" text-anchor="middle" font-weight="normal" font-style="normal" fill="#3a3a3a" >1</text>
<text x="508.3" y="123.45" font-size="3.7" text-anchor="middle" font-weight="normal" font-style="normal" fill="#3a3a3a" >5.6</text>
<text x="466" y="126.82" font-size="3" text-anchor="middle" font-weight="normal" font-style="normal" fill="#666" >D</text>
<text x="501.7" y="126.97" font-size="3.7" text-anchor="middle" font-weight="normal" font-style="normal" fill="#3a3a3a" >3</text>
<text x="508.3" y="126.97" font-size="3.7" text-anchor="middle" font-weight="normal" font-style="normal" fill="#3a3a3a" >17</text>
<text x="466" y="130.33" font-size="3" text-anchor="middle" font-weight="normal" font-style="normal" fill="#666" >R</text>
<text x="501.7" y="130.48" font-size="3.7" text-anchor="middle" font-weight="normal" font-style="normal" fill="#3a3a3a" >2</text>
<text x="508.3" y="130.48" font-size="3.7" text-anchor="middle" font-weight="normal" font-style="normal" fill="#3a3a3a" >11</text>
<text x="466" y="133.85" font-size="3" text-anchor="middle" font-weight="normal" font-style="normal" fill="#666" >D</text>
<text x="501.7" y="134" font-size="3.7" text-anchor="middle" font-weight="normal" font-style="normal" fill="#3a3a3a" >2</text>
<text x="508.3" y="134" font-size="3.7" text-anchor="middle" font-weight="normal" font-style="normal" fill="#3a3a3a" >11</text>
<text x="466" y="137.36" font-size="3" text-anchor="middle" font-weight="normal" font-style="normal" fill="#666" >R</text>
<text x="501.7" y="137.51" font-size="3.7" text-anchor="middle" font-weight="normal" font-style="normal" fill="#3a3a3a" >1</text>
<text x="508.3" y="137.51" font-size="3.7" text-anchor="middle" font-weight="normal" font-style="normal" fill="#3a3a3a" >5.6</text>
<text x="466" y="140.88" font-size="3" text-anchor="middle" font-weight="normal" font-style="normal" fill="#666" >D</text>
<text x="501.7" y="141.03" font-size="3.7" text-anchor="middle" font-weight="normal" font-style="normal" fill="#3a3a3a" >1</text>
<text x="508.3" y="141.03" font-size="3.7" text-anchor="middle" font-weight="normal" font-style="normal" fill="#3a3a3a" >5.6</text>
<text x="466" y="144.39" font-size="3" text-anchor="middle" font-weight="normal" font-style="normal" fill="#666" >R</text>
<text x="501.7" y="144.54" font-size="3.7" text-anchor="middle" font-weight="normal" font-style="normal" fill="#3a3a3a" >0</text>
<text x="508.3" y="144.54" font-size="3.7" text-anchor="middle" font-weight="normal" font-style="normal" fill="#3a3a3a" >0</text>
<text x="466" y="147.91" font-size="3" text-anchor="middle" font-weight="normal" font-style="normal" fill="#666" >D</text>
<text x="501.7" y="148.06" font-size="3.7" text-anchor="middle" font-weight="normal" font-style="normal" fill="#3a3a3a" >1</text>
<text x="508.3" y="148.06" font-size="3.7" text-anchor="middle" font-weight="normal" font-style="normal" fill="#3a3a3a" >5.6</text>
<text x="466" y="151.42" font-size="3" text-anchor="middle" font-weight="normal" font-style="normal" fill="#666" >R</text>
<text x="501.7" y="151.57" font-size="3.7" text-anchor="middle" font-weight="normal" font-style="normal" fill="#3a3a3a" >0</text>
<text x="508.3" y="151.57" font-size="3.7" text-anchor="middle" font-weight="normal" font-style="normal" fill="#3a3a3a" >0</text>
<text x="466" y="154.94" font-size="3" text-anchor="middle" font-weight="normal" font-style="normal" fill="#666" >D</text>
<text x="501.7" y="155.09" font-size="3.7" text-anchor="middle" font-weight="normal" font-style="normal" fill="#3a3a3a" >2</text>
<text x="508.3" y="155.09" font-size="3.7" text-anchor="middle" font-weight="normal" font-style="normal" fill="#3a3a3a" >11</text>
<text x="466" y="158.45" font-size="3" text-anchor="middle" font-weight="normal" font-style="normal" fill="#666" >R</text>
<text x="501.7" y="158.6" font-size="3.7" text-anchor="middle" font-weight="normal" font-style="normal" fill="#3a3a3a" >0</text>
<text x="508.3" y="158.6" font-size="3.7" text-anchor="middle" font-weight="normal" font-style="normal" fill="#3a3a3a" >0</text>
<text x="466" y="161.97" font-size="3" text-anchor="middle" font-weight="normal" font-style="normal" fill="#666" >D</text>
<text x="501.7" y="162.12" font-size="3.7" text-anchor="middle" font-weight="normal" font-style="normal" fill="#3a3a3a" >1</text>
<text x="508.3" y="162.12" font-size="3.7" text-anchor="middle" font-weight="normal" font-style="normal" fill="#3a3a3a" >5.6</text>
<text x="466" y="165.48" font-size="3" text-anchor="middle" font-weight="normal" font-style="normal" fill="#666" >R</text>
<text x="501.7" y="165.63" font-size="3.7" text-anchor="middle" font-weight="normal" font-style="normal" fill="#3a3a3a" >1</text>
<text x="508.3" y="165.63" font-size="3.7" text-anchor="middle" font-weight="normal" font-style="normal" fill="#3a3a3a" >5.6</text>
<text x="466" y="169" font-size="3" text-anchor="middle" font-weight="normal" font-style="normal" fill="#666" >D</text>
<text x="501.7" y="169.15" font-size="3.7" text-anchor="middle" font-weight="normal" font-style="normal" fill="#3a3a3a" >1</text>
<text x="508.3" y="169.15" font-size="3.7" text-anchor="middle" font-weight="normal" font-style="normal" fill="#3a3a3a" >5.6</text>
<text x="466" y="172.51" font-size="3" text-anchor="middle" font-weight="normal" font-style="normal" fill="#666" >R</text>
<text x="501.7" y="172.66" font-size="3.7" text-anchor="middle" font-weight="normal" font-style="normal" fill="#3a3a3a" >0</text>
<text x="508.3" y="172.66" font-size="3.7" text-anchor="middle" font-weight="normal" font-style="normal" fill="#3a3a3a" >0</text>
<text x="466" y="176.03" font-size="3" text-anchor="middle" font-weight="normal" font-style="normal" fill="#666" >D</text>
<text x="501.7" y="176.18" font-size="3.7" text-anchor="middle" font-weight="normal" font-style="normal" fill="#3a3a3a" >0</text>
<text x="508.3" y="176.18" font-size="3.7" text-anchor="middle" font-weight="normal" font-style="normal" fill="#3a3a3a" >0</text>
<text x="466" y="179.54" font-size="3" text-anchor="middle" font-weight="normal" font-style="normal" fill="#666" >R</text>
<text x="501.7" y="179.69" font-size="3.7" text-anchor="middle" font-weight="normal" font-style="normal" fill="#3a3a3a" >0</text>
<text x="508.3" y="179.69" font-size="3.7" text-anchor="middle" font-weight="normal" font-style="normal" fill="#3a3a3a" >0</text>
<text x="466" y="183.06" font-size="3" text-anchor="middle" font-weight="normal" font-style="normal" fill="#666" >D</text>
<text x="501.7" y="183.21" font-size="3.7" text-anchor="middle" font-weight="normal" font-style="normal" fill="#3a3a3a" >0</text>
<text x="508.3" y="183.21" font-size="3.7" text-anchor="middle" font-weight="normal" font-style="normal" fill="#3a3a3a" >0</text>
<text x="466" y="186.57" font-size="3" text-anchor="middle" font-weight="normal" font-style="normal" fill="#666" >R</text>
<text x="501.7" y="186.72" font-size="3.7" text-anchor="middle" font-weight="normal" font-style="normal" fill="#3a3a3a" >0</text>
<text x="508.3" y="186.72" font-size="3.7" text-anchor="middle" font-weight="normal" font-style="normal" fill="#3a3a3a" >0</text>
<text x="466" y="190.09" font-size="3" text-anchor="middle" font-weight="normal" font-style="normal" fill="#666" >D</text>
<text x="501.7" y="190.24" font-size="3.7" text-anchor="middle" font-weight="normal" font-style="normal" fill="#3a3a3a" >0</text>
<text x="508.3" y="190.24" font-size="3.7" text-anchor="middle" font-weight="normal" font-style="normal" fill="#3a3a3a" >0</text>
<text x="466" y="193.6" font-size="3" text-anchor="middle" font-weight="normal" font-style="normal" fill="#666" >R</text>
<text x="501.7" y="193.75" font-size="3.7" text-anchor="middle" font-weight="normal" font-style="normal" fill="#3a3a3a" >0</text>
<text x="508.3" y="193.75" font-size="3.7" text-anchor="middle" font-weight="normal" font-style="normal" fill="#3a3a3a" >0</text>
<text x="466" y="197.12" font-size="3" text-anchor="middle" font-weight="normal" font-style="normal" fill="#666" >D</text>
<text x="501.7" y="197.27" font-size="3.7" text-anchor="middle" font-weight="normal" font-style="normal" fill="#3a3a3a" >3</text>
<text x="508.3" y="197.27" font-size="3.7" text-anchor="middle" font-weight="normal" font-style="normal" fill="#3a3a3a" >17</text>
<text x="466" y="200.63" font-size="3" text-anchor="middle" font-weight="normal" font-style="normal" fill="#666" >R</text>
<text x="501.7" y="200.78" font-size="3.7" text-anchor="middle" font-weight="normal" font-style="normal" fill="#3a3a3a" >3</text>
<text x="508.3" y="200.78" font-size="3.7" text-anchor="middle" font-weight="normal" font-style="normal" fill="#3a3a3a" >17</text>
<text x="466" y="204.15" font-size="3" text-anchor="middle" font-weight="normal" font-style="normal" fill="#666" >D</text>
<text x="501.7" y="204.3" font-size="3.7" text-anchor="middle" font-weight="normal" font-style="normal" fill="#3a3a3a" >1</text>
<text x="508.3" y="204.3" font-size="3.7" text-anchor="middle" font-weight="normal" font-style="normal" fill="#3a3a3a" >5.6</text>
<text x="466" y="207.66" font-size="3" text-anchor="middle" font-weight="normal" font-style="normal" fill="#666" >R</text>
<text x="501.7" y="207.81" font-size="3.7" text-anchor="middle" font-weight="normal" font-style="normal" fill="#3a3a3a" >1</text>
<text x="508.3" y="207.81" font-size="3.7" text-anchor="middle" font-weight="normal" font-style="normal" fill="#3a3a3a" >5.6</text>
<text x="466" y="211.18" font-size="3" text-anchor="middle" font-weight="normal" font-style="normal" fill="#666" >D</text>
<text x="501.7" y="211.33" font-size="3.7" text-anchor="middle" font-weight="normal" font-style="normal" fill="#3a3a3a" >0</text>
<text x="508.3" y="211.33" font-size="3.7" text-anchor="middle" font-weight="normal" font-style="normal" fill="#3a3a3a" >0</text>
<text x="466" y="214.69" font-size="3" text-anchor="middle" font-weight="normal" font-style="normal" fill="#666" >R</text>
<text x="501.7" y="214.84" font-size="3.7" text-anchor="middle" font-weight="normal" font-style="normal" fill="#3a3a3a" >0</text>
<text x="508.3" y="214.84" font-size="3.7" text-anchor="middle" font-weight="normal" font-style="normal" fill="#3a3a3a" >0</text>
<text x="466" y="218.21" font-size="3" text-anchor="middle" font-weight="normal" font-style="normal" fill="#666" >D</text>
<text x="501.7" y="218.36" font-size="3.7" text-anchor="middle" font-weight="normal" font-style="normal" fill="#3a3a3a" >0</text>
<text x="508.3" y="218.36" font-size="3.7" text-anchor="middle" font-weight="normal" font-style="normal" fill="#3a3a3a" >0</text>
<text x="466" y="221.72" font-size="3" text-anchor="middle" font-weight="normal" font-style="normal" fill="#666" >R</text>
<text x="501.7" y="221.87" font-size="3.7" text-anchor="middle" font-weight="normal" font-style="normal" fill="#3a3a3a" >0</text>
<text x="508.3" y="221.87" font-size="3.7" text-anchor="middle" font-weight="normal" font-style="normal" fill="#3a3a3a" >0</text>
<text x="466" y="225.24" font-size="3" text-anchor="middle" font-weight="normal" font-style="normal" fill="#666" >D</text>
<text x="501.7" y="225.39" font-size="3.7" text-anchor="middle" font-weight="normal" font-style="normal" fill="#3a3a3a" >1</text>
<text x="508.3" y="225.39" font-size="3.7" text-anchor="middle" font-weight="normal" font-style="normal" fill="#3a3a3a" >5.6</text>
<text x="466" y="228.75" font-size="3" text-anchor="middle" font-weight="normal" font-style="normal" fill="#666" >R</text>
<text x="501.7" y="228.9" font-size="3.7" text-anchor="middle" font-weight="normal" font-style="normal" fill="#3a3a3a" >0</text>
<text x="508.3" y="228.9" font-size="3.7" text-anchor="middle" font-weight="normal" font-style="normal" fill="#3a3a3a" >0</text>
<text x="466" y="232.27" font-size="3" text-anchor="middle" font-weight="normal" font-style="normal" fill="#666" >D</text>
<text x="501.7" y="232.42" font-size="3.7" text-anchor="middle" font-weight="normal" font-style="normal" fill="#3a3a3a" >1</text>
<text x="508.3" y="232.42" font-size="3.7" text-anchor="middle" font-weight="normal" font-style="normal" fill="#3a3a3a" >5.6</text>
<text x="466" y="235.78" font-size="3" text-anchor="middle" font-weight="normal" font-style="normal" fill="#666" >R</text>
<text x="501.7" y="235.93" font-size="3.7" text-anchor="middle" font-weight="normal" font-style="normal" fill="#3a3a3a" >1</text>
<text x="508.3" y="235.93" font-size="3.7" text-anchor="middle" font-weight="normal" font-style="normal" fill="#3a3a3a" >5.6</text>
<text x="466" y="239.3" font-size="3" text-anchor="middle" font-weight="normal" font-style="normal" fill="#666" >D</text>
<text x="501.7" y="239.45" font-size="3.7" text-anchor="middle" font-weight="normal" font-style="normal" fill="#3a3a3a" >1</text>
<text x="508.3" y="239.45" font-size="3.7" text-anchor="middle" font-weight="normal" font-style="normal" fill="#3a3a3a" >5.6</text>
<text x="466" y="242.81" font-size="3" text-anchor="middle" font-weight="normal" font-style="normal" fill="#666" >R</text>
<text x="501.7" y="242.96" font-size="3.7" text-anchor="middle" font-weight="normal" font-style="normal" fill="#3a3a3a" >0</text>
<text x="508.3" y="242.96" font-size="3.7" text-anchor="middle" font-weight="normal" font-style="normal" fill="#3a3a3a" >0</text>
<text x="466" y="246.33" font-size="3" text-anchor="middle" font-weight="normal" font-style="normal" fill="#666" >D</text>
<text x="501.7" y="246.48" font-size="3.7" text-anchor="middle" font-weight="normal" font-style="normal" fill="#3a3a3a" >0</text>
<text x="508.3" y="246.48" font-size="3.7" text-anchor="middle" font-weight="normal" font-style="normal" fill="#3a3a3a" >0</text>
<text x="466" y="249.84" font-size="3" text-anchor="middle" font-weight="normal" font-style="normal" fill="#666" >R</text>
<text x="501.7" y="249.99" font-size="3.7" text-anchor="middle" font-weight="normal" font-style="normal" fill="#3a3a3a" >0</text>
<text x="508.3" y="249.99" font-size="3.7" text-anchor="middle" font-weight="normal" font-style="normal" fill="#3a3a3a" >0</text>
<text x="466" y="253.36" font-size="3" text-anchor="middle" font-weight="normal" font-style="normal" fill="#666" >D</text>
<text x="501.7" y="253.51" font-size="3.7" text-anchor="middle" font-weight="normal" font-style="normal" fill="#3a3a3a" >1</text>
<text x="508.3" y="253.51" font-size="3.7" text-anchor="middle" font-weight="normal" font-style="normal" fill="#3a3a3a" >5.6</text>
<text x="466" y="256.87" font-size="3" text-anchor="middle" font-weight="normal" font-style="normal" fill="#666" >R</text>
<text x="501.7" y="257.02" font-size="3.7" text-anchor="middle" font-weight="normal" font-style="normal" fill="#3a3a3a" >1</text>
<text x="508.3" y="257.02" font-size="3.7" text-anchor="middle" font-weight="normal" font-style="normal" fill="#3a3a3a" >5.6</text>
<text x="466" y="260.39" font-size="3" text-anchor="middle" font-weight="normal" font-style="normal" fill="#666" >D</text>
<text x="501.7" y="260.54" font-size="3.7" text-anchor="middle" font-weight="normal" font-style="normal" fill="#3a3a3a" >0</text>
<text x="508.3" y="260.54" font-size="3.7" text-anchor="middle" font-weight="normal" font-style="normal" fill="#3a3a3a" >0</text>
<text x="466" y="263.9" font-size="3" text-anchor="middle" font-weight="normal" font-style="normal" fill="#666" >R</text>
<text x="501.7" y="264.05" font-size="3.7" text-anchor="middle" font-weight="normal" font-style="normal" fill="#3a3a3a" >0</text>
<text x="508.3" y="264.05" font-size="3.7" text-anchor="middle" font-weight="normal" font-style="normal" fill="#3a3a3a" >0</text>
<text x="466" y="267.42" font-size="3" text-anchor="middle" font-weight="normal" font-style="normal" fill="#666" >D</text>
<text x="501.7" y="267.57" font-size="3.7" text-anchor="middle" font-weight="normal" font-style="normal" fill="#3a3a3a" >0</text>
<text x="508.3" y="267.57" font-size="3.7" text-anchor="middle" font-weight="normal" font-style="normal" fill="#3a3a3a" >0</text>
<text x="466" y="270.93" font-size="3" text-anchor="middle" font-weight="normal" font-style="normal" fill="#666" >R</text>
<text x="501.7" y="271.08" font-size="3.7" text-anchor="middle" font-weight="normal" font-style="normal" fill="#3a3a3a" >0</text>
<text x="508.3" y="271.08" font-size="3.7" text-anchor="middle" font-weight="normal" font-style="normal" fill="#3a3a3a" >0</text>
<text x="466" y="274.45" font-size="3" text-anchor="middle" font-weight="normal" font-style="normal" fill="#666" >D</text>
<text x="501.7" y="274.6" font-size="3.7" text-anchor="middle" font-weight="normal" font-style="normal" fill="#3a3a3a" >0</text>
<text x="508.3" y="274.6" font-size="3.7" text-anchor="middle" font-weight="normal" font-style="normal" fill="#3a3a3a" >0</text>
<text x="466" y="277.96" font-size="3" text-anchor="middle" font-weight="normal" font-style="normal" fill="#666" >R</text>
<text x="501.7" y="278.11" font-size="3.7" text-anchor="middle" font-weight="normal" font-style="normal" fill="#3a3a3a" >0</text>
<text x="508.3" y="278.11" font-size="3.7" text-anchor="middle" font-weight="normal" font-style="normal" fill="#3a3a3a" >0</text>
<text x="466" y="281.48" font-size="3" text-anchor="middle" font-weight="normal" font-style="normal" fill="#666" >D</text>
<text x="501.7" y="281.63" font-size="3.7" text-anchor="middle" font-weight="normal" font-style="normal" fill="#3a3a3a" >0</text>
<text x="508.3" y="281.63" font-size="3.7" text-anchor="middle" font-weight="normal" font-style="normal" fill="#3a3a3a" >0</text>
<text x="466" y="284.99" font-size="3" text-anchor="middle" font-weight="normal" font-style="normal" fill="#666" >R</text>
<text x="501.7" y="285.14" font-size="3.7" text-anchor="middle" font-weight="normal" font-style="normal" fill="#3a3a3a" >0</text>
<text x="508.3" y="285.14" font-size="3.7" text-anchor="middle" font-weight="normal" font-style="normal" fill="#3a3a3a" >0</text>
<text x="466" y="288.51" font-size="3" text-anchor="middle" font-weight="normal" font-style="normal" fill="#666" >D</text>
<text x="501.7" y="288.66" font-size="3.7" text-anchor="middle" font-weight="normal" font-style="normal" fill="#3a3a3a" >0</text>
<text x="508.3" y="288.66" font-size="3.7" text-anchor="middle" font-weight="normal" font-style="normal" fill="#3a3a3a" >0</text>
<text x="466" y="292.02" font-size="3" text-anchor="middle" font-weight="normal" font-style="normal" fill="#666" >R</text>
<text x="501.7" y="292.17" font-size="3.7" text-anchor="middle" font-weight="normal" font-style="normal" fill="#3a3a3a" >0</text>
<text x="508.3" y="292.17" font-size="3.7" text-anchor="middle" font-weight="normal" font-style="normal" fill="#3a3a3a" >0</text>
<text x="466" y="295.54" font-size="3" text-anchor="middle" font-weight="normal" font-style="normal" fill="#666" >D</text>
<text x="501.7" y="295.69" font-size="3.7" text-anchor="middle" font-weight="normal" font-style="normal" fill="#3a3a3a" >0</text>
<text x="508.3" y="295.69" font-size="3.7" text-anchor="middle" font-weight="normal" font-style="normal" fill="#3a3a3a" >0</text>
<text x="466" y="299.05" font-size="3" text-anchor="middle" font-weight="normal" font-style="normal" fill="#666" >R</text>
<text x="501.7" y="299.2" font-size="3.7" text-anchor="middle" font-weight="normal" font-style="normal" fill="#3a3a3a" >0</text>
<text x="508.3" y="299.2" font-size="3.7" text-anchor="middle" font-weight="normal" font-style="normal" fill="#3a3a3a" >0</text>
<text x="466" y="302.57" font-size="3" text-anchor="middle" font-weight="normal" font-style="normal" fill="#666" >D</text>
<text x="501.7" y="302.72" font-size="3.7" text-anchor="middle" font-weight="normal" font-style="normal" fill="#3a3a3a" >3</text>
<text x="508.3" y="302.72" font-size="3.7" text-anchor="middle" font-weight="normal" font-style="normal" fill="#3a3a3a" >17</text>
<text x="466" y="306.08" font-size="3" text-anchor="middle" font-weight="normal" font-style="normal" fill="#666" >R</text>
<text x="501.7" y="306.23" font-size="3.7" text-anchor="middle" font-weight="normal" font-style="normal" fill="#3a3a3a" >3</text>
<text x="508.3" y="306.23" font-size="3.7" text-anchor="middle" font-weight="normal" font-style="normal" fill="#3a3a3a" >17</text>
<text x="466" y="309.6" font-size="3" text-anchor="middle" font-weight="normal" font-style="normal" fill="#666" >D</text>
<text x="501.7" y="309.75" font-size="3.7" text-anchor="middle" font-weight="normal" font-style="normal" fill="#3a3a3a" >1</text>
<text x="508.3" y="309.75" font-size="3.7" text-anchor="middle" font-weight="normal" font-style="normal" fill="#3a3a3a" >5.6</text>
<text x="466" y="313.11" font-size="3" text-anchor="middle" font-weight="normal" font-style="normal" fill="#666" >R</text>
<text x="501.7" y="313.26" font-size="3.7" text-anchor="middle" font-weight="normal" font-style="normal" fill="#3a3a3a" >1</text>
<text x="508.3" y="313.26" font-size="3.7" text-anchor="middle" font-weight="normal" font-style="normal" fill="#3a3a3a" >5.6</text>
<text x="466" y="316.63" font-size="3" text-anchor="middle" font-weight="normal" font-style="normal" fill="#666" >D</text>
<text x="501.7" y="316.78" font-size="3.7" text-anchor="middle" font-weight="normal" font-style="normal" fill="#3a3a3a" >0</text>
<text x="508.3" y="316.78" font-size="3.7" text-anchor="middle" font-weight="normal" font-style="normal" fill="#3a3a3a" >0</text>
<text x="466" y="320.14" font-size="3" text-anchor="middle" font-weight="normal" font-style="normal" fill="#666" >R</text>
<text x="501.7" y="320.29" font-size="3.7" text-anchor="middle" font-weight="normal" font-style="normal" fill="#3a3a3a" >0</text>
<text x="508.3" y="320.29" font-size="3.7" text-anchor="middle" font-weight="normal" font-style="normal" fill="#3a3a3a" >0</text>
<text x="466" y="323.66" font-size="3" text-anchor="middle" font-weight="normal" font-style="normal" fill="#666" >D</text>
<text x="501.7" y="323.81" font-size="3.7" text-anchor="middle" font-weight="normal" font-style="normal" fill="#3a3a3a" >0</text>
<text x="508.3" y="323.81" font-size="3.7" text-anchor="middle" font-weight="normal" font-style="normal" fill="#3a3a3a" >0</text>
<text x="466" y="327.17" font-size="3" text-anchor="middle" font-weight="normal" font-style="normal" fill="#666" >R</text>
<text x="501.7" y="327.32" font-size="3.7" text-anchor="middle" font-weight="normal" font-style="normal" fill="#3a3a3a" >0</text>
<text x="508.3" y="327.32" font-size="3.7" text-anchor="middle" font-weight="normal" font-style="normal" fill="#3a3a3a" >0</text>
<text x="466" y="330.69" font-size="3" text-anchor="middle" font-weight="normal" font-style="normal" fill="#666" >D</text>
<text x="501.7" y="330.84" font-size="3.7" text-anchor="middle" font-weight="normal" font-style="normal" fill="#3a3a3a" >3</text>
<text x="508.3" y="330.84" font-size="3.7" text-anchor="middle" font-weight="normal" font-style="normal" fill="#3a3a3a" >17</text>
<text x="466" y="334.2" font-size="3" text-anchor="middle" font-weight="normal" font-style="normal" fill="#666" >R</text>
<text x="501.7" y="334.35" font-size="3.7" text-anchor="middle" font-weight="normal" font-style="normal" fill="#3a3a3a" >3</text>
<text x="508.3" y="334.35" font-size="3.7" text-anchor="middle" font-weight="normal" font-style="normal" fill="#3a3a3a" >17</text>
<text x="466" y="337.72" font-size="3" text-anchor="middle" font-weight="normal" font-style="normal" fill="#666" >D</text>
<text x="501.7" y="337.87" font-size="3.7" text-anchor="middle" font-weight="normal" font-style="normal" fill="#3a3a3a" >0</text>
<text x="508.3" y="337.87" font-size="3.7" text-anchor="middle" font-weight="normal" font-style="normal" fill="#3a3a3a" >0</text>
<text x="466" y="341.23" font-size="3" text-anchor="middle" font-weight="normal" font-style="normal" fill="#666" >R</text>
<text x="501.7" y="341.38" font-size="3.7" text-anchor="middle" font-weight="normal" font-style="normal" fill="#3a3a3a" >0</text>
<text x="508.3" y="341.38" font-size="3.7" text-anchor="middle" font-weight="normal" font-style="normal" fill="#3a3a3a" >0</text>
<text x="466" y="344.75" font-size="3" text-anchor="middle" font-weight="normal" font-style="normal" fill="#666" >D</text>
<text x="501.7" y="344.9" font-size="3.7" text-anchor="middle" font-weight="normal" font-style="normal" fill="#3a3a3a" >0</text>
<text x="508.3" y="344.9" font-size="3.7" text-anchor="middle" font-weight="normal" font-style="normal" fill="#3a3a3a" >0</text>
<text x="466" y="348.26" font-size="3" text-anchor="middle" font-weight="normal" font-style="normal" fill="#666" >R</text>
<text x="501.7" y="348.41" font-size="3.7" text-anchor="middle" font-weight="normal" font-style="normal" fill="#3a3a3a" >0</text>
<text x="508.3" y="348.41" font-size="3.7" text-anchor="middle" font-weight="normal" font-style="normal" fill="#3a3a3a" >0</text>
<text x="501.7" y="37.4" font-size="3.7" text-anchor="middle" font-weight="normal" font-style="normal" fill="#3a3a3a" >n</text>
<text x="508.3" y="37.4" font-size="3.7" text-anchor="middle" font-weight="normal" font-style="normal" fill="#3a3a3a" >%</text>
<text x="479" y="28.8" font-size="5.6" text-anchor="middle" font-weight="normal" font-style="normal" fill="#222" >ICT</text>
<text x="479" y="35.2" font-size="5.6" text-anchor="middle" font-weight="normal" font-style="normal" fill="#222" >(n = 18)</text>
<text x="7.1" y="375.5" font-size="10" text-anchor="start" font-weight="bold" font-style="normal" fill="#111" stroke="#111" stroke-width="0.45">C</text>
<text x="136.2" y="386.4" font-size="5.93" text-anchor="middle" font-weight="normal" font-style="normal" fill="#222" >Relapsed patients with <tspan font-style="italic">FLT3</tspan>-ITD mutations at diagnosis detected</text>
<text x="136.2" y="393.3" font-size="5.93" text-anchor="middle" font-weight="normal" font-style="normal" fill="#222" >by HTS (n = 105)</text>
<text x="87.6" y="402.3" font-size="5" text-anchor="middle" font-weight="normal" font-style="normal" fill="#222" >ICT + MIDO (n = 35)</text>
<text x="196.8" y="402.3" font-size="5" text-anchor="middle" font-weight="normal" font-style="normal" fill="#222" >ICT (n = 70)</text>
<rect x="39.1" y="406.9" width="2.79" height="3.6" fill="#abba8a"/>
<line x1="31.3" y1="408.7" x2="34.1" y2="408.7" stroke="#444" stroke-width="0.6"/>
<text x="28.8" y="410.15" font-size="4" text-anchor="end" font-weight="normal" font-style="italic" fill="#444" >ASXL1</text>
<rect x="39.1" y="411.06" width="2.79" height="3.6" fill="#2d9fd9"/>
<line x1="31.3" y1="412.86" x2="34.1" y2="412.86" stroke="#444" stroke-width="0.6"/>
<text x="28.8" y="414.31" font-size="4" text-anchor="end" font-weight="normal" font-style="italic" fill="#444" >ASXL2</text>
<rect x="39.1" y="415.22" width="5.58" height="3.6" fill="#2d9fd9"/>
<rect x="44.68" y="415.22" width="2.79" height="3.6" fill="#abba8a"/>
<line x1="31.3" y1="417.02" x2="34.1" y2="417.02" stroke="#444" stroke-width="0.6"/>
<text x="28.8" y="418.47" font-size="4" text-anchor="end" font-weight="normal" font-style="italic" fill="#444" >BCOR</text>
<rect x="39.1" y="419.38" width="2.79" height="3.6" fill="#2d9fd9"/>
<line x1="31.3" y1="421.18" x2="34.1" y2="421.18" stroke="#444" stroke-width="0.6"/>
<text x="28.8" y="422.63" font-size="4" text-anchor="end" font-weight="normal" font-style="italic" fill="#444" >BCORL1</text>
<rect x="39.1" y="423.54" width="2.79" height="3.6" fill="#abba8a"/>
<line x1="31.3" y1="425.34" x2="34.1" y2="425.34" stroke="#444" stroke-width="0.6"/>
<text x="28.8" y="426.79" font-size="4" text-anchor="end" font-weight="normal" font-style="italic" fill="#444" >CBL</text>
<rect x="39.1" y="427.7" width="5.58" height="3.6" fill="#c4122f"/>
<rect x="44.68" y="427.7" width="8.37" height="3.6" fill="#abba8a"/>
<line x1="31.3" y1="429.5" x2="34.1" y2="429.5" stroke="#444" stroke-width="0.6"/>
<text x="28.8" y="430.95" font-size="4" text-anchor="end" font-weight="normal" font-style="italic" fill="#444" >CEBPA</text>
<rect x="39.1" y="431.86" width="2.79" height="3.6" fill="#c4122f"/>
<line x1="31.3" y1="433.66" x2="34.1" y2="433.66" stroke="#444" stroke-width="0.6"/>
<text x="28.8" y="435.11" font-size="4" text-anchor="end" font-weight="normal" font-style="italic" fill="#444" >CSF3R</text>
<rect x="39.1" y="436.02" width="2.79" height="3.6" fill="#abba8a"/>
<line x1="31.3" y1="437.82" x2="34.1" y2="437.82" stroke="#444" stroke-width="0.6"/>
<text x="28.8" y="439.27" font-size="4" text-anchor="end" font-weight="normal" font-style="italic" fill="#444" >CUX1</text>
<rect x="39.1" y="440.18" width="58.56" height="3.6" fill="#abba8a"/>
<line x1="31.3" y1="441.98" x2="34.1" y2="441.98" stroke="#444" stroke-width="0.6"/>
<text x="28.8" y="443.43" font-size="4" text-anchor="end" font-weight="normal" font-style="italic" fill="#444" >DNMT3A</text>
<line x1="31.3" y1="446.14" x2="34.1" y2="446.14" stroke="#444" stroke-width="0.6"/>
<text x="28.8" y="447.59" font-size="4" text-anchor="end" font-weight="normal" font-style="italic" fill="#444" >ETNK1</text>
<rect x="39.1" y="448.5" width="5.58" height="3.6" fill="#abba8a"/>
<line x1="31.3" y1="450.3" x2="34.1" y2="450.3" stroke="#444" stroke-width="0.6"/>
<text x="28.8" y="451.75" font-size="4" text-anchor="end" font-weight="normal" font-style="italic" fill="#444" >ETV6</text>
<line x1="31.3" y1="454.46" x2="34.1" y2="454.46" stroke="#444" stroke-width="0.6"/>
<text x="28.8" y="455.91" font-size="4" text-anchor="end" font-weight="normal" font-style="italic" fill="#444" >EZH2</text>
<rect x="39.1" y="456.82" width="27.89" height="3.6" fill="#2d9fd9"/>
<rect x="66.99" y="456.82" width="69.71" height="3.6" fill="#abba8a"/>
<line x1="31.3" y1="458.62" x2="34.1" y2="458.62" stroke="#444" stroke-width="0.6"/>
<text x="28.8" y="460.07" font-size="4" text-anchor="end" font-weight="normal" font-style="italic" fill="#444" >FLT3-ITD</text>
<rect x="39.1" y="460.98" width="8.37" height="3.6" fill="#c4122f"/>
<rect x="47.47" y="460.98" width="11.15" height="3.6" fill="#2d9fd9"/>
<line x1="31.3" y1="462.78" x2="34.1" y2="462.78" stroke="#444" stroke-width="0.6"/>
<text x="28.8" y="464.23" font-size="4" text-anchor="end" font-weight="normal" font-style="italic" fill="#444" >FLT3-PM</text>
<rect x="39.1" y="465.14" width="2.79" height="3.6" fill="#c4122f"/>
<rect x="41.89" y="465.14" width="2.79" height="3.6" fill="#2d9fd9"/>
<line x1="31.3" y1="466.94" x2="34.1" y2="466.94" stroke="#444" stroke-width="0.6"/>
<text x="28.8" y="468.39" font-size="4" text-anchor="end" font-weight="normal" font-style="italic" fill="#444" >GATA2</text>
<line x1="31.3" y1="471.1" x2="34.1" y2="471.1" stroke="#444" stroke-width="0.6"/>
<text x="28.8" y="472.55" font-size="4" text-anchor="end" font-weight="normal" font-style="italic" fill="#444" >GNB1</text>
<rect x="39.1" y="473.46" width="2.79" height="3.6" fill="#2d9fd9"/>
<rect x="41.89" y="473.46" width="11.15" height="3.6" fill="#abba8a"/>
<line x1="31.3" y1="475.26" x2="34.1" y2="475.26" stroke="#444" stroke-width="0.6"/>
<text x="28.8" y="476.71" font-size="4" text-anchor="end" font-weight="normal" font-style="italic" fill="#444" >IDH1</text>
<rect x="39.1" y="477.62" width="5.58" height="3.6" fill="#c4122f"/>
<rect x="44.68" y="477.62" width="8.37" height="3.6" fill="#abba8a"/>
<line x1="31.3" y1="479.42" x2="34.1" y2="479.42" stroke="#444" stroke-width="0.6"/>
<text x="28.8" y="480.87" font-size="4" text-anchor="end" font-weight="normal" font-style="italic" fill="#444" >IDH2</text>
<line x1="31.3" y1="483.58" x2="34.1" y2="483.58" stroke="#444" stroke-width="0.6"/>
<text x="28.8" y="485.03" font-size="4" text-anchor="end" font-weight="normal" font-style="italic" fill="#444" >JAK2</text>
<line x1="31.3" y1="487.74" x2="34.1" y2="487.74" stroke="#444" stroke-width="0.6"/>
<text x="28.8" y="489.19" font-size="4" text-anchor="end" font-weight="normal" font-style="italic" fill="#444" >KDM6A</text>
<line x1="31.3" y1="491.9" x2="34.1" y2="491.9" stroke="#444" stroke-width="0.6"/>
<text x="28.8" y="493.35" font-size="4" text-anchor="end" font-weight="normal" font-style="italic" fill="#444" >KIT</text>
<rect x="39.1" y="494.26" width="8.37" height="3.6" fill="#2d9fd9"/>
<rect x="47.47" y="494.26" width="2.79" height="3.6" fill="#abba8a"/>
<line x1="31.3" y1="496.06" x2="34.1" y2="496.06" stroke="#444" stroke-width="0.6"/>
<text x="28.8" y="497.51" font-size="4" text-anchor="end" font-weight="normal" font-style="italic" fill="#444" >KRAS</text>
<rect x="39.1" y="498.42" width="2.79" height="3.6" fill="#abba8a"/>
<line x1="31.3" y1="500.22" x2="34.1" y2="500.22" stroke="#444" stroke-width="0.6"/>
<text x="28.8" y="501.67" font-size="4" text-anchor="end" font-weight="normal" font-style="italic" fill="#444" >MYC</text>
<rect x="39.1" y="502.58" width="2.79" height="3.6" fill="#c4122f"/>
<rect x="41.89" y="502.58" width="8.37" height="3.6" fill="#2d9fd9"/>
<line x1="31.3" y1="504.38" x2="34.1" y2="504.38" stroke="#444" stroke-width="0.6"/>
<text x="28.8" y="505.83" font-size="4" text-anchor="end" font-weight="normal" font-style="italic" fill="#444" >NF1</text>
<line x1="31.3" y1="508.54" x2="34.1" y2="508.54" stroke="#444" stroke-width="0.6"/>
<text x="28.8" y="509.99" font-size="4" text-anchor="end" font-weight="normal" font-style="italic" fill="#444" >NFE2</text>
<rect x="39.1" y="510.9" width="5.58" height="3.6" fill="#2d9fd9"/>
<rect x="44.68" y="510.9" width="50.19" height="3.6" fill="#abba8a"/>
<line x1="31.3" y1="512.7" x2="34.1" y2="512.7" stroke="#444" stroke-width="0.6"/>
<text x="28.8" y="514.15" font-size="4" text-anchor="end" font-weight="normal" font-style="italic" fill="#444" >NPM1</text>
<rect x="39.1" y="515.06" width="5.58" height="3.6" fill="#c4122f"/>
<rect x="44.68" y="515.06" width="11.15" height="3.6" fill="#2d9fd9"/>
<rect x="55.83" y="515.06" width="5.58" height="3.6" fill="#abba8a"/>
<line x1="31.3" y1="516.86" x2="34.1" y2="516.86" stroke="#444" stroke-width="0.6"/>
<text x="28.8" y="518.31" font-size="4" text-anchor="end" font-weight="normal" font-style="italic" fill="#444" >NRAS</text>
<rect x="39.1" y="519.22" width="2.79" height="3.6" fill="#abba8a"/>
<line x1="31.3" y1="521.02" x2="34.1" y2="521.02" stroke="#444" stroke-width="0.6"/>
<text x="28.8" y="522.47" font-size="4" text-anchor="end" font-weight="normal" font-style="italic" fill="#444" >PHF6</text>
<line x1="31.3" y1="525.18" x2="34.1" y2="525.18" stroke="#444" stroke-width="0.6"/>
<text x="28.8" y="526.63" font-size="4" text-anchor="end" font-weight="normal" font-style="italic" fill="#444" >PPM1D</text>
<rect x="39.1" y="527.54" width="2.79" height="3.6" fill="#abba8a"/>
<line x1="31.3" y1="529.34" x2="34.1" y2="529.34" stroke="#444" stroke-width="0.6"/>
<text x="28.8" y="530.79" font-size="4" text-anchor="end" font-weight="normal" font-style="italic" fill="#444" >PRPF8</text>
<rect x="39.1" y="531.7" width="2.79" height="3.6" fill="#c4122f"/>
<rect x="41.89" y="531.7" width="2.79" height="3.6" fill="#2d9fd9"/>
<line x1="31.3" y1="533.5" x2="34.1" y2="533.5" stroke="#444" stroke-width="0.6"/>
<text x="28.8" y="534.95" font-size="4" text-anchor="end" font-weight="normal" font-style="italic" fill="#444" >PTPN11</text>
<rect x="39.1" y="535.86" width="2.79" height="3.6" fill="#c4122f"/>
<rect x="41.89" y="535.86" width="2.79" height="3.6" fill="#2d9fd9"/>
<rect x="44.68" y="535.86" width="11.15" height="3.6" fill="#abba8a"/>
<line x1="31.3" y1="537.66" x2="34.1" y2="537.66" stroke="#444" stroke-width="0.6"/>
<text x="28.8" y="539.11" font-size="4" text-anchor="end" font-weight="normal" font-style="italic" fill="#444" >RAD21</text>
<line x1="31.3" y1="541.82" x2="34.1" y2="541.82" stroke="#444" stroke-width="0.6"/>
<text x="28.8" y="543.27" font-size="4" text-anchor="end" font-weight="normal" font-style="italic" fill="#444" >RIT1</text>
<rect x="39.1" y="544.18" width="2.79" height="3.6" fill="#c4122f"/>
<rect x="41.89" y="544.18" width="11.15" height="3.6" fill="#abba8a"/>
<line x1="31.3" y1="545.98" x2="34.1" y2="545.98" stroke="#444" stroke-width="0.6"/>
<text x="28.8" y="547.43" font-size="4" text-anchor="end" font-weight="normal" font-style="italic" fill="#444" >RUNX1</text>
<line x1="31.3" y1="550.14" x2="34.1" y2="550.14" stroke="#444" stroke-width="0.6"/>
<text x="28.8" y="551.59" font-size="4" text-anchor="end" font-weight="normal" font-style="italic" fill="#444" >SF3B1</text>
<line x1="31.3" y1="554.3" x2="34.1" y2="554.3" stroke="#444" stroke-width="0.6"/>
<text x="28.8" y="555.75" font-size="4" text-anchor="end" font-weight="normal" font-style="italic" fill="#444" >SMC1A</text>
<rect x="39.1" y="556.66" width="2.79" height="3.6" fill="#2d9fd9"/>
<rect x="41.89" y="556.66" width="5.58" height="3.6" fill="#abba8a"/>
<line x1="31.3" y1="558.46" x2="34.1" y2="558.46" stroke="#444" stroke-width="0.6"/>
<text x="28.8" y="559.91" font-size="4" text-anchor="end" font-weight="normal" font-style="italic" fill="#444" >SMC3</text>
<rect x="39.1" y="560.82" width="8.37" height="3.6" fill="#abba8a"/>
<line x1="31.3" y1="562.62" x2="34.1" y2="562.62" stroke="#444" stroke-width="0.6"/>
<text x="28.8" y="564.07" font-size="4" text-anchor="end" font-weight="normal" font-style="italic" fill="#444" >SRSF2</text>
<rect x="39.1" y="564.98" width="2.79" height="3.6" fill="#c4122f"/>
<rect x="41.89" y="564.98" width="2.79" height="3.6" fill="#abba8a"/>
<line x1="31.3" y1="566.78" x2="34.1" y2="566.78" stroke="#444" stroke-width="0.6"/>
<text x="28.8" y="568.23" font-size="4" text-anchor="end" font-weight="normal" font-style="italic" fill="#444" >STAG2</text>
<rect x="39.1" y="569.14" width="2.79" height="3.6" fill="#c4122f"/>
<rect x="41.89" y="569.14" width="13.94" height="3.6" fill="#abba8a"/>
<line x1="31.3" y1="570.94" x2="34.1" y2="570.94" stroke="#444" stroke-width="0.6"/>
<text x="28.8" y="572.39" font-size="4" text-anchor="end" font-weight="normal" font-style="italic" fill="#444" >TET2</text>
<line x1="31.3" y1="575.1" x2="34.1" y2="575.1" stroke="#444" stroke-width="0.6"/>
<text x="28.8" y="576.55" font-size="4" text-anchor="end" font-weight="normal" font-style="italic" fill="#444" >TP53</text>
<rect x="39.1" y="577.46" width="2.79" height="3.6" fill="#abba8a"/>
<line x1="31.3" y1="579.26" x2="34.1" y2="579.26" stroke="#444" stroke-width="0.6"/>
<text x="28.8" y="580.71" font-size="4" text-anchor="end" font-weight="normal" font-style="italic" fill="#444" >U2AF1</text>
<line x1="31.3" y1="583.42" x2="34.1" y2="583.42" stroke="#444" stroke-width="0.6"/>
<text x="28.8" y="584.87" font-size="4" text-anchor="end" font-weight="normal" font-style="italic" fill="#444" >UBTF</text>
<rect x="39.1" y="585.78" width="8.37" height="3.6" fill="#c4122f"/>
<rect x="47.47" y="585.78" width="2.79" height="3.6" fill="#2d9fd9"/>
<rect x="50.25" y="585.78" width="13.94" height="3.6" fill="#abba8a"/>
<line x1="31.3" y1="587.58" x2="34.1" y2="587.58" stroke="#444" stroke-width="0.6"/>
<text x="28.8" y="589.03" font-size="4" text-anchor="end" font-weight="normal" font-style="italic" fill="#444" >WT1</text>
<path d="M34.1 406.5V588.8Q34.1 589.8 35.1 589.8H140.5" stroke="#4a4a4a" stroke-width="1.0" fill="none"/>
<line x1="39.1" y1="589.8" x2="39.1" y2="591.8" stroke="#555" stroke-width="0.6"/>
<text x="39.1" y="598.3" font-size="4" text-anchor="middle" font-weight="normal" font-style="normal" fill="#333" >0%</text>
<line x1="63.5" y1="589.8" x2="63.5" y2="591.8" stroke="#555" stroke-width="0.6"/>
<text x="63.5" y="598.3" font-size="4" text-anchor="middle" font-weight="normal" font-style="normal" fill="#333" >25%</text>
<line x1="87.9" y1="589.8" x2="87.9" y2="591.8" stroke="#555" stroke-width="0.6"/>
<text x="87.9" y="598.3" font-size="4" text-anchor="middle" font-weight="normal" font-style="normal" fill="#333" >50%</text>
<line x1="112.3" y1="589.8" x2="112.3" y2="591.8" stroke="#555" stroke-width="0.6"/>
<text x="112.3" y="598.3" font-size="4" text-anchor="middle" font-weight="normal" font-style="normal" fill="#333" >75%</text>
<line x1="136.7" y1="589.8" x2="136.7" y2="591.8" stroke="#555" stroke-width="0.6"/>
<text x="136.7" y="598.3" font-size="4" text-anchor="middle" font-weight="normal" font-style="normal" fill="#333" >100%</text>
<rect x="148.3" y="406.9" width="1.39" height="3.6" fill="#c4122f"/>
<rect x="149.69" y="406.9" width="5.55" height="3.6" fill="#abba8a"/>
<rect x="148.3" y="411.06" width="1.39" height="3.6" fill="#abba8a"/>
<rect x="148.3" y="415.22" width="1.39" height="3.6" fill="#abba8a"/>
<rect x="148.3" y="423.54" width="1.39" height="3.6" fill="#c4122f"/>
<rect x="149.69" y="423.54" width="1.39" height="3.6" fill="#abba8a"/>
<rect x="148.3" y="427.7" width="1.39" height="3.6" fill="#abba8a"/>
<rect x="148.3" y="440.18" width="4.17" height="3.6" fill="#c4122f"/>
<rect x="152.47" y="440.18" width="49.99" height="3.6" fill="#abba8a"/>
<rect x="148.3" y="444.34" width="1.39" height="3.6" fill="#c4122f"/>
<rect x="148.3" y="452.66" width="1.39" height="3.6" fill="#c4122f"/>
<rect x="148.3" y="456.82" width="12.5" height="3.6" fill="#2d9fd9"/>
<rect x="160.8" y="456.82" width="84.7" height="3.6" fill="#abba8a"/>
<rect x="148.3" y="460.98" width="12.5" height="3.6" fill="#2d9fd9"/>
<rect x="160.8" y="460.98" width="4.17" height="3.6" fill="#abba8a"/>
<rect x="148.3" y="465.14" width="1.39" height="3.6" fill="#c4122f"/>
<rect x="149.69" y="465.14" width="1.39" height="3.6" fill="#abba8a"/>
<rect x="148.3" y="469.3" width="1.39" height="3.6" fill="#c4122f"/>
<rect x="148.3" y="473.46" width="6.94" height="3.6" fill="#abba8a"/>
<rect x="148.3" y="477.62" width="1.39" height="3.6" fill="#c4122f"/>
<rect x="149.69" y="477.62" width="2.78" height="3.6" fill="#2d9fd9"/>
<rect x="152.47" y="477.62" width="6.94" height="3.6" fill="#abba8a"/>
<rect x="148.3" y="481.78" width="1.39" height="3.6" fill="#2d9fd9"/>
<rect x="148.3" y="485.94" width="1.39" height="3.6" fill="#c4122f"/>
<rect x="148.3" y="490.1" width="1.39" height="3.6" fill="#2d9fd9"/>
<rect x="148.3" y="494.26" width="1.39" height="3.6" fill="#c4122f"/>
<rect x="149.69" y="494.26" width="8.33" height="3.6" fill="#2d9fd9"/>
<rect x="148.3" y="498.42" width="2.78" height="3.6" fill="#2d9fd9"/>
<rect x="148.3" y="502.58" width="4.17" height="3.6" fill="#2d9fd9"/>
<rect x="152.47" y="502.58" width="2.78" height="3.6" fill="#abba8a"/>
<rect x="148.3" y="506.74" width="1.39" height="3.6" fill="#abba8a"/>
<rect x="148.3" y="510.9" width="2.78" height="3.6" fill="#2d9fd9"/>
<rect x="151.08" y="510.9" width="59.71" height="3.6" fill="#abba8a"/>
<rect x="148.3" y="515.06" width="1.39" height="3.6" fill="#c4122f"/>
<rect x="149.69" y="515.06" width="9.72" height="3.6" fill="#2d9fd9"/>
<rect x="159.41" y="515.06" width="2.78" height="3.6" fill="#abba8a"/>
<rect x="148.3" y="519.22" width="1.39" height="3.6" fill="#abba8a"/>
<rect x="148.3" y="523.38" width="1.39" height="3.6" fill="#c4122f"/>
<rect x="148.3" y="531.7" width="12.5" height="3.6" fill="#2d9fd9"/>
<rect x="148.3" y="535.86" width="5.55" height="3.6" fill="#abba8a"/>
<rect x="148.3" y="540.02" width="2.78" height="3.6" fill="#2d9fd9"/>
<rect x="148.3" y="544.18" width="2.78" height="3.6" fill="#c4122f"/>
<rect x="151.08" y="544.18" width="15.27" height="3.6" fill="#abba8a"/>
<rect x="148.3" y="548.34" width="1.39" height="3.6" fill="#abba8a"/>
<rect x="148.3" y="552.5" width="1.39" height="3.6" fill="#abba8a"/>
<rect x="148.3" y="556.66" width="2.78" height="3.6" fill="#2d9fd9"/>
<rect x="151.08" y="556.66" width="5.55" height="3.6" fill="#abba8a"/>
<rect x="148.3" y="560.82" width="1.39" height="3.6" fill="#abba8a"/>
<rect x="148.3" y="564.98" width="6.94" height="3.6" fill="#abba8a"/>
<rect x="148.3" y="569.14" width="4.17" height="3.6" fill="#c4122f"/>
<rect x="152.47" y="569.14" width="1.39" height="3.6" fill="#2d9fd9"/>
<rect x="153.85" y="569.14" width="15.27" height="3.6" fill="#abba8a"/>
<rect x="148.3" y="573.3" width="2.78" height="3.6" fill="#c4122f"/>
<rect x="148.3" y="581.62" width="1.39" height="3.6" fill="#c4122f"/>
<rect x="149.69" y="581.62" width="1.39" height="3.6" fill="#abba8a"/>
<rect x="148.3" y="585.78" width="15.27" height="3.6" fill="#c4122f"/>
<rect x="163.57" y="585.78" width="20.83" height="3.6" fill="#abba8a"/>
<path d="M143.5 406.5V588.8Q143.5 589.8 144.5 589.8H250" stroke="#4a4a4a" stroke-width="1.0" fill="none"/>
<line x1="148.3" y1="589.8" x2="148.3" y2="591.8" stroke="#555" stroke-width="0.6"/>
<text x="148.3" y="598.3" font-size="4" text-anchor="middle" font-weight="normal" font-style="normal" fill="#333" >0%</text>
<line x1="172.6" y1="589.8" x2="172.6" y2="591.8" stroke="#555" stroke-width="0.6"/>
<text x="172.6" y="598.3" font-size="4" text-anchor="middle" font-weight="normal" font-style="normal" fill="#333" >25%</text>
<line x1="196.9" y1="589.8" x2="196.9" y2="591.8" stroke="#555" stroke-width="0.6"/>
<text x="196.9" y="598.3" font-size="4" text-anchor="middle" font-weight="normal" font-style="normal" fill="#333" >50%</text>
<line x1="221.2" y1="589.8" x2="221.2" y2="591.8" stroke="#555" stroke-width="0.6"/>
<text x="221.2" y="598.3" font-size="4" text-anchor="middle" font-weight="normal" font-style="normal" fill="#333" >75%</text>
<line x1="245.5" y1="589.8" x2="245.5" y2="591.8" stroke="#555" stroke-width="0.6"/>
<text x="245.5" y="598.3" font-size="4" text-anchor="middle" font-weight="normal" font-style="normal" fill="#333" >100%</text>
<text transform="translate(141.5,607.9) scale(0.8,1)" font-size="5.3" text-anchor="middle" fill="#222">Frequency</text>
<text x="266.9" y="375.4" font-size="10" text-anchor="start" font-weight="bold" font-style="normal" fill="#111" stroke="#111" stroke-width="0.45">D</text>
<text x="399.5" y="386.2" font-size="5.95" text-anchor="middle" font-weight="normal" font-style="normal" fill="#222" >Refractory patients with <tspan font-style="italic">FLT3</tspan>-ITD mutations at diagnosis detected by HTS (n = 30)</text>
<text x="350.8" y="402.3" font-size="5" text-anchor="middle" font-weight="normal" font-style="normal" fill="#222" >ICT + MIDO (n = 12)</text>
<text x="459.8" y="402.3" font-size="5" text-anchor="middle" font-weight="normal" font-style="normal" fill="#222" >ICT (n = 18)</text>
<rect x="302" y="407.9" width="8.14" height="4.6" fill="#abba8a"/>
<line x1="294.5" y1="410.2" x2="297.3" y2="410.2" stroke="#444" stroke-width="0.6"/>
<text x="292.5" y="411.65" font-size="4" text-anchor="end" font-weight="normal" font-style="italic" fill="#444" >ASXL1</text>
<rect x="302" y="413.77" width="16.28" height="4.6" fill="#abba8a"/>
<line x1="294.5" y1="416.07" x2="297.3" y2="416.07" stroke="#444" stroke-width="0.6"/>
<text x="292.5" y="417.52" font-size="4" text-anchor="end" font-weight="normal" font-style="italic" fill="#444" >BCOR</text>
<rect x="302" y="419.65" width="8.14" height="4.6" fill="#2d9fd9"/>
<line x1="294.5" y1="421.95" x2="297.3" y2="421.95" stroke="#444" stroke-width="0.6"/>
<text x="292.5" y="423.4" font-size="4" text-anchor="end" font-weight="normal" font-style="italic" fill="#444" >CBL</text>
<rect x="302" y="425.52" width="8.14" height="4.6" fill="#abba8a"/>
<line x1="294.5" y1="427.82" x2="297.3" y2="427.82" stroke="#444" stroke-width="0.6"/>
<text x="292.5" y="429.27" font-size="4" text-anchor="end" font-weight="normal" font-style="italic" fill="#444" >CEBPA</text>
<rect x="302" y="431.39" width="8.14" height="4.6" fill="#2d9fd9"/>
<line x1="294.5" y1="433.69" x2="297.3" y2="433.69" stroke="#444" stroke-width="0.6"/>
<text x="292.5" y="435.14" font-size="4" text-anchor="end" font-weight="normal" font-style="italic" fill="#444" >CSF3R</text>
<rect x="302" y="437.26" width="56.99" height="4.6" fill="#abba8a"/>
<line x1="294.5" y1="439.56" x2="297.3" y2="439.56" stroke="#444" stroke-width="0.6"/>
<text x="292.5" y="441.01" font-size="4" text-anchor="end" font-weight="normal" font-style="italic" fill="#444" >DNMT3A</text>
<rect x="302" y="443.14" width="8.14" height="4.6" fill="#abba8a"/>
<line x1="294.5" y1="445.44" x2="297.3" y2="445.44" stroke="#444" stroke-width="0.6"/>
<text x="292.5" y="446.89" font-size="4" text-anchor="end" font-weight="normal" font-style="italic" fill="#444" >ETNK1</text>
<rect x="302" y="449.01" width="40.71" height="4.6" fill="#2d9fd9"/>
<rect x="342.71" y="449.01" width="56.99" height="4.6" fill="#abba8a"/>
<line x1="294.5" y1="451.31" x2="297.3" y2="451.31" stroke="#444" stroke-width="0.6"/>
<text x="292.5" y="452.76" font-size="4" text-anchor="end" font-weight="normal" font-style="italic" fill="#444" >FLT3-ITD</text>
<rect x="302" y="454.88" width="8.14" height="4.6" fill="#2d9fd9"/>
<rect x="310.14" y="454.88" width="8.14" height="4.6" fill="#abba8a"/>
<line x1="294.5" y1="457.18" x2="297.3" y2="457.18" stroke="#444" stroke-width="0.6"/>
<text x="292.5" y="458.63" font-size="4" text-anchor="end" font-weight="normal" font-style="italic" fill="#444" >FLT3-PM</text>
<rect x="302" y="460.76" width="8.14" height="4.6" fill="#abba8a"/>
<line x1="294.5" y1="463.06" x2="297.3" y2="463.06" stroke="#444" stroke-width="0.6"/>
<text x="292.5" y="464.51" font-size="4" text-anchor="end" font-weight="normal" font-style="italic" fill="#444" >IDH1</text>
<rect x="302" y="466.63" width="16.28" height="4.6" fill="#abba8a"/>
<line x1="294.5" y1="468.93" x2="297.3" y2="468.93" stroke="#444" stroke-width="0.6"/>
<text x="292.5" y="470.38" font-size="4" text-anchor="end" font-weight="normal" font-style="italic" fill="#444" >IDH2</text>
<rect x="302" y="472.5" width="8.14" height="4.6" fill="#c4122f"/>
<line x1="294.5" y1="474.8" x2="297.3" y2="474.8" stroke="#444" stroke-width="0.6"/>
<text x="292.5" y="476.25" font-size="4" text-anchor="end" font-weight="normal" font-style="italic" fill="#444" >JAK2</text>
<line x1="294.5" y1="480.68" x2="297.3" y2="480.68" stroke="#444" stroke-width="0.6"/>
<text x="292.5" y="482.13" font-size="4" text-anchor="end" font-weight="normal" font-style="italic" fill="#444" >KRAS</text>
<line x1="294.5" y1="486.55" x2="297.3" y2="486.55" stroke="#444" stroke-width="0.6"/>
<text x="292.5" y="488" font-size="4" text-anchor="end" font-weight="normal" font-style="italic" fill="#444" >MYC</text>
<rect x="302" y="490.12" width="8.14" height="4.6" fill="#c4122f"/>
<rect x="310.14" y="490.12" width="8.14" height="4.6" fill="#abba8a"/>
<line x1="294.5" y1="492.42" x2="297.3" y2="492.42" stroke="#444" stroke-width="0.6"/>
<text x="292.5" y="493.87" font-size="4" text-anchor="end" font-weight="normal" font-style="italic" fill="#444" >NF1</text>
<line x1="294.5" y1="498.29" x2="297.3" y2="498.29" stroke="#444" stroke-width="0.6"/>
<text x="292.5" y="499.74" font-size="4" text-anchor="end" font-weight="normal" font-style="italic" fill="#444" >NFE2</text>
<rect x="302" y="501.87" width="16.28" height="4.6" fill="#abba8a"/>
<line x1="294.5" y1="504.17" x2="297.3" y2="504.17" stroke="#444" stroke-width="0.6"/>
<text x="292.5" y="505.62" font-size="4" text-anchor="end" font-weight="normal" font-style="italic" fill="#444" >NPM1</text>
<rect x="302" y="507.74" width="8.14" height="4.6" fill="#c4122f"/>
<rect x="310.14" y="507.74" width="8.14" height="4.6" fill="#2d9fd9"/>
<rect x="318.28" y="507.74" width="8.14" height="4.6" fill="#abba8a"/>
<line x1="294.5" y1="510.04" x2="297.3" y2="510.04" stroke="#444" stroke-width="0.6"/>
<text x="292.5" y="511.49" font-size="4" text-anchor="end" font-weight="normal" font-style="italic" fill="#444" >NRAS</text>
<rect x="302" y="513.61" width="8.14" height="4.6" fill="#abba8a"/>
<line x1="294.5" y1="515.91" x2="297.3" y2="515.91" stroke="#444" stroke-width="0.6"/>
<text x="292.5" y="517.36" font-size="4" text-anchor="end" font-weight="normal" font-style="italic" fill="#444" >PHF6</text>
<line x1="294.5" y1="521.79" x2="297.3" y2="521.79" stroke="#444" stroke-width="0.6"/>
<text x="292.5" y="523.24" font-size="4" text-anchor="end" font-weight="normal" font-style="italic" fill="#444" >PTPN11</text>
<line x1="294.5" y1="527.66" x2="297.3" y2="527.66" stroke="#444" stroke-width="0.6"/>
<text x="292.5" y="529.11" font-size="4" text-anchor="end" font-weight="normal" font-style="italic" fill="#444" >RAD21</text>
<line x1="294.5" y1="533.53" x2="297.3" y2="533.53" stroke="#444" stroke-width="0.6"/>
<text x="292.5" y="534.98" font-size="4" text-anchor="end" font-weight="normal" font-style="italic" fill="#444" >RIT1</text>
<rect x="302" y="537.11" width="24.42" height="4.6" fill="#abba8a"/>
<line x1="294.5" y1="539.41" x2="297.3" y2="539.41" stroke="#444" stroke-width="0.6"/>
<text x="292.5" y="540.86" font-size="4" text-anchor="end" font-weight="normal" font-style="italic" fill="#444" >RUNX1</text>
<rect x="302" y="542.98" width="8.14" height="4.6" fill="#2d9fd9"/>
<line x1="294.5" y1="545.28" x2="297.3" y2="545.28" stroke="#444" stroke-width="0.6"/>
<text x="292.5" y="546.73" font-size="4" text-anchor="end" font-weight="normal" font-style="italic" fill="#444" >SF3B1</text>
<rect x="302" y="548.85" width="8.14" height="4.6" fill="#2d9fd9"/>
<line x1="294.5" y1="551.15" x2="297.3" y2="551.15" stroke="#444" stroke-width="0.6"/>
<text x="292.5" y="552.6" font-size="4" text-anchor="end" font-weight="normal" font-style="italic" fill="#444" >SMC1A</text>
<line x1="294.5" y1="557.02" x2="297.3" y2="557.02" stroke="#444" stroke-width="0.6"/>
<text x="292.5" y="558.48" font-size="4" text-anchor="end" font-weight="normal" font-style="italic" fill="#444" >SRSF2</text>
<line x1="294.5" y1="562.9" x2="297.3" y2="562.9" stroke="#444" stroke-width="0.6"/>
<text x="292.5" y="564.35" font-size="4" text-anchor="end" font-weight="normal" font-style="italic" fill="#444" >TET2</text>
<line x1="294.5" y1="568.77" x2="297.3" y2="568.77" stroke="#444" stroke-width="0.6"/>
<text x="292.5" y="570.22" font-size="4" text-anchor="end" font-weight="normal" font-style="italic" fill="#444" >TP53</text>
<rect x="302" y="572.34" width="8.14" height="4.6" fill="#2d9fd9"/>
<line x1="294.5" y1="574.64" x2="297.3" y2="574.64" stroke="#444" stroke-width="0.6"/>
<text x="292.5" y="576.09" font-size="4" text-anchor="end" font-weight="normal" font-style="italic" fill="#444" >U2AF1</text>
<line x1="294.5" y1="580.52" x2="297.3" y2="580.52" stroke="#444" stroke-width="0.6"/>
<text x="292.5" y="581.97" font-size="4" text-anchor="end" font-weight="normal" font-style="italic" fill="#444" >UBTF</text>
<rect x="302" y="584.09" width="8.14" height="4.6" fill="#2d9fd9"/>
<rect x="310.14" y="584.09" width="8.14" height="4.6" fill="#abba8a"/>
<line x1="294.5" y1="586.39" x2="297.3" y2="586.39" stroke="#444" stroke-width="0.6"/>
<text x="292.5" y="587.84" font-size="4" text-anchor="end" font-weight="normal" font-style="italic" fill="#444" >WT1</text>
<path d="M297.3 406.5V589.3Q297.3 590.3 298.3 590.3H405" stroke="#4a4a4a" stroke-width="1.0" fill="none"/>
<line x1="302" y1="590.3" x2="302" y2="592.3" stroke="#555" stroke-width="0.6"/>
<text x="302" y="598.8" font-size="4" text-anchor="middle" font-weight="normal" font-style="normal" fill="#333" >0%</text>
<line x1="326.43" y1="590.3" x2="326.43" y2="592.3" stroke="#555" stroke-width="0.6"/>
<text x="326.43" y="598.8" font-size="4" text-anchor="middle" font-weight="normal" font-style="normal" fill="#333" >25%</text>
<line x1="350.85" y1="590.3" x2="350.85" y2="592.3" stroke="#555" stroke-width="0.6"/>
<text x="350.85" y="598.8" font-size="4" text-anchor="middle" font-weight="normal" font-style="normal" fill="#333" >50%</text>
<line x1="375.27" y1="590.3" x2="375.27" y2="592.3" stroke="#555" stroke-width="0.6"/>
<text x="375.27" y="598.8" font-size="4" text-anchor="middle" font-weight="normal" font-style="normal" fill="#333" >75%</text>
<line x1="399.7" y1="590.3" x2="399.7" y2="592.3" stroke="#555" stroke-width="0.6"/>
<text x="399.7" y="598.8" font-size="4" text-anchor="middle" font-weight="normal" font-style="normal" fill="#333" >100%</text>
<rect x="410.5" y="407.9" width="5.44" height="4.6" fill="#abba8a"/>
<rect x="410.5" y="413.77" width="5.44" height="4.6" fill="#2d9fd9"/>
<rect x="410.5" y="419.65" width="5.44" height="4.6" fill="#abba8a"/>
<rect x="410.5" y="425.52" width="5.44" height="4.6" fill="#c4122f"/>
<rect x="415.94" y="425.52" width="5.44" height="4.6" fill="#2d9fd9"/>
<rect x="410.5" y="437.26" width="5.44" height="4.6" fill="#c4122f"/>
<rect x="415.94" y="437.26" width="21.78" height="4.6" fill="#abba8a"/>
<rect x="410.5" y="449.01" width="10.89" height="4.6" fill="#2d9fd9"/>
<rect x="421.39" y="449.01" width="87.11" height="4.6" fill="#abba8a"/>
<rect x="410.5" y="454.88" width="5.44" height="4.6" fill="#c4122f"/>
<rect x="415.94" y="454.88" width="16.33" height="4.6" fill="#2d9fd9"/>
<rect x="410.5" y="460.76" width="5.44" height="4.6" fill="#2d9fd9"/>
<rect x="410.5" y="466.63" width="5.44" height="4.6" fill="#abba8a"/>
<rect x="410.5" y="478.38" width="5.44" height="4.6" fill="#2d9fd9"/>
<rect x="410.5" y="484.25" width="10.89" height="4.6" fill="#2d9fd9"/>
<rect x="410.5" y="490.12" width="5.44" height="4.6" fill="#2d9fd9"/>
<rect x="410.5" y="495.99" width="5.44" height="4.6" fill="#2d9fd9"/>
<rect x="410.5" y="501.87" width="5.44" height="4.6" fill="#2d9fd9"/>
<rect x="415.94" y="501.87" width="21.78" height="4.6" fill="#abba8a"/>
<rect x="410.5" y="507.74" width="5.44" height="4.6" fill="#2d9fd9"/>
<rect x="415.94" y="507.74" width="10.89" height="4.6" fill="#abba8a"/>
<rect x="410.5" y="519.49" width="5.44" height="4.6" fill="#2d9fd9"/>
<rect x="415.94" y="519.49" width="5.44" height="4.6" fill="#abba8a"/>
<rect x="410.5" y="525.36" width="5.44" height="4.6" fill="#abba8a"/>
<rect x="410.5" y="531.23" width="5.44" height="4.6" fill="#2d9fd9"/>
<rect x="410.5" y="537.11" width="16.33" height="4.6" fill="#abba8a"/>
<rect x="410.5" y="542.98" width="16.33" height="4.6" fill="#abba8a"/>
<rect x="410.5" y="554.73" width="5.44" height="4.6" fill="#abba8a"/>
<rect x="410.5" y="560.6" width="5.44" height="4.6" fill="#c4122f"/>
<rect x="415.94" y="560.6" width="10.89" height="4.6" fill="#abba8a"/>
<rect x="410.5" y="566.47" width="5.44" height="4.6" fill="#c4122f"/>
<rect x="410.5" y="578.22" width="16.33" height="4.6" fill="#abba8a"/>
<rect x="410.5" y="584.09" width="5.44" height="4.6" fill="#c4122f"/>
<rect x="415.94" y="584.09" width="5.44" height="4.6" fill="#2d9fd9"/>
<rect x="421.39" y="584.09" width="27.22" height="4.6" fill="#abba8a"/>
<path d="M406.2 406.5V589.3Q406.2 590.3 407.2 590.3H513" stroke="#4a4a4a" stroke-width="1.0" fill="none"/>
<line x1="410.5" y1="590.3" x2="410.5" y2="592.3" stroke="#555" stroke-width="0.6"/>
<text x="410.5" y="598.8" font-size="4" text-anchor="middle" font-weight="normal" font-style="normal" fill="#333" >0%</text>
<line x1="435" y1="590.3" x2="435" y2="592.3" stroke="#555" stroke-width="0.6"/>
<text x="435" y="598.8" font-size="4" text-anchor="middle" font-weight="normal" font-style="normal" fill="#333" >25%</text>
<line x1="459.5" y1="590.3" x2="459.5" y2="592.3" stroke="#555" stroke-width="0.6"/>
<text x="459.5" y="598.8" font-size="4" text-anchor="middle" font-weight="normal" font-style="normal" fill="#333" >50%</text>
<line x1="484" y1="590.3" x2="484" y2="592.3" stroke="#555" stroke-width="0.6"/>
<text x="484" y="598.8" font-size="4" text-anchor="middle" font-weight="normal" font-style="normal" fill="#333" >75%</text>
<line x1="508.5" y1="590.3" x2="508.5" y2="592.3" stroke="#555" stroke-width="0.6"/>
<text x="508.5" y="598.8" font-size="4" text-anchor="middle" font-weight="normal" font-style="normal" fill="#333" >100%</text>
<text transform="translate(404.8,607.9) scale(0.8,1)" font-size="5.3" text-anchor="middle" fill="#222">Frequency</text>
<text x="104.9" y="617.8" font-size="5.9" text-anchor="start" font-weight="normal" font-style="normal" fill="#333" >Gene status</text>
<rect x="141.5" y="613.1" width="4.6" height="4.6" fill="#2d9fd9"/>
<text x="149.5" y="617.8" font-size="5.9" text-anchor="start" font-weight="normal" font-style="normal" fill="#333" >Mutated at diagnosis only</text>
<rect x="219.2" y="613.1" width="4.6" height="4.6" fill="#abba8a"/>
<text x="227" y="617.8" font-size="5.9" text-anchor="start" font-weight="normal" font-style="normal" fill="#333" >Mutated at both time points</text>
<rect x="302" y="613.1" width="4.7" height="4.7" fill="#c4122f"/>
<text x="310.3" y="617.8" font-size="5.9" text-anchor="start" font-weight="normal" font-style="normal" fill="#333" >Mutated at R/R disease only</text>
<rect x="386.9" y="613.5" width="4.6" height="4.8" fill="#fff" stroke="#666" stroke-width="0.6"/>
<text x="395" y="617.8" font-size="5.9" text-anchor="start" font-weight="normal" font-style="normal" fill="#333" >Absence of mutation</text>
<rect x="0" y="0" width="520" height="0.9" fill="#505050"/>
<rect x="0" y="0" width="1.2" height="625" fill="#505050"/>
<rect x="518.7" y="0" width="1.3" height="625" fill="#505050"/>
<rect x="0" y="623.6" width="520" height="1.4" fill="#505050"/></svg>
</body></html>
